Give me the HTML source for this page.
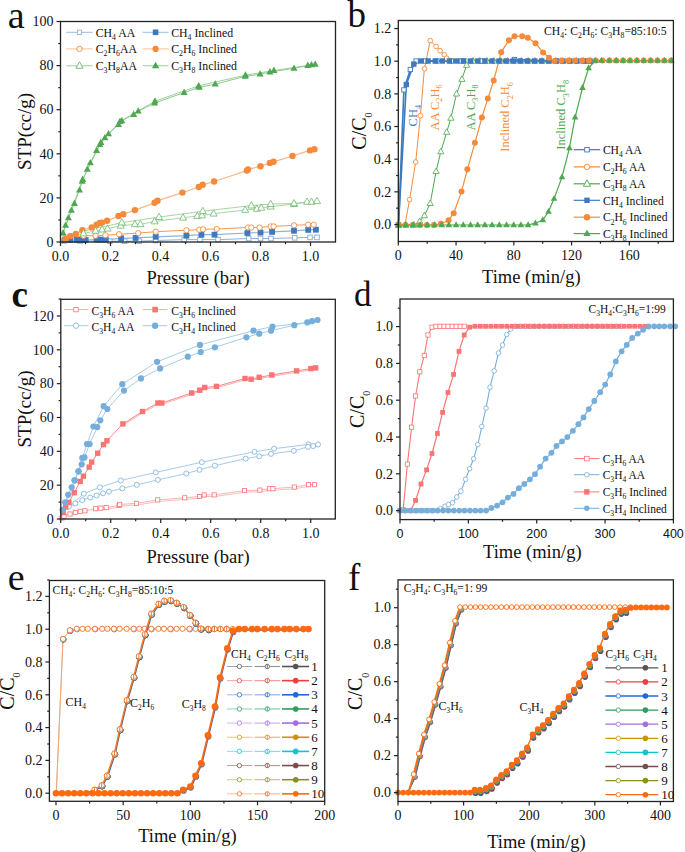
<!DOCTYPE html>
<html><head><meta charset="utf-8"><style>
html,body{margin:0;padding:0;background:#fff;}
svg{display:block;}
text{font-family:"Liberation Serif", serif;}
</style></head><body>
<svg width="685" height="852" viewBox="0 0 685 852">
<rect width="685" height="852" fill="#fff"/>
<polyline points="64,241 80,241 109.7,241.2 124.6,241.2 139.3,241.2 155.7,240.5 184.2,239.6 199.9,239.6 218,239.6 248.7,238.5 260.5,238.5 271,238.5 294.7,237.8 310,237.4 317,237.4" fill="none" stroke="#8fb2dc" stroke-width="1.0" stroke-linejoin="round" opacity="1.0"/>
<polyline points="64.9,240 70.3,240 76.9,240 81.3,240 85.7,240 96.6,239.6 101,239.6 105.8,239.6 121.1,238.3 135.6,237.9 155.7,236.8 186.4,235.7 201.4,234.7 214.5,234.7 247.4,233 260.5,232.5 272.1,231.9 294,230.8 308.2,229.9 315.9,229.7" fill="none" stroke="#8fb2dc" stroke-width="1.2" stroke-linejoin="round" opacity="1.0"/>
<polyline points="65.5,239.6 83.5,235.7 95.5,235.7 105.4,235.3 119,234.2 138.2,233.1 155.7,231.7 186.4,230.2 199.2,229.7 203.1,229.3 216.7,229 248,227.5 251.3,227.5 259.6,227.5 270.6,226.4 273.6,226.4 294,225.3 308.2,224.7 313.7,224.7" fill="none" stroke="#f58b3a" stroke-width="0.9" stroke-linejoin="round" opacity="1.0"/>
<polyline points="65.5,239 70.3,236.1 75.8,233.9 82.4,230.2 91.8,227.4 96.6,224.7 99.9,223 102.1,222.6 107.1,220.8 118.5,216 123.3,214.2 134.9,210.1 154.6,202.8 157.5,200.7 182.4,192.6 198.8,187 202.7,184.8 214.1,181.5 246.9,170.6 248,169.5 260.5,166.2 269.9,162.9 273.6,161.8 292.5,155.9 310,150.4 314.4,149.3" fill="none" stroke="#f9b989" stroke-width="1.3" stroke-linejoin="round" opacity="1.0"/>
<polyline points="62,239 83.5,233.5 95.5,230.9 102.1,229.6 107.6,228.7 120.7,225.8 134.9,224.3 140.4,224.3 154.6,221.5 183.1,217.7 197.3,216 202,215.5 213.6,213.7 245.2,210 256.8,208.9 261.2,207.8 270.6,206.7 294,204.1 307.1,201.9 311.5,201.9 317,201.2" fill="none" stroke="#8fcb8f" stroke-width="0.8" stroke-linejoin="round" opacity="1.0"/>
<polyline points="317,201.2 294,203.4 270.6,204.1 251.3,205.6 202.8,211.2 159,217.1 121.8,222.6 62,236" fill="none" stroke="#8fcb8f" stroke-width="0.8" stroke-linejoin="round" opacity="1.0"/>
<polyline points="63.1,233 65.6,225.4 68.4,217.8 71.4,210.3 74.4,203.5 79.5,190.1 82.2,181.3 87.3,169.4 90.3,162.9 96.6,150.5 99.9,144.7 104.9,137.9 108.5,133.9 118.5,124.6 121.8,120.8 133.7,114.5 138.2,111.2 154.6,103.1 184.1,92.5 199.2,87.4 215.2,84.1 245.2,76.4 260.1,74.2 269.9,72 294,68.3 307.8,65.5 311.5,64.8 315.2,64.4" fill="none" stroke="#8fcb8f" stroke-width="1.0" stroke-linejoin="round" opacity="1.0"/>
<polyline points="315.2,64.4 273.9,70.5 245.5,75.2 198.7,85.8 155,101.2 120,121.5 100.9,142.5 82.7,179.5 63.1,233" fill="none" stroke="#8fcb8f" stroke-width="0.9" stroke-linejoin="round" opacity="1.0"/>
<rect x="61.7" y="238.7" width="4.6" height="4.6" fill="#fff" stroke="#8fb2dc" stroke-width="1.0"/>
<rect x="77.7" y="238.7" width="4.6" height="4.6" fill="#fff" stroke="#8fb2dc" stroke-width="1.0"/>
<rect x="107.4" y="238.9" width="4.6" height="4.6" fill="#fff" stroke="#8fb2dc" stroke-width="1.0"/>
<rect x="122.3" y="238.9" width="4.6" height="4.6" fill="#fff" stroke="#8fb2dc" stroke-width="1.0"/>
<rect x="137" y="238.9" width="4.6" height="4.6" fill="#fff" stroke="#8fb2dc" stroke-width="1.0"/>
<rect x="153.4" y="238.2" width="4.6" height="4.6" fill="#fff" stroke="#8fb2dc" stroke-width="1.0"/>
<rect x="181.9" y="237.3" width="4.6" height="4.6" fill="#fff" stroke="#8fb2dc" stroke-width="1.0"/>
<rect x="197.6" y="237.3" width="4.6" height="4.6" fill="#fff" stroke="#8fb2dc" stroke-width="1.0"/>
<rect x="215.7" y="237.3" width="4.6" height="4.6" fill="#fff" stroke="#8fb2dc" stroke-width="1.0"/>
<rect x="246.4" y="236.2" width="4.6" height="4.6" fill="#fff" stroke="#8fb2dc" stroke-width="1.0"/>
<rect x="258.2" y="236.2" width="4.6" height="4.6" fill="#fff" stroke="#8fb2dc" stroke-width="1.0"/>
<rect x="268.7" y="236.2" width="4.6" height="4.6" fill="#fff" stroke="#8fb2dc" stroke-width="1.0"/>
<rect x="292.4" y="235.5" width="4.6" height="4.6" fill="#fff" stroke="#8fb2dc" stroke-width="1.0"/>
<rect x="307.7" y="235.1" width="4.6" height="4.6" fill="#fff" stroke="#8fb2dc" stroke-width="1.0"/>
<rect x="314.7" y="235.1" width="4.6" height="4.6" fill="#fff" stroke="#8fb2dc" stroke-width="1.0"/>
<rect x="62" y="237.1" width="5.8" height="5.8" fill="#3d79c0"/>
<rect x="67.4" y="237.1" width="5.8" height="5.8" fill="#3d79c0"/>
<rect x="74" y="237.1" width="5.8" height="5.8" fill="#3d79c0"/>
<rect x="78.4" y="237.1" width="5.8" height="5.8" fill="#3d79c0"/>
<rect x="82.8" y="237.1" width="5.8" height="5.8" fill="#3d79c0"/>
<rect x="93.7" y="236.7" width="5.8" height="5.8" fill="#3d79c0"/>
<rect x="98.1" y="236.7" width="5.8" height="5.8" fill="#3d79c0"/>
<rect x="102.9" y="236.7" width="5.8" height="5.8" fill="#3d79c0"/>
<rect x="118.2" y="235.4" width="5.8" height="5.8" fill="#3d79c0"/>
<rect x="132.7" y="235" width="5.8" height="5.8" fill="#3d79c0"/>
<rect x="152.8" y="233.9" width="5.8" height="5.8" fill="#3d79c0"/>
<rect x="183.5" y="232.8" width="5.8" height="5.8" fill="#3d79c0"/>
<rect x="198.5" y="231.8" width="5.8" height="5.8" fill="#3d79c0"/>
<rect x="211.6" y="231.8" width="5.8" height="5.8" fill="#3d79c0"/>
<rect x="244.5" y="230.1" width="5.8" height="5.8" fill="#3d79c0"/>
<rect x="257.6" y="229.6" width="5.8" height="5.8" fill="#3d79c0"/>
<rect x="269.2" y="229" width="5.8" height="5.8" fill="#3d79c0"/>
<rect x="291.1" y="227.9" width="5.8" height="5.8" fill="#3d79c0"/>
<rect x="305.3" y="227" width="5.8" height="5.8" fill="#3d79c0"/>
<rect x="313" y="226.8" width="5.8" height="5.8" fill="#3d79c0"/>
<circle cx="65.5" cy="239.6" r="2.65" fill="#fff" stroke="#f58b3a" stroke-width="0.9"/>
<circle cx="83.5" cy="235.7" r="2.65" fill="#fff" stroke="#f58b3a" stroke-width="0.9"/>
<circle cx="95.5" cy="235.7" r="2.65" fill="#fff" stroke="#f58b3a" stroke-width="0.9"/>
<circle cx="105.4" cy="235.3" r="2.65" fill="#fff" stroke="#f58b3a" stroke-width="0.9"/>
<circle cx="119" cy="234.2" r="2.65" fill="#fff" stroke="#f58b3a" stroke-width="0.9"/>
<circle cx="138.2" cy="233.1" r="2.65" fill="#fff" stroke="#f58b3a" stroke-width="0.9"/>
<circle cx="155.7" cy="231.7" r="2.65" fill="#fff" stroke="#f58b3a" stroke-width="0.9"/>
<circle cx="186.4" cy="230.2" r="2.65" fill="#fff" stroke="#f58b3a" stroke-width="0.9"/>
<circle cx="199.2" cy="229.7" r="2.65" fill="#fff" stroke="#f58b3a" stroke-width="0.9"/>
<circle cx="203.1" cy="229.3" r="2.65" fill="#fff" stroke="#f58b3a" stroke-width="0.9"/>
<circle cx="216.7" cy="229" r="2.65" fill="#fff" stroke="#f58b3a" stroke-width="0.9"/>
<circle cx="248" cy="227.5" r="2.65" fill="#fff" stroke="#f58b3a" stroke-width="0.9"/>
<circle cx="251.3" cy="227.5" r="2.65" fill="#fff" stroke="#f58b3a" stroke-width="0.9"/>
<circle cx="259.6" cy="227.5" r="2.65" fill="#fff" stroke="#f58b3a" stroke-width="0.9"/>
<circle cx="270.6" cy="226.4" r="2.65" fill="#fff" stroke="#f58b3a" stroke-width="0.9"/>
<circle cx="273.6" cy="226.4" r="2.65" fill="#fff" stroke="#f58b3a" stroke-width="0.9"/>
<circle cx="294" cy="225.3" r="2.65" fill="#fff" stroke="#f58b3a" stroke-width="0.9"/>
<circle cx="308.2" cy="224.7" r="2.65" fill="#fff" stroke="#f58b3a" stroke-width="0.9"/>
<circle cx="313.7" cy="224.7" r="2.65" fill="#fff" stroke="#f58b3a" stroke-width="0.9"/>
<circle cx="65.5" cy="239" r="3.2" fill="#f58b3a"/>
<circle cx="70.3" cy="236.1" r="3.2" fill="#f58b3a"/>
<circle cx="75.8" cy="233.9" r="3.2" fill="#f58b3a"/>
<circle cx="82.4" cy="230.2" r="3.2" fill="#f58b3a"/>
<circle cx="91.8" cy="227.4" r="3.2" fill="#f58b3a"/>
<circle cx="96.6" cy="224.7" r="3.2" fill="#f58b3a"/>
<circle cx="99.9" cy="223" r="3.2" fill="#f58b3a"/>
<circle cx="102.1" cy="222.6" r="3.2" fill="#f58b3a"/>
<circle cx="107.1" cy="220.8" r="3.2" fill="#f58b3a"/>
<circle cx="118.5" cy="216" r="3.2" fill="#f58b3a"/>
<circle cx="123.3" cy="214.2" r="3.2" fill="#f58b3a"/>
<circle cx="134.9" cy="210.1" r="3.2" fill="#f58b3a"/>
<circle cx="154.6" cy="202.8" r="3.2" fill="#f58b3a"/>
<circle cx="157.5" cy="200.7" r="3.2" fill="#f58b3a"/>
<circle cx="182.4" cy="192.6" r="3.2" fill="#f58b3a"/>
<circle cx="198.8" cy="187" r="3.2" fill="#f58b3a"/>
<circle cx="202.7" cy="184.8" r="3.2" fill="#f58b3a"/>
<circle cx="214.1" cy="181.5" r="3.2" fill="#f58b3a"/>
<circle cx="246.9" cy="170.6" r="3.2" fill="#f58b3a"/>
<circle cx="248" cy="169.5" r="3.2" fill="#f58b3a"/>
<circle cx="260.5" cy="166.2" r="3.2" fill="#f58b3a"/>
<circle cx="269.9" cy="162.9" r="3.2" fill="#f58b3a"/>
<circle cx="273.6" cy="161.8" r="3.2" fill="#f58b3a"/>
<circle cx="292.5" cy="155.9" r="3.2" fill="#f58b3a"/>
<circle cx="310" cy="150.4" r="3.2" fill="#f58b3a"/>
<circle cx="314.4" cy="149.3" r="3.2" fill="#f58b3a"/>
<polygon points="83.5,229.59 80,235.89 87,235.89" fill="#fff" stroke="#6cb86c" stroke-width="0.8" stroke-linejoin="miter"/>
<polygon points="95.5,226.99 92,233.29 99,233.29" fill="#fff" stroke="#6cb86c" stroke-width="0.8" stroke-linejoin="miter"/>
<polygon points="102.1,225.69 98.6,231.99 105.6,231.99" fill="#fff" stroke="#6cb86c" stroke-width="0.8" stroke-linejoin="miter"/>
<polygon points="107.6,224.79 104.1,231.09 111.1,231.09" fill="#fff" stroke="#6cb86c" stroke-width="0.8" stroke-linejoin="miter"/>
<polygon points="120.7,221.89 117.2,228.19 124.2,228.19" fill="#fff" stroke="#6cb86c" stroke-width="0.8" stroke-linejoin="miter"/>
<polygon points="134.9,220.39 131.4,226.69 138.4,226.69" fill="#fff" stroke="#6cb86c" stroke-width="0.8" stroke-linejoin="miter"/>
<polygon points="140.4,220.39 136.9,226.69 143.9,226.69" fill="#fff" stroke="#6cb86c" stroke-width="0.8" stroke-linejoin="miter"/>
<polygon points="154.6,217.59 151.1,223.89 158.1,223.89" fill="#fff" stroke="#6cb86c" stroke-width="0.8" stroke-linejoin="miter"/>
<polygon points="183.1,213.79 179.6,220.09 186.6,220.09" fill="#fff" stroke="#6cb86c" stroke-width="0.8" stroke-linejoin="miter"/>
<polygon points="197.3,212.09 193.8,218.39 200.8,218.39" fill="#fff" stroke="#6cb86c" stroke-width="0.8" stroke-linejoin="miter"/>
<polygon points="202,211.59 198.5,217.89 205.5,217.89" fill="#fff" stroke="#6cb86c" stroke-width="0.8" stroke-linejoin="miter"/>
<polygon points="213.6,209.79 210.1,216.09 217.1,216.09" fill="#fff" stroke="#6cb86c" stroke-width="0.8" stroke-linejoin="miter"/>
<polygon points="245.2,206.09 241.7,212.39 248.7,212.39" fill="#fff" stroke="#6cb86c" stroke-width="0.8" stroke-linejoin="miter"/>
<polygon points="256.8,204.99 253.3,211.29 260.3,211.29" fill="#fff" stroke="#6cb86c" stroke-width="0.8" stroke-linejoin="miter"/>
<polygon points="261.2,203.89 257.7,210.19 264.7,210.19" fill="#fff" stroke="#6cb86c" stroke-width="0.8" stroke-linejoin="miter"/>
<polygon points="270.6,202.79 267.1,209.09 274.1,209.09" fill="#fff" stroke="#6cb86c" stroke-width="0.8" stroke-linejoin="miter"/>
<polygon points="294,200.19 290.5,206.49 297.5,206.49" fill="#fff" stroke="#6cb86c" stroke-width="0.8" stroke-linejoin="miter"/>
<polygon points="307.1,197.99 303.6,204.29 310.6,204.29" fill="#fff" stroke="#6cb86c" stroke-width="0.8" stroke-linejoin="miter"/>
<polygon points="311.5,197.99 308,204.29 315,204.29" fill="#fff" stroke="#6cb86c" stroke-width="0.8" stroke-linejoin="miter"/>
<polygon points="317,197.29 313.5,203.59 320.5,203.59" fill="#fff" stroke="#6cb86c" stroke-width="0.8" stroke-linejoin="miter"/>
<polygon points="294,199.49 290.5,205.79 297.5,205.79" fill="#fff" stroke="#6cb86c" stroke-width="0.8" stroke-linejoin="miter"/>
<polygon points="270.6,200.19 267.1,206.49 274.1,206.49" fill="#fff" stroke="#6cb86c" stroke-width="0.8" stroke-linejoin="miter"/>
<polygon points="251.3,201.69 247.8,207.99 254.8,207.99" fill="#fff" stroke="#6cb86c" stroke-width="0.8" stroke-linejoin="miter"/>
<polygon points="202.8,207.29 199.3,213.59 206.3,213.59" fill="#fff" stroke="#6cb86c" stroke-width="0.8" stroke-linejoin="miter"/>
<polygon points="159,213.19 155.5,219.49 162.5,219.49" fill="#fff" stroke="#6cb86c" stroke-width="0.8" stroke-linejoin="miter"/>
<polygon points="121.8,218.69 118.3,224.99 125.3,224.99" fill="#fff" stroke="#6cb86c" stroke-width="0.8" stroke-linejoin="miter"/>
<polygon points="63.1,229.09 59.6,235.39 66.6,235.39" fill="#4ea84f"/>
<polygon points="65.6,221.49 62.1,227.79 69.1,227.79" fill="#4ea84f"/>
<polygon points="68.4,213.89 64.9,220.19 71.9,220.19" fill="#4ea84f"/>
<polygon points="71.4,206.39 67.9,212.69 74.9,212.69" fill="#4ea84f"/>
<polygon points="74.4,199.59 70.9,205.89 77.9,205.89" fill="#4ea84f"/>
<polygon points="79.5,186.19 76,192.49 83,192.49" fill="#4ea84f"/>
<polygon points="82.2,177.39 78.7,183.69 85.7,183.69" fill="#4ea84f"/>
<polygon points="87.3,165.49 83.8,171.79 90.8,171.79" fill="#4ea84f"/>
<polygon points="90.3,158.99 86.8,165.29 93.8,165.29" fill="#4ea84f"/>
<polygon points="96.6,146.59 93.1,152.89 100.1,152.89" fill="#4ea84f"/>
<polygon points="99.9,140.79 96.4,147.09 103.4,147.09" fill="#4ea84f"/>
<polygon points="104.9,133.99 101.4,140.29 108.4,140.29" fill="#4ea84f"/>
<polygon points="108.5,129.99 105,136.29 112,136.29" fill="#4ea84f"/>
<polygon points="118.5,120.69 115,126.99 122,126.99" fill="#4ea84f"/>
<polygon points="121.8,116.89 118.3,123.19 125.3,123.19" fill="#4ea84f"/>
<polygon points="133.7,110.59 130.2,116.89 137.2,116.89" fill="#4ea84f"/>
<polygon points="138.2,107.29 134.7,113.59 141.7,113.59" fill="#4ea84f"/>
<polygon points="154.6,99.19 151.1,105.49 158.1,105.49" fill="#4ea84f"/>
<polygon points="184.1,88.59 180.6,94.89 187.6,94.89" fill="#4ea84f"/>
<polygon points="199.2,83.49 195.7,89.79 202.7,89.79" fill="#4ea84f"/>
<polygon points="215.2,80.19 211.7,86.49 218.7,86.49" fill="#4ea84f"/>
<polygon points="245.2,72.49 241.7,78.79 248.7,78.79" fill="#4ea84f"/>
<polygon points="260.1,70.29 256.6,76.59 263.6,76.59" fill="#4ea84f"/>
<polygon points="269.9,68.09 266.4,74.39 273.4,74.39" fill="#4ea84f"/>
<polygon points="294,64.39 290.5,70.69 297.5,70.69" fill="#4ea84f"/>
<polygon points="307.8,61.59 304.3,67.89 311.3,67.89" fill="#4ea84f"/>
<polygon points="311.5,60.89 308,67.19 315,67.19" fill="#4ea84f"/>
<polygon points="315.2,60.49 311.7,66.79 318.7,66.79" fill="#4ea84f"/>
<polygon points="273.9,66.59 270.4,72.89 277.4,72.89" fill="#4ea84f"/>
<polygon points="245.5,71.29 242,77.59 249,77.59" fill="#4ea84f"/>
<polygon points="198.7,81.89 195.2,88.19 202.2,88.19" fill="#4ea84f"/>
<polygon points="155,97.29 151.5,103.59 158.5,103.59" fill="#4ea84f"/>
<polygon points="120,117.59 116.5,123.89 123.5,123.89" fill="#4ea84f"/>
<polygon points="100.9,138.59 97.4,144.89 104.4,144.89" fill="#4ea84f"/>
<polygon points="82.7,175.59 79.2,181.89 86.2,181.89" fill="#4ea84f"/>
<rect x="60.5" y="21.5" width="275" height="220.5" fill="none" stroke="#222" stroke-width="1.3"/>
<line x1="56.5" y1="242" x2="60.5" y2="242" stroke="#222" stroke-width="1.2"/>
<text x="53.5" y="246.76" font-size="14" text-anchor="end" fill="#111">0</text>
<line x1="56.5" y1="197.9" x2="60.5" y2="197.9" stroke="#222" stroke-width="1.2"/>
<text x="53.5" y="202.66" font-size="14" text-anchor="end" fill="#111">20</text>
<line x1="56.5" y1="153.8" x2="60.5" y2="153.8" stroke="#222" stroke-width="1.2"/>
<text x="53.5" y="158.56" font-size="14" text-anchor="end" fill="#111">40</text>
<line x1="56.5" y1="109.7" x2="60.5" y2="109.7" stroke="#222" stroke-width="1.2"/>
<text x="53.5" y="114.46" font-size="14" text-anchor="end" fill="#111">60</text>
<line x1="56.5" y1="65.6" x2="60.5" y2="65.6" stroke="#222" stroke-width="1.2"/>
<text x="53.5" y="70.36" font-size="14" text-anchor="end" fill="#111">80</text>
<line x1="56.5" y1="21.5" x2="60.5" y2="21.5" stroke="#222" stroke-width="1.2"/>
<text x="53.5" y="26.26" font-size="14" text-anchor="end" fill="#111">100</text>
<line x1="58.3" y1="219.95" x2="60.5" y2="219.95" stroke="#222" stroke-width="1.2"/>
<line x1="58.3" y1="175.85" x2="60.5" y2="175.85" stroke="#222" stroke-width="1.2"/>
<line x1="58.3" y1="131.75" x2="60.5" y2="131.75" stroke="#222" stroke-width="1.2"/>
<line x1="58.3" y1="87.65" x2="60.5" y2="87.65" stroke="#222" stroke-width="1.2"/>
<line x1="58.3" y1="43.55" x2="60.5" y2="43.55" stroke="#222" stroke-width="1.2"/>
<line x1="60.5" y1="242" x2="60.5" y2="246" stroke="#222" stroke-width="1.2"/>
<text x="60.5" y="260.5" font-size="14" text-anchor="middle" fill="#111">0.0</text>
<line x1="110.5" y1="242" x2="110.5" y2="246" stroke="#222" stroke-width="1.2"/>
<text x="110.5" y="260.5" font-size="14" text-anchor="middle" fill="#111">0.2</text>
<line x1="160.5" y1="242" x2="160.5" y2="246" stroke="#222" stroke-width="1.2"/>
<text x="160.5" y="260.5" font-size="14" text-anchor="middle" fill="#111">0.4</text>
<line x1="210.5" y1="242" x2="210.5" y2="246" stroke="#222" stroke-width="1.2"/>
<text x="210.5" y="260.5" font-size="14" text-anchor="middle" fill="#111">0.6</text>
<line x1="260.5" y1="242" x2="260.5" y2="246" stroke="#222" stroke-width="1.2"/>
<text x="260.5" y="260.5" font-size="14" text-anchor="middle" fill="#111">0.8</text>
<line x1="310.5" y1="242" x2="310.5" y2="246" stroke="#222" stroke-width="1.2"/>
<text x="310.5" y="260.5" font-size="14" text-anchor="middle" fill="#111">1.0</text>
<line x1="85.5" y1="242" x2="85.5" y2="244.2" stroke="#222" stroke-width="1.2"/>
<line x1="135.5" y1="242" x2="135.5" y2="244.2" stroke="#222" stroke-width="1.2"/>
<line x1="185.5" y1="242" x2="185.5" y2="244.2" stroke="#222" stroke-width="1.2"/>
<line x1="235.5" y1="242" x2="235.5" y2="244.2" stroke="#222" stroke-width="1.2"/>
<line x1="285.5" y1="242" x2="285.5" y2="244.2" stroke="#222" stroke-width="1.2"/>
<line x1="66.2" y1="32.3" x2="92.6" y2="32.3" stroke="#8fb2dc" stroke-width="0.9"/>
<rect x="77.35" y="30.15" width="4.3" height="4.3" fill="#fff" stroke="#8fb2dc" stroke-width="0.9"/>
<text x="95.7" y="36.5" font-size="11.8" text-anchor="start" fill="#111">CH<tspan font-size="7.79" dy="3.19">4</tspan><tspan dy="-3.19"> AA</tspan></text>
<line x1="142.6" y1="32.3" x2="168.6" y2="32.3" stroke="#8fb2dc" stroke-width="0.9"/>
<rect x="152.8" y="29.5" width="5.6" height="5.6" fill="#3d79c0"/>
<text x="171.2" y="36.5" font-size="11.8" text-anchor="start" fill="#111">CH<tspan font-size="7.79" dy="3.19">4</tspan><tspan dy="-3.19"> Inclined</tspan></text>
<line x1="66.2" y1="48.9" x2="92.6" y2="48.9" stroke="#f9b989" stroke-width="0.9"/>
<circle cx="79.5" cy="48.9" r="2.65" fill="#fff" stroke="#f58b3a" stroke-width="0.9"/>
<text x="95.7" y="53.1" font-size="11.8" text-anchor="start" fill="#111">C<tspan font-size="7.79" dy="3.19">2</tspan><tspan dy="-3.19">H</tspan><tspan font-size="7.79" dy="3.19">6</tspan><tspan dy="-3.19">AA</tspan></text>
<line x1="142.6" y1="48.9" x2="168.6" y2="48.9" stroke="#f9b989" stroke-width="0.9"/>
<circle cx="155.6" cy="48.9" r="3.1" fill="#f58b3a"/>
<text x="171.2" y="53.1" font-size="11.8" text-anchor="start" fill="#111">C<tspan font-size="7.79" dy="3.19">2</tspan><tspan dy="-3.19">H</tspan><tspan font-size="7.79" dy="3.19">6</tspan><tspan dy="-3.19"> Inclined</tspan></text>
<line x1="66.2" y1="65.8" x2="92.6" y2="65.8" stroke="#8fcb8f" stroke-width="0.9"/>
<polygon points="79.5,61.78 75.9,68.26 83.1,68.26" fill="#fff" stroke="#6cb86c" stroke-width="0.9" stroke-linejoin="miter"/>
<text x="95.7" y="70" font-size="11.8" text-anchor="start" fill="#111">C<tspan font-size="7.79" dy="3.19">3</tspan><tspan dy="-3.19">H</tspan><tspan font-size="7.79" dy="3.19">8</tspan><tspan dy="-3.19">AA</tspan></text>
<line x1="142.6" y1="65.8" x2="168.6" y2="65.8" stroke="#8fcb8f" stroke-width="0.9"/>
<polygon points="155.6,61.67 151.9,68.33 159.3,68.33" fill="#4ea84f"/>
<text x="171.2" y="70" font-size="11.8" text-anchor="start" fill="#111">C<tspan font-size="7.79" dy="3.19">3</tspan><tspan dy="-3.19">H</tspan><tspan font-size="7.79" dy="3.19">8</tspan><tspan dy="-3.19"> Inclined</tspan></text>
<text x="198" y="283.5" font-size="18.5" text-anchor="middle" fill="#111">Pressure (bar)</text>
<text x="31.2" y="131.5" font-size="19" text-anchor="middle" fill="#111" transform="rotate(-90 31.2 131.5)">STP(cc/g)</text>
<text x="7.8" y="28" font-size="38" text-anchor="start" fill="#111">a</text>
<polyline points="398.5,225 404.9,225 409.6,199.6 415.7,162 420.4,115.7 424.4,68.8 430.2,40.6 436.1,46.4 440.1,50.7 444.3,54.7 446.7,58.2 452,61 458.9,61 465.8,61 472.7,61 479.6,61 486.5,61 493.4,61 500.3,61 507.2,61 514.1,61 521,61 527.9,61 534.8,61 541.7,61 548.6,61 555.5,61 562.4,61 569.3,61 576.2,61 583.1,61 590,61" fill="none" stroke="#f58b3a" stroke-width="1.0" stroke-linejoin="round" opacity="1.0"/>
<polyline points="398.5,225 406,225 413.8,225 419.7,221.4 424.4,215.6 430.2,203.4 436.1,171.4 440.8,151.7 446.7,132.2 450.9,118.1 456.5,93.9 461.9,79.3 466.6,65.2 473,61 479.9,61 486.8,61 493.7,61 500.6,61 507.5,61 514.4,61 521.3,61 528.2,61 535.1,61 542,61 548.9,61 555.8,61 562.7,61 569.6,61 576.5,61 583.4,61 590.3,61" fill="none" stroke="#4ea84f" stroke-width="1.0" stroke-linejoin="round" opacity="1.0"/>
<polyline points="398.5,225 403.9,89.9 410.3,69.5 416.1,61 425.5,61 436.8,61 451.4,61 461.9,61 481.9,61 514.5,59.5 556,61 588,61" fill="none" stroke="#3d79c0" stroke-width="1.6" stroke-linejoin="round" opacity="1.0"/>
<polyline points="398.5,225 406.3,84.5 413.8,64.1 421,61 428.1,61 435.2,61 442.3,61 449.4,61 456.5,61 463.6,61 470.7,61 477.8,61 484.9,61 492,61 499.1,61 506.2,61 513.3,61 520.4,61 527.5,61 534.6,61 541.7,61 548.8,61 556,61 563,61 570,61 577,61 584,61 590,61" fill="none" stroke="#3d79c0" stroke-width="1.6" stroke-linejoin="round" opacity="1.0"/>
<circle cx="398.5" cy="225" r="2.35" fill="#fff" stroke="#f58b3a" stroke-width="0.9"/>
<circle cx="404.9" cy="225" r="2.35" fill="#fff" stroke="#f58b3a" stroke-width="0.9"/>
<circle cx="409.6" cy="199.6" r="2.35" fill="#fff" stroke="#f58b3a" stroke-width="0.9"/>
<circle cx="415.7" cy="162" r="2.35" fill="#fff" stroke="#f58b3a" stroke-width="0.9"/>
<circle cx="420.4" cy="115.7" r="2.35" fill="#fff" stroke="#f58b3a" stroke-width="0.9"/>
<circle cx="424.4" cy="68.8" r="2.35" fill="#fff" stroke="#f58b3a" stroke-width="0.9"/>
<circle cx="430.2" cy="40.6" r="2.35" fill="#fff" stroke="#f58b3a" stroke-width="0.9"/>
<circle cx="436.1" cy="46.4" r="2.35" fill="#fff" stroke="#f58b3a" stroke-width="0.9"/>
<circle cx="440.1" cy="50.7" r="2.35" fill="#fff" stroke="#f58b3a" stroke-width="0.9"/>
<circle cx="444.3" cy="54.7" r="2.35" fill="#fff" stroke="#f58b3a" stroke-width="0.9"/>
<circle cx="446.7" cy="58.2" r="2.35" fill="#fff" stroke="#f58b3a" stroke-width="0.9"/>
<circle cx="452" cy="61" r="2.35" fill="#fff" stroke="#f58b3a" stroke-width="0.9"/>
<circle cx="458.9" cy="61" r="2.35" fill="#fff" stroke="#f58b3a" stroke-width="0.9"/>
<circle cx="465.8" cy="61" r="2.35" fill="#fff" stroke="#f58b3a" stroke-width="0.9"/>
<circle cx="472.7" cy="61" r="2.35" fill="#fff" stroke="#f58b3a" stroke-width="0.9"/>
<circle cx="479.6" cy="61" r="2.35" fill="#fff" stroke="#f58b3a" stroke-width="0.9"/>
<circle cx="486.5" cy="61" r="2.35" fill="#fff" stroke="#f58b3a" stroke-width="0.9"/>
<circle cx="493.4" cy="61" r="2.35" fill="#fff" stroke="#f58b3a" stroke-width="0.9"/>
<circle cx="500.3" cy="61" r="2.35" fill="#fff" stroke="#f58b3a" stroke-width="0.9"/>
<circle cx="507.2" cy="61" r="2.35" fill="#fff" stroke="#f58b3a" stroke-width="0.9"/>
<circle cx="514.1" cy="61" r="2.35" fill="#fff" stroke="#f58b3a" stroke-width="0.9"/>
<circle cx="521" cy="61" r="2.35" fill="#fff" stroke="#f58b3a" stroke-width="0.9"/>
<circle cx="527.9" cy="61" r="2.35" fill="#fff" stroke="#f58b3a" stroke-width="0.9"/>
<circle cx="534.8" cy="61" r="2.35" fill="#fff" stroke="#f58b3a" stroke-width="0.9"/>
<circle cx="541.7" cy="61" r="2.35" fill="#fff" stroke="#f58b3a" stroke-width="0.9"/>
<circle cx="548.6" cy="61" r="2.35" fill="#fff" stroke="#f58b3a" stroke-width="0.9"/>
<circle cx="555.5" cy="61" r="2.35" fill="#fff" stroke="#f58b3a" stroke-width="0.9"/>
<circle cx="562.4" cy="61" r="2.35" fill="#fff" stroke="#f58b3a" stroke-width="0.9"/>
<circle cx="569.3" cy="61" r="2.35" fill="#fff" stroke="#f58b3a" stroke-width="0.9"/>
<circle cx="576.2" cy="61" r="2.35" fill="#fff" stroke="#f58b3a" stroke-width="0.9"/>
<circle cx="583.1" cy="61" r="2.35" fill="#fff" stroke="#f58b3a" stroke-width="0.9"/>
<circle cx="590" cy="61" r="2.35" fill="#fff" stroke="#f58b3a" stroke-width="0.9"/>
<polygon points="398.5,221.54 395.4,227.12 401.6,227.12" fill="#fff" stroke="#4ea84f" stroke-width="0.8" stroke-linejoin="miter"/>
<polygon points="406,221.54 402.9,227.12 409.1,227.12" fill="#fff" stroke="#4ea84f" stroke-width="0.8" stroke-linejoin="miter"/>
<polygon points="413.8,221.54 410.7,227.12 416.9,227.12" fill="#fff" stroke="#4ea84f" stroke-width="0.8" stroke-linejoin="miter"/>
<polygon points="419.7,217.94 416.6,223.52 422.8,223.52" fill="#fff" stroke="#4ea84f" stroke-width="0.8" stroke-linejoin="miter"/>
<polygon points="424.4,212.14 421.3,217.72 427.5,217.72" fill="#fff" stroke="#4ea84f" stroke-width="0.8" stroke-linejoin="miter"/>
<polygon points="430.2,199.94 427.1,205.52 433.3,205.52" fill="#fff" stroke="#4ea84f" stroke-width="0.8" stroke-linejoin="miter"/>
<polygon points="436.1,167.94 433,173.52 439.2,173.52" fill="#fff" stroke="#4ea84f" stroke-width="0.8" stroke-linejoin="miter"/>
<polygon points="440.8,148.24 437.7,153.82 443.9,153.82" fill="#fff" stroke="#4ea84f" stroke-width="0.8" stroke-linejoin="miter"/>
<polygon points="446.7,128.74 443.6,134.32 449.8,134.32" fill="#fff" stroke="#4ea84f" stroke-width="0.8" stroke-linejoin="miter"/>
<polygon points="450.9,114.64 447.8,120.22 454,120.22" fill="#fff" stroke="#4ea84f" stroke-width="0.8" stroke-linejoin="miter"/>
<polygon points="456.5,90.44 453.4,96.02 459.6,96.02" fill="#fff" stroke="#4ea84f" stroke-width="0.8" stroke-linejoin="miter"/>
<polygon points="461.9,75.84 458.8,81.42 465,81.42" fill="#fff" stroke="#4ea84f" stroke-width="0.8" stroke-linejoin="miter"/>
<polygon points="466.6,61.74 463.5,67.32 469.7,67.32" fill="#fff" stroke="#4ea84f" stroke-width="0.8" stroke-linejoin="miter"/>
<polygon points="473,57.54 469.9,63.12 476.1,63.12" fill="#fff" stroke="#4ea84f" stroke-width="0.8" stroke-linejoin="miter"/>
<polygon points="479.9,57.54 476.8,63.12 483,63.12" fill="#fff" stroke="#4ea84f" stroke-width="0.8" stroke-linejoin="miter"/>
<polygon points="486.8,57.54 483.7,63.12 489.9,63.12" fill="#fff" stroke="#4ea84f" stroke-width="0.8" stroke-linejoin="miter"/>
<polygon points="493.7,57.54 490.6,63.12 496.8,63.12" fill="#fff" stroke="#4ea84f" stroke-width="0.8" stroke-linejoin="miter"/>
<polygon points="500.6,57.54 497.5,63.12 503.7,63.12" fill="#fff" stroke="#4ea84f" stroke-width="0.8" stroke-linejoin="miter"/>
<polygon points="507.5,57.54 504.4,63.12 510.6,63.12" fill="#fff" stroke="#4ea84f" stroke-width="0.8" stroke-linejoin="miter"/>
<polygon points="514.4,57.54 511.3,63.12 517.5,63.12" fill="#fff" stroke="#4ea84f" stroke-width="0.8" stroke-linejoin="miter"/>
<polygon points="521.3,57.54 518.2,63.12 524.4,63.12" fill="#fff" stroke="#4ea84f" stroke-width="0.8" stroke-linejoin="miter"/>
<polygon points="528.2,57.54 525.1,63.12 531.3,63.12" fill="#fff" stroke="#4ea84f" stroke-width="0.8" stroke-linejoin="miter"/>
<polygon points="535.1,57.54 532,63.12 538.2,63.12" fill="#fff" stroke="#4ea84f" stroke-width="0.8" stroke-linejoin="miter"/>
<polygon points="542,57.54 538.9,63.12 545.1,63.12" fill="#fff" stroke="#4ea84f" stroke-width="0.8" stroke-linejoin="miter"/>
<polygon points="548.9,57.54 545.8,63.12 552,63.12" fill="#fff" stroke="#4ea84f" stroke-width="0.8" stroke-linejoin="miter"/>
<polygon points="555.8,57.54 552.7,63.12 558.9,63.12" fill="#fff" stroke="#4ea84f" stroke-width="0.8" stroke-linejoin="miter"/>
<polygon points="562.7,57.54 559.6,63.12 565.8,63.12" fill="#fff" stroke="#4ea84f" stroke-width="0.8" stroke-linejoin="miter"/>
<polygon points="569.6,57.54 566.5,63.12 572.7,63.12" fill="#fff" stroke="#4ea84f" stroke-width="0.8" stroke-linejoin="miter"/>
<polygon points="576.5,57.54 573.4,63.12 579.6,63.12" fill="#fff" stroke="#4ea84f" stroke-width="0.8" stroke-linejoin="miter"/>
<polygon points="583.4,57.54 580.3,63.12 586.5,63.12" fill="#fff" stroke="#4ea84f" stroke-width="0.8" stroke-linejoin="miter"/>
<polygon points="590.3,57.54 587.2,63.12 593.4,63.12" fill="#fff" stroke="#4ea84f" stroke-width="0.8" stroke-linejoin="miter"/>
<rect x="396.35" y="222.85" width="4.3" height="4.3" fill="#fff" stroke="#3d79c0" stroke-width="0.9"/>
<rect x="401.75" y="87.75" width="4.3" height="4.3" fill="#fff" stroke="#3d79c0" stroke-width="0.9"/>
<rect x="408.15" y="67.35" width="4.3" height="4.3" fill="#fff" stroke="#3d79c0" stroke-width="0.9"/>
<rect x="413.95" y="58.85" width="4.3" height="4.3" fill="#fff" stroke="#3d79c0" stroke-width="0.9"/>
<rect x="423.35" y="58.85" width="4.3" height="4.3" fill="#fff" stroke="#3d79c0" stroke-width="0.9"/>
<rect x="434.65" y="58.85" width="4.3" height="4.3" fill="#fff" stroke="#3d79c0" stroke-width="0.9"/>
<rect x="449.25" y="58.85" width="4.3" height="4.3" fill="#fff" stroke="#3d79c0" stroke-width="0.9"/>
<rect x="459.75" y="58.85" width="4.3" height="4.3" fill="#fff" stroke="#3d79c0" stroke-width="0.9"/>
<rect x="479.75" y="58.85" width="4.3" height="4.3" fill="#fff" stroke="#3d79c0" stroke-width="0.9"/>
<rect x="512.35" y="57.35" width="4.3" height="4.3" fill="#fff" stroke="#3d79c0" stroke-width="0.9"/>
<rect x="553.85" y="58.85" width="4.3" height="4.3" fill="#fff" stroke="#3d79c0" stroke-width="0.9"/>
<rect x="585.85" y="58.85" width="4.3" height="4.3" fill="#fff" stroke="#3d79c0" stroke-width="0.9"/>
<polyline points="398.5,225 405.6,225 412.7,225 419.8,225 426.9,225 434,225 440.8,223.8 448.6,220.3 453.7,213.2 461.5,191.6 467.4,169.3 474.9,142.8 481.9,117.4 487.8,98.6 493.7,80.5 501.2,52.2 508.9,40.3 514.5,36.2 522.2,36.2 527.8,37.8 535.5,43.2 543.1,52.4 549.1,57.7 554.6,61 561.5,60.6 568.35,60.6 575.2,60.6 582.05,60.6 588.9,60.6 595.75,60.6 602.6,60.6 609.45,60.6 616.3,60.6 623.15,60.6 630,60.6 636.85,60.6 643.7,60.6 650.55,60.6 657.4,60.6 664.25,60.6 671.1,60.6" fill="none" stroke="#f58b3a" stroke-width="1.2" stroke-linejoin="round" opacity="1.0"/>
<polyline points="398.5,225 405.7,225 412.9,225 420.1,225 427.3,225 434.5,225 441.7,225 448.9,225 456.1,225 463.3,225 470.5,225 477.7,225 484.9,225 492.1,225 499.3,225 506.5,225 513.7,225 520.9,225 528.1,225 535.4,223.2 542.8,220 548.5,211.6 554.1,198.6 562,177.1 569.4,148.1 575.1,117.3 582.5,87.7 588.6,68 595.3,60.6 601.4,60.6 609.3,60.6 616.2,60.6 623.1,60.6 630,60.6 636.9,60.6 643.8,60.6 650.7,60.6 657.6,60.6 664.5,60.6 671.4,60.6" fill="none" stroke="#4ea84f" stroke-width="1.2" stroke-linejoin="round" opacity="1.0"/>
<rect x="395.8" y="222.3" width="5.4" height="5.4" fill="#3d79c0"/>
<rect x="403.6" y="81.8" width="5.4" height="5.4" fill="#3d79c0"/>
<rect x="411.1" y="61.4" width="5.4" height="5.4" fill="#3d79c0"/>
<rect x="418.3" y="58.3" width="5.4" height="5.4" fill="#3d79c0"/>
<rect x="425.4" y="58.3" width="5.4" height="5.4" fill="#3d79c0"/>
<rect x="432.5" y="58.3" width="5.4" height="5.4" fill="#3d79c0"/>
<rect x="439.6" y="58.3" width="5.4" height="5.4" fill="#3d79c0"/>
<rect x="446.7" y="58.3" width="5.4" height="5.4" fill="#3d79c0"/>
<rect x="453.8" y="58.3" width="5.4" height="5.4" fill="#3d79c0"/>
<rect x="460.9" y="58.3" width="5.4" height="5.4" fill="#3d79c0"/>
<rect x="468" y="58.3" width="5.4" height="5.4" fill="#3d79c0"/>
<rect x="475.1" y="58.3" width="5.4" height="5.4" fill="#3d79c0"/>
<rect x="482.2" y="58.3" width="5.4" height="5.4" fill="#3d79c0"/>
<rect x="489.3" y="58.3" width="5.4" height="5.4" fill="#3d79c0"/>
<rect x="496.4" y="58.3" width="5.4" height="5.4" fill="#3d79c0"/>
<rect x="503.5" y="58.3" width="5.4" height="5.4" fill="#3d79c0"/>
<rect x="510.6" y="58.3" width="5.4" height="5.4" fill="#3d79c0"/>
<rect x="517.7" y="58.3" width="5.4" height="5.4" fill="#3d79c0"/>
<rect x="524.8" y="58.3" width="5.4" height="5.4" fill="#3d79c0"/>
<rect x="531.9" y="58.3" width="5.4" height="5.4" fill="#3d79c0"/>
<rect x="539" y="58.3" width="5.4" height="5.4" fill="#3d79c0"/>
<rect x="546.1" y="58.3" width="5.4" height="5.4" fill="#3d79c0"/>
<rect x="553.3" y="58.3" width="5.4" height="5.4" fill="#3d79c0"/>
<rect x="560.3" y="58.3" width="5.4" height="5.4" fill="#3d79c0"/>
<rect x="567.3" y="58.3" width="5.4" height="5.4" fill="#3d79c0"/>
<rect x="574.3" y="58.3" width="5.4" height="5.4" fill="#3d79c0"/>
<rect x="581.3" y="58.3" width="5.4" height="5.4" fill="#3d79c0"/>
<rect x="587.3" y="58.3" width="5.4" height="5.4" fill="#3d79c0"/>
<circle cx="398.5" cy="225" r="3" fill="#f58b3a"/>
<circle cx="405.6" cy="225" r="3" fill="#f58b3a"/>
<circle cx="412.7" cy="225" r="3" fill="#f58b3a"/>
<circle cx="419.8" cy="225" r="3" fill="#f58b3a"/>
<circle cx="426.9" cy="225" r="3" fill="#f58b3a"/>
<circle cx="434" cy="225" r="3" fill="#f58b3a"/>
<circle cx="440.8" cy="223.8" r="3" fill="#f58b3a"/>
<circle cx="448.6" cy="220.3" r="3" fill="#f58b3a"/>
<circle cx="453.7" cy="213.2" r="3" fill="#f58b3a"/>
<circle cx="461.5" cy="191.6" r="3" fill="#f58b3a"/>
<circle cx="467.4" cy="169.3" r="3" fill="#f58b3a"/>
<circle cx="474.9" cy="142.8" r="3" fill="#f58b3a"/>
<circle cx="481.9" cy="117.4" r="3" fill="#f58b3a"/>
<circle cx="487.8" cy="98.6" r="3" fill="#f58b3a"/>
<circle cx="493.7" cy="80.5" r="3" fill="#f58b3a"/>
<circle cx="501.2" cy="52.2" r="3" fill="#f58b3a"/>
<circle cx="508.9" cy="40.3" r="3" fill="#f58b3a"/>
<circle cx="514.5" cy="36.2" r="3" fill="#f58b3a"/>
<circle cx="522.2" cy="36.2" r="3" fill="#f58b3a"/>
<circle cx="527.8" cy="37.8" r="3" fill="#f58b3a"/>
<circle cx="535.5" cy="43.2" r="3" fill="#f58b3a"/>
<circle cx="543.1" cy="52.4" r="3" fill="#f58b3a"/>
<circle cx="549.1" cy="57.7" r="3" fill="#f58b3a"/>
<circle cx="554.6" cy="61" r="3" fill="#f58b3a"/>
<circle cx="561.5" cy="60.6" r="3" fill="#f58b3a"/>
<circle cx="568.35" cy="60.6" r="3" fill="#f58b3a"/>
<circle cx="575.2" cy="60.6" r="3" fill="#f58b3a"/>
<circle cx="582.05" cy="60.6" r="3" fill="#f58b3a"/>
<circle cx="588.9" cy="60.6" r="3" fill="#f58b3a"/>
<circle cx="595.75" cy="60.6" r="3" fill="#f58b3a"/>
<circle cx="602.6" cy="60.6" r="3" fill="#f58b3a"/>
<circle cx="609.45" cy="60.6" r="3" fill="#f58b3a"/>
<circle cx="616.3" cy="60.6" r="3" fill="#f58b3a"/>
<circle cx="623.15" cy="60.6" r="3" fill="#f58b3a"/>
<circle cx="630" cy="60.6" r="3" fill="#f58b3a"/>
<circle cx="636.85" cy="60.6" r="3" fill="#f58b3a"/>
<circle cx="643.7" cy="60.6" r="3" fill="#f58b3a"/>
<circle cx="650.55" cy="60.6" r="3" fill="#f58b3a"/>
<circle cx="657.4" cy="60.6" r="3" fill="#f58b3a"/>
<circle cx="664.25" cy="60.6" r="3" fill="#f58b3a"/>
<circle cx="671.1" cy="60.6" r="3" fill="#f58b3a"/>
<polygon points="398.5,221.32 395.2,227.26 401.8,227.26" fill="#4ea84f"/>
<polygon points="405.7,221.32 402.4,227.26 409,227.26" fill="#4ea84f"/>
<polygon points="412.9,221.32 409.6,227.26 416.2,227.26" fill="#4ea84f"/>
<polygon points="420.1,221.32 416.8,227.26 423.4,227.26" fill="#4ea84f"/>
<polygon points="427.3,221.32 424,227.26 430.6,227.26" fill="#4ea84f"/>
<polygon points="434.5,221.32 431.2,227.26 437.8,227.26" fill="#4ea84f"/>
<polygon points="441.7,221.32 438.4,227.26 445,227.26" fill="#4ea84f"/>
<polygon points="448.9,221.32 445.6,227.26 452.2,227.26" fill="#4ea84f"/>
<polygon points="456.1,221.32 452.8,227.26 459.4,227.26" fill="#4ea84f"/>
<polygon points="463.3,221.32 460,227.26 466.6,227.26" fill="#4ea84f"/>
<polygon points="470.5,221.32 467.2,227.26 473.8,227.26" fill="#4ea84f"/>
<polygon points="477.7,221.32 474.4,227.26 481,227.26" fill="#4ea84f"/>
<polygon points="484.9,221.32 481.6,227.26 488.2,227.26" fill="#4ea84f"/>
<polygon points="492.1,221.32 488.8,227.26 495.4,227.26" fill="#4ea84f"/>
<polygon points="499.3,221.32 496,227.26 502.6,227.26" fill="#4ea84f"/>
<polygon points="506.5,221.32 503.2,227.26 509.8,227.26" fill="#4ea84f"/>
<polygon points="513.7,221.32 510.4,227.26 517,227.26" fill="#4ea84f"/>
<polygon points="520.9,221.32 517.6,227.26 524.2,227.26" fill="#4ea84f"/>
<polygon points="528.1,221.32 524.8,227.26 531.4,227.26" fill="#4ea84f"/>
<polygon points="535.4,219.52 532.1,225.46 538.7,225.46" fill="#4ea84f"/>
<polygon points="542.8,216.32 539.5,222.26 546.1,222.26" fill="#4ea84f"/>
<polygon points="548.5,207.92 545.2,213.86 551.8,213.86" fill="#4ea84f"/>
<polygon points="554.1,194.92 550.8,200.86 557.4,200.86" fill="#4ea84f"/>
<polygon points="562,173.42 558.7,179.36 565.3,179.36" fill="#4ea84f"/>
<polygon points="569.4,144.42 566.1,150.36 572.7,150.36" fill="#4ea84f"/>
<polygon points="575.1,113.62 571.8,119.56 578.4,119.56" fill="#4ea84f"/>
<polygon points="582.5,84.02 579.2,89.96 585.8,89.96" fill="#4ea84f"/>
<polygon points="588.6,64.32 585.3,70.26 591.9,70.26" fill="#4ea84f"/>
<polygon points="595.3,56.92 592,62.86 598.6,62.86" fill="#4ea84f"/>
<polygon points="601.4,56.92 598.1,62.86 604.7,62.86" fill="#4ea84f"/>
<polygon points="609.3,56.92 606,62.86 612.6,62.86" fill="#4ea84f"/>
<polygon points="616.2,56.92 612.9,62.86 619.5,62.86" fill="#4ea84f"/>
<polygon points="623.1,56.92 619.8,62.86 626.4,62.86" fill="#4ea84f"/>
<polygon points="630,56.92 626.7,62.86 633.3,62.86" fill="#4ea84f"/>
<polygon points="636.9,56.92 633.6,62.86 640.2,62.86" fill="#4ea84f"/>
<polygon points="643.8,56.92 640.5,62.86 647.1,62.86" fill="#4ea84f"/>
<polygon points="650.7,56.92 647.4,62.86 654,62.86" fill="#4ea84f"/>
<polygon points="657.6,56.92 654.3,62.86 660.9,62.86" fill="#4ea84f"/>
<polygon points="664.5,56.92 661.2,62.86 667.8,62.86" fill="#4ea84f"/>
<polygon points="671.4,56.92 668.1,62.86 674.7,62.86" fill="#4ea84f"/>
<rect x="398.3" y="20.5" width="275.1" height="221" fill="none" stroke="#222" stroke-width="1.3"/>
<line x1="394.3" y1="224.5" x2="398.3" y2="224.5" stroke="#222" stroke-width="1.2"/>
<text x="391.3" y="229.26" font-size="14" text-anchor="end" fill="#111">0.0</text>
<line x1="394.3" y1="191.84" x2="398.3" y2="191.84" stroke="#222" stroke-width="1.2"/>
<text x="391.3" y="196.6" font-size="14" text-anchor="end" fill="#111">0.2</text>
<line x1="394.3" y1="159.18" x2="398.3" y2="159.18" stroke="#222" stroke-width="1.2"/>
<text x="391.3" y="163.94" font-size="14" text-anchor="end" fill="#111">0.4</text>
<line x1="394.3" y1="126.52" x2="398.3" y2="126.52" stroke="#222" stroke-width="1.2"/>
<text x="391.3" y="131.28" font-size="14" text-anchor="end" fill="#111">0.6</text>
<line x1="394.3" y1="93.86" x2="398.3" y2="93.86" stroke="#222" stroke-width="1.2"/>
<text x="391.3" y="98.62" font-size="14" text-anchor="end" fill="#111">0.8</text>
<line x1="394.3" y1="61.2" x2="398.3" y2="61.2" stroke="#222" stroke-width="1.2"/>
<text x="391.3" y="65.96" font-size="14" text-anchor="end" fill="#111">1.0</text>
<line x1="394.3" y1="28.54" x2="398.3" y2="28.54" stroke="#222" stroke-width="1.2"/>
<text x="391.3" y="33.3" font-size="14" text-anchor="end" fill="#111">1.2</text>
<line x1="396.1" y1="208.17" x2="398.3" y2="208.17" stroke="#222" stroke-width="1.2"/>
<line x1="396.1" y1="175.51" x2="398.3" y2="175.51" stroke="#222" stroke-width="1.2"/>
<line x1="396.1" y1="142.85" x2="398.3" y2="142.85" stroke="#222" stroke-width="1.2"/>
<line x1="396.1" y1="110.19" x2="398.3" y2="110.19" stroke="#222" stroke-width="1.2"/>
<line x1="396.1" y1="77.53" x2="398.3" y2="77.53" stroke="#222" stroke-width="1.2"/>
<line x1="396.1" y1="44.87" x2="398.3" y2="44.87" stroke="#222" stroke-width="1.2"/>
<line x1="398.3" y1="241.5" x2="398.3" y2="245.5" stroke="#222" stroke-width="1.2"/>
<text x="398.3" y="260" font-size="14" text-anchor="middle" fill="#111">0</text>
<line x1="456.06" y1="241.5" x2="456.06" y2="245.5" stroke="#222" stroke-width="1.2"/>
<text x="456.06" y="260" font-size="14" text-anchor="middle" fill="#111">40</text>
<line x1="513.82" y1="241.5" x2="513.82" y2="245.5" stroke="#222" stroke-width="1.2"/>
<text x="513.82" y="260" font-size="14" text-anchor="middle" fill="#111">80</text>
<line x1="571.58" y1="241.5" x2="571.58" y2="245.5" stroke="#222" stroke-width="1.2"/>
<text x="571.58" y="260" font-size="14" text-anchor="middle" fill="#111">120</text>
<line x1="629.34" y1="241.5" x2="629.34" y2="245.5" stroke="#222" stroke-width="1.2"/>
<text x="629.34" y="260" font-size="14" text-anchor="middle" fill="#111">160</text>
<line x1="427.18" y1="241.5" x2="427.18" y2="243.7" stroke="#222" stroke-width="1.2"/>
<line x1="484.94" y1="241.5" x2="484.94" y2="243.7" stroke="#222" stroke-width="1.2"/>
<line x1="542.7" y1="241.5" x2="542.7" y2="243.7" stroke="#222" stroke-width="1.2"/>
<line x1="600.46" y1="241.5" x2="600.46" y2="243.7" stroke="#222" stroke-width="1.2"/>
<line x1="658.22" y1="241.5" x2="658.22" y2="243.7" stroke="#222" stroke-width="1.2"/>
<line x1="573.7" y1="149.7" x2="600.1" y2="149.7" stroke="#3d79c0" stroke-width="1.2"/>
<rect x="584.75" y="147.45" width="4.5" height="4.5" fill="#fff" stroke="#3d79c0" stroke-width="0.9"/>
<text x="602.9" y="153.9" font-size="11.6" text-anchor="start" fill="#111">CH<tspan font-size="7.66" dy="3.13">4</tspan><tspan dy="-3.13"> AA</tspan></text>
<line x1="573.7" y1="166.9" x2="600.1" y2="166.9" stroke="#f58b3a" stroke-width="1.2"/>
<circle cx="587" cy="166.9" r="2.75" fill="#fff" stroke="#f58b3a" stroke-width="0.9"/>
<text x="602.9" y="171.1" font-size="11.6" text-anchor="start" fill="#111">C<tspan font-size="7.66" dy="3.13">2</tspan><tspan dy="-3.13">H</tspan><tspan font-size="7.66" dy="3.13">6</tspan><tspan dy="-3.13"> AA</tspan></text>
<line x1="573.7" y1="183.8" x2="600.1" y2="183.8" stroke="#4ea84f" stroke-width="1.2"/>
<polygon points="587,179.78 583.4,186.26 590.6,186.26" fill="#fff" stroke="#4ea84f" stroke-width="0.9" stroke-linejoin="miter"/>
<text x="602.9" y="188" font-size="11.6" text-anchor="start" fill="#111">C<tspan font-size="7.66" dy="3.13">3</tspan><tspan dy="-3.13">H</tspan><tspan font-size="7.66" dy="3.13">8</tspan><tspan dy="-3.13"> AA</tspan></text>
<line x1="573.7" y1="200.3" x2="600.1" y2="200.3" stroke="#3d79c0" stroke-width="1.2"/>
<rect x="584.3" y="197.6" width="5.4" height="5.4" fill="#3d79c0"/>
<text x="602.9" y="204.5" font-size="11.6" text-anchor="start" fill="#111">CH<tspan font-size="7.66" dy="3.13">4</tspan><tspan dy="-3.13"> Inclined</tspan></text>
<line x1="573.7" y1="217.2" x2="600.1" y2="217.2" stroke="#f58b3a" stroke-width="1.2"/>
<circle cx="587" cy="217.2" r="3.2" fill="#f58b3a"/>
<text x="602.9" y="221.4" font-size="11.6" text-anchor="start" fill="#111">C<tspan font-size="7.66" dy="3.13">2</tspan><tspan dy="-3.13">H</tspan><tspan font-size="7.66" dy="3.13">6</tspan><tspan dy="-3.13"> Inclined</tspan></text>
<line x1="573.7" y1="233.6" x2="600.1" y2="233.6" stroke="#4ea84f" stroke-width="1.2"/>
<polygon points="587,229.58 583.4,236.06 590.6,236.06" fill="#4ea84f"/>
<text x="602.9" y="237.8" font-size="11.6" text-anchor="start" fill="#111">C<tspan font-size="7.66" dy="3.13">3</tspan><tspan dy="-3.13">H</tspan><tspan font-size="7.66" dy="3.13">8</tspan><tspan dy="-3.13"> Inclined</tspan></text>
<text x="666.7" y="35.2" font-size="11.7" text-anchor="end" fill="#111">CH<tspan font-size="7.72" dy="3.16">4</tspan><tspan dy="-3.16">: C</tspan><tspan font-size="7.72" dy="3.16">2</tspan><tspan dy="-3.16">H</tspan><tspan font-size="7.72" dy="3.16">6</tspan><tspan dy="-3.16">: C</tspan><tspan font-size="7.72" dy="3.16">3</tspan><tspan dy="-3.16">H</tspan><tspan font-size="7.72" dy="3.16">8</tspan><tspan dy="-3.16">=85:10:5</tspan></text>
<text x="417.5" y="115.7" font-size="12.5" text-anchor="middle" fill="#3d79c0" transform="rotate(-90 417.5 115.7)">CH<tspan font-size="8.25" dy="3.38">4</tspan></text>
<text x="438.5" y="107.5" font-size="12.5" text-anchor="middle" fill="#f58b3a" transform="rotate(-90 438.5 107.5)">AA C<tspan font-size="8.25" dy="3.38">2</tspan><tspan dy="-3.38">H</tspan><tspan font-size="8.25" dy="3.38">6</tspan></text>
<text x="474.5" y="107.5" font-size="12.5" text-anchor="middle" fill="#4ea84f" transform="rotate(-90 474.5 107.5)">AA C<tspan font-size="8.25" dy="3.38">3</tspan><tspan dy="-3.38">H</tspan><tspan font-size="8.25" dy="3.38">8</tspan></text>
<text x="509.4" y="116.9" font-size="12.5" text-anchor="middle" fill="#f58b3a" transform="rotate(-90 509.4 116.9)">Inclined C<tspan font-size="8.25" dy="3.38">2</tspan><tspan dy="-3.38">H</tspan><tspan font-size="8.25" dy="3.38">6</tspan></text>
<text x="565.5" y="114.8" font-size="12.5" text-anchor="middle" fill="#4ea84f" transform="rotate(-90 565.5 114.8)">Inclined C<tspan font-size="8.25" dy="3.38">3</tspan><tspan dy="-3.38">H</tspan><tspan font-size="8.25" dy="3.38">8</tspan></text>
<text x="531.3" y="283.2" font-size="18.5" text-anchor="middle" fill="#111">Time (min/g)</text>
<text x="365.5" y="131" font-size="20" text-anchor="middle" fill="#111" transform="rotate(-90 365.5 131)">C/C<tspan font-size="10" dy="6.2">0</tspan></text>
<text x="347.5" y="26.5" font-size="37" text-anchor="start" fill="#111">b</text>
<polyline points="62,518 64,516.2 70,514 75.3,512.5 80.2,511.3 84.9,510.8 95.6,508.7 100.9,508.1 106.2,507.6 119.1,505.5 119.7,504.4 136.5,503.4 157.7,499.9 184.7,497.8 199.5,496.5 204.2,494.9 214.2,494.9 244.5,490.6 259.9,490.1 269.4,488.7 272.9,488.7 294.3,487.1 308.5,484.7 314.4,484.7" fill="none" stroke="#f9a0a0" stroke-width="0.8" stroke-linejoin="round" opacity="1.0"/>
<polyline points="96.1,510.3 101.4,509.7 106.7,509.2 119.6,507.1 120.2,506 137,505 158.2,501.5 185.2,499.4 200,498.1 204.7,496.5 214.7,496.5 245,492.2 260.4,491.7 269.9,490.3 273.4,490.3 294.8,488.7 309,486.3" fill="none" stroke="#f9a0a0" stroke-width="0.7" stroke-linejoin="round" opacity="1.0"/>
<polyline points="62.5,511 68.9,506.6 83.8,493.7 99.8,487.3 120.8,480.5 155.8,472.4 201.8,462.2 254.5,451.8 274.1,448.7 308.5,444.4 318,444.4" fill="none" stroke="#9cc5e6" stroke-width="0.9" stroke-linejoin="round" opacity="1.0"/>
<polyline points="318,444.4 313.2,446.1 308,446.8 293.8,450.8 271,453.9 259.2,456.3 245.7,458.6 214.9,465.7 199.5,469.8 186.3,473.5 157.9,479.9 136.8,484.8 122.3,488.4 109,491.6 103,493.3 96.6,495.5 90.2,497.6 82.3,500.2 75.3,503.4 62.5,511" fill="none" stroke="#9cc5e6" stroke-width="0.9" stroke-linejoin="round" opacity="1.0"/>
<polyline points="63.1,512.5 65.7,507 68.9,502.3 74.2,492.7 80.2,481.4 83.4,476.2 89.2,467.1 91.7,462.1 97.7,453.2 103.5,444.6 106.9,440.8 122.9,423.9 142.5,411.5 157.9,403 161.8,403 191.7,393 199.8,390.2 204.7,387.5 216.5,386.4 245,378.5 251.1,379.2 259.2,377.3 271.8,375 296.6,370.9 310.9,368.6 315.6,367.9" fill="none" stroke="#fb7474" stroke-width="0.9" stroke-linejoin="round" opacity="1.0"/>
<polyline points="123.2,425.2 142.8,412.8 158.2,404.3 162.1,404.3 192,394.3 200.1,391.5 205,388.8 216.8,387.7 245.3,379.8 251.4,380.5 259.5,378.6 272.1,376.3 296.9,372.2 311.2,369.9 315.9,369.2" fill="none" stroke="#f9a0a0" stroke-width="0.8" stroke-linejoin="round" opacity="1.0"/>
<polyline points="62.5,509.8 65.2,502.3 68.2,494.8 71.7,487.3 74.6,480.3 78.5,471.3 82.3,457.9 87,444 93.4,426.5 103.7,406.2 122.3,384.2 157.1,361.8 200,344.9 253.5,330.7 272.5,326.6 307.3,322.4 312,321.2 317.5,320" fill="none" stroke="#9cc5e6" stroke-width="0.9" stroke-linejoin="round" opacity="1.0"/>
<polyline points="317.5,320 294.3,325.2 271,330.7 259.2,333.7 246.4,337.3 214.9,347.3 200.7,352 187.8,356.7 160.1,368.4 141,378.4 124,390.6 107.3,409 100.3,420.3 97.3,427.1 89.6,444 84.5,457.4 81.7,464.3 78.5,471.3 74.6,480.3 62.5,509.8" fill="none" stroke="#9cc5e6" stroke-width="0.9" stroke-linejoin="round" opacity="1.0"/>
<rect x="59.9" y="515.9" width="4.2" height="4.2" fill="#fff" stroke="#fb7474" stroke-width="0.8"/>
<rect x="61.9" y="514.1" width="4.2" height="4.2" fill="#fff" stroke="#fb7474" stroke-width="0.8"/>
<rect x="67.9" y="511.9" width="4.2" height="4.2" fill="#fff" stroke="#fb7474" stroke-width="0.8"/>
<rect x="73.2" y="510.4" width="4.2" height="4.2" fill="#fff" stroke="#fb7474" stroke-width="0.8"/>
<rect x="78.1" y="509.2" width="4.2" height="4.2" fill="#fff" stroke="#fb7474" stroke-width="0.8"/>
<rect x="82.8" y="508.7" width="4.2" height="4.2" fill="#fff" stroke="#fb7474" stroke-width="0.8"/>
<rect x="93.5" y="506.6" width="4.2" height="4.2" fill="#fff" stroke="#fb7474" stroke-width="0.8"/>
<rect x="98.8" y="506" width="4.2" height="4.2" fill="#fff" stroke="#fb7474" stroke-width="0.8"/>
<rect x="104.1" y="505.5" width="4.2" height="4.2" fill="#fff" stroke="#fb7474" stroke-width="0.8"/>
<rect x="117" y="503.4" width="4.2" height="4.2" fill="#fff" stroke="#fb7474" stroke-width="0.8"/>
<rect x="117.6" y="502.3" width="4.2" height="4.2" fill="#fff" stroke="#fb7474" stroke-width="0.8"/>
<rect x="134.4" y="501.3" width="4.2" height="4.2" fill="#fff" stroke="#fb7474" stroke-width="0.8"/>
<rect x="155.6" y="497.8" width="4.2" height="4.2" fill="#fff" stroke="#fb7474" stroke-width="0.8"/>
<rect x="182.6" y="495.7" width="4.2" height="4.2" fill="#fff" stroke="#fb7474" stroke-width="0.8"/>
<rect x="197.4" y="494.4" width="4.2" height="4.2" fill="#fff" stroke="#fb7474" stroke-width="0.8"/>
<rect x="202.1" y="492.8" width="4.2" height="4.2" fill="#fff" stroke="#fb7474" stroke-width="0.8"/>
<rect x="212.1" y="492.8" width="4.2" height="4.2" fill="#fff" stroke="#fb7474" stroke-width="0.8"/>
<rect x="242.4" y="488.5" width="4.2" height="4.2" fill="#fff" stroke="#fb7474" stroke-width="0.8"/>
<rect x="257.8" y="488" width="4.2" height="4.2" fill="#fff" stroke="#fb7474" stroke-width="0.8"/>
<rect x="267.3" y="486.6" width="4.2" height="4.2" fill="#fff" stroke="#fb7474" stroke-width="0.8"/>
<rect x="270.8" y="486.6" width="4.2" height="4.2" fill="#fff" stroke="#fb7474" stroke-width="0.8"/>
<rect x="292.2" y="485" width="4.2" height="4.2" fill="#fff" stroke="#fb7474" stroke-width="0.8"/>
<rect x="306.4" y="482.6" width="4.2" height="4.2" fill="#fff" stroke="#fb7474" stroke-width="0.8"/>
<rect x="312.3" y="482.6" width="4.2" height="4.2" fill="#fff" stroke="#fb7474" stroke-width="0.8"/>
<circle cx="68.9" cy="506.6" r="2.5" fill="#fff" stroke="#76aedb" stroke-width="0.8"/>
<circle cx="83.8" cy="493.7" r="2.5" fill="#fff" stroke="#76aedb" stroke-width="0.8"/>
<circle cx="99.8" cy="487.3" r="2.5" fill="#fff" stroke="#76aedb" stroke-width="0.8"/>
<circle cx="120.8" cy="480.5" r="2.5" fill="#fff" stroke="#76aedb" stroke-width="0.8"/>
<circle cx="155.8" cy="472.4" r="2.5" fill="#fff" stroke="#76aedb" stroke-width="0.8"/>
<circle cx="201.8" cy="462.2" r="2.5" fill="#fff" stroke="#76aedb" stroke-width="0.8"/>
<circle cx="254.5" cy="451.8" r="2.5" fill="#fff" stroke="#76aedb" stroke-width="0.8"/>
<circle cx="274.1" cy="448.7" r="2.5" fill="#fff" stroke="#76aedb" stroke-width="0.8"/>
<circle cx="308.5" cy="444.4" r="2.5" fill="#fff" stroke="#76aedb" stroke-width="0.8"/>
<circle cx="318" cy="444.4" r="2.5" fill="#fff" stroke="#76aedb" stroke-width="0.8"/>
<circle cx="313.2" cy="446.1" r="2.5" fill="#fff" stroke="#76aedb" stroke-width="0.8"/>
<circle cx="308" cy="446.8" r="2.5" fill="#fff" stroke="#76aedb" stroke-width="0.8"/>
<circle cx="293.8" cy="450.8" r="2.5" fill="#fff" stroke="#76aedb" stroke-width="0.8"/>
<circle cx="271" cy="453.9" r="2.5" fill="#fff" stroke="#76aedb" stroke-width="0.8"/>
<circle cx="259.2" cy="456.3" r="2.5" fill="#fff" stroke="#76aedb" stroke-width="0.8"/>
<circle cx="245.7" cy="458.6" r="2.5" fill="#fff" stroke="#76aedb" stroke-width="0.8"/>
<circle cx="214.9" cy="465.7" r="2.5" fill="#fff" stroke="#76aedb" stroke-width="0.8"/>
<circle cx="199.5" cy="469.8" r="2.5" fill="#fff" stroke="#76aedb" stroke-width="0.8"/>
<circle cx="186.3" cy="473.5" r="2.5" fill="#fff" stroke="#76aedb" stroke-width="0.8"/>
<circle cx="157.9" cy="479.9" r="2.5" fill="#fff" stroke="#76aedb" stroke-width="0.8"/>
<circle cx="136.8" cy="484.8" r="2.5" fill="#fff" stroke="#76aedb" stroke-width="0.8"/>
<circle cx="122.3" cy="488.4" r="2.5" fill="#fff" stroke="#76aedb" stroke-width="0.8"/>
<circle cx="109" cy="491.6" r="2.5" fill="#fff" stroke="#76aedb" stroke-width="0.8"/>
<circle cx="103" cy="493.3" r="2.5" fill="#fff" stroke="#76aedb" stroke-width="0.8"/>
<circle cx="96.6" cy="495.5" r="2.5" fill="#fff" stroke="#76aedb" stroke-width="0.8"/>
<circle cx="90.2" cy="497.6" r="2.5" fill="#fff" stroke="#76aedb" stroke-width="0.8"/>
<circle cx="82.3" cy="500.2" r="2.5" fill="#fff" stroke="#76aedb" stroke-width="0.8"/>
<circle cx="75.3" cy="503.4" r="2.5" fill="#fff" stroke="#76aedb" stroke-width="0.8"/>
<rect x="60.4" y="509.8" width="5.4" height="5.4" fill="#fb7474"/>
<rect x="63" y="504.3" width="5.4" height="5.4" fill="#fb7474"/>
<rect x="66.2" y="499.6" width="5.4" height="5.4" fill="#fb7474"/>
<rect x="71.5" y="490" width="5.4" height="5.4" fill="#fb7474"/>
<rect x="77.5" y="478.7" width="5.4" height="5.4" fill="#fb7474"/>
<rect x="80.7" y="473.5" width="5.4" height="5.4" fill="#fb7474"/>
<rect x="86.5" y="464.4" width="5.4" height="5.4" fill="#fb7474"/>
<rect x="89" y="459.4" width="5.4" height="5.4" fill="#fb7474"/>
<rect x="95" y="450.5" width="5.4" height="5.4" fill="#fb7474"/>
<rect x="100.8" y="441.9" width="5.4" height="5.4" fill="#fb7474"/>
<rect x="104.2" y="438.1" width="5.4" height="5.4" fill="#fb7474"/>
<rect x="120.2" y="421.2" width="5.4" height="5.4" fill="#fb7474"/>
<rect x="139.8" y="408.8" width="5.4" height="5.4" fill="#fb7474"/>
<rect x="155.2" y="400.3" width="5.4" height="5.4" fill="#fb7474"/>
<rect x="159.1" y="400.3" width="5.4" height="5.4" fill="#fb7474"/>
<rect x="189" y="390.3" width="5.4" height="5.4" fill="#fb7474"/>
<rect x="197.1" y="387.5" width="5.4" height="5.4" fill="#fb7474"/>
<rect x="202" y="384.8" width="5.4" height="5.4" fill="#fb7474"/>
<rect x="213.8" y="383.7" width="5.4" height="5.4" fill="#fb7474"/>
<rect x="242.3" y="375.8" width="5.4" height="5.4" fill="#fb7474"/>
<rect x="248.4" y="376.5" width="5.4" height="5.4" fill="#fb7474"/>
<rect x="256.5" y="374.6" width="5.4" height="5.4" fill="#fb7474"/>
<rect x="269.1" y="372.3" width="5.4" height="5.4" fill="#fb7474"/>
<rect x="293.9" y="368.2" width="5.4" height="5.4" fill="#fb7474"/>
<rect x="308.2" y="365.9" width="5.4" height="5.4" fill="#fb7474"/>
<rect x="312.9" y="365.2" width="5.4" height="5.4" fill="#fb7474"/>
<circle cx="62.5" cy="509.8" r="3.1" fill="#76aedb"/>
<circle cx="65.2" cy="502.3" r="3.1" fill="#76aedb"/>
<circle cx="68.2" cy="494.8" r="3.1" fill="#76aedb"/>
<circle cx="71.7" cy="487.3" r="3.1" fill="#76aedb"/>
<circle cx="74.6" cy="480.3" r="3.1" fill="#76aedb"/>
<circle cx="78.5" cy="471.3" r="3.1" fill="#76aedb"/>
<circle cx="82.3" cy="457.9" r="3.1" fill="#76aedb"/>
<circle cx="87" cy="444" r="3.1" fill="#76aedb"/>
<circle cx="93.4" cy="426.5" r="3.1" fill="#76aedb"/>
<circle cx="103.7" cy="406.2" r="3.1" fill="#76aedb"/>
<circle cx="122.3" cy="384.2" r="3.1" fill="#76aedb"/>
<circle cx="157.1" cy="361.8" r="3.1" fill="#76aedb"/>
<circle cx="200" cy="344.9" r="3.1" fill="#76aedb"/>
<circle cx="253.5" cy="330.7" r="3.1" fill="#76aedb"/>
<circle cx="272.5" cy="326.6" r="3.1" fill="#76aedb"/>
<circle cx="307.3" cy="322.4" r="3.1" fill="#76aedb"/>
<circle cx="312" cy="321.2" r="3.1" fill="#76aedb"/>
<circle cx="317.5" cy="320" r="3.1" fill="#76aedb"/>
<circle cx="294.3" cy="325.2" r="3.1" fill="#76aedb"/>
<circle cx="271" cy="330.7" r="3.1" fill="#76aedb"/>
<circle cx="259.2" cy="333.7" r="3.1" fill="#76aedb"/>
<circle cx="246.4" cy="337.3" r="3.1" fill="#76aedb"/>
<circle cx="214.9" cy="347.3" r="3.1" fill="#76aedb"/>
<circle cx="200.7" cy="352" r="3.1" fill="#76aedb"/>
<circle cx="187.8" cy="356.7" r="3.1" fill="#76aedb"/>
<circle cx="160.1" cy="368.4" r="3.1" fill="#76aedb"/>
<circle cx="141" cy="378.4" r="3.1" fill="#76aedb"/>
<circle cx="124" cy="390.6" r="3.1" fill="#76aedb"/>
<circle cx="107.3" cy="409" r="3.1" fill="#76aedb"/>
<circle cx="100.3" cy="420.3" r="3.1" fill="#76aedb"/>
<circle cx="97.3" cy="427.1" r="3.1" fill="#76aedb"/>
<circle cx="89.6" cy="444" r="3.1" fill="#76aedb"/>
<circle cx="84.5" cy="457.4" r="3.1" fill="#76aedb"/>
<circle cx="81.7" cy="464.3" r="3.1" fill="#76aedb"/>
<circle cx="78.5" cy="471.3" r="3.1" fill="#76aedb"/>
<circle cx="74.6" cy="480.3" r="3.1" fill="#76aedb"/>
<rect x="60.8" y="299.3" width="274.5" height="219.7" fill="none" stroke="#222" stroke-width="1.3"/>
<line x1="56.8" y1="519" x2="60.8" y2="519" stroke="#222" stroke-width="1.2"/>
<text x="53.8" y="523.76" font-size="14" text-anchor="end" fill="#111">0</text>
<line x1="56.8" y1="485.16" x2="60.8" y2="485.16" stroke="#222" stroke-width="1.2"/>
<text x="53.8" y="489.92" font-size="14" text-anchor="end" fill="#111">20</text>
<line x1="56.8" y1="451.32" x2="60.8" y2="451.32" stroke="#222" stroke-width="1.2"/>
<text x="53.8" y="456.08" font-size="14" text-anchor="end" fill="#111">40</text>
<line x1="56.8" y1="417.48" x2="60.8" y2="417.48" stroke="#222" stroke-width="1.2"/>
<text x="53.8" y="422.24" font-size="14" text-anchor="end" fill="#111">60</text>
<line x1="56.8" y1="383.64" x2="60.8" y2="383.64" stroke="#222" stroke-width="1.2"/>
<text x="53.8" y="388.4" font-size="14" text-anchor="end" fill="#111">80</text>
<line x1="56.8" y1="349.8" x2="60.8" y2="349.8" stroke="#222" stroke-width="1.2"/>
<text x="53.8" y="354.56" font-size="14" text-anchor="end" fill="#111">100</text>
<line x1="56.8" y1="315.96" x2="60.8" y2="315.96" stroke="#222" stroke-width="1.2"/>
<text x="53.8" y="320.72" font-size="14" text-anchor="end" fill="#111">120</text>
<line x1="58.6" y1="502.08" x2="60.8" y2="502.08" stroke="#222" stroke-width="1.2"/>
<line x1="58.6" y1="468.24" x2="60.8" y2="468.24" stroke="#222" stroke-width="1.2"/>
<line x1="58.6" y1="434.4" x2="60.8" y2="434.4" stroke="#222" stroke-width="1.2"/>
<line x1="58.6" y1="400.56" x2="60.8" y2="400.56" stroke="#222" stroke-width="1.2"/>
<line x1="58.6" y1="366.72" x2="60.8" y2="366.72" stroke="#222" stroke-width="1.2"/>
<line x1="58.6" y1="332.88" x2="60.8" y2="332.88" stroke="#222" stroke-width="1.2"/>
<line x1="58.6" y1="299.04" x2="60.8" y2="299.04" stroke="#222" stroke-width="1.2"/>
<line x1="60.7" y1="519" x2="60.7" y2="523" stroke="#222" stroke-width="1.2"/>
<text x="60.7" y="537.5" font-size="14" text-anchor="middle" fill="#111">0.0</text>
<line x1="110.7" y1="519" x2="110.7" y2="523" stroke="#222" stroke-width="1.2"/>
<text x="110.7" y="537.5" font-size="14" text-anchor="middle" fill="#111">0.2</text>
<line x1="160.7" y1="519" x2="160.7" y2="523" stroke="#222" stroke-width="1.2"/>
<text x="160.7" y="537.5" font-size="14" text-anchor="middle" fill="#111">0.4</text>
<line x1="210.7" y1="519" x2="210.7" y2="523" stroke="#222" stroke-width="1.2"/>
<text x="210.7" y="537.5" font-size="14" text-anchor="middle" fill="#111">0.6</text>
<line x1="260.7" y1="519" x2="260.7" y2="523" stroke="#222" stroke-width="1.2"/>
<text x="260.7" y="537.5" font-size="14" text-anchor="middle" fill="#111">0.8</text>
<line x1="310.7" y1="519" x2="310.7" y2="523" stroke="#222" stroke-width="1.2"/>
<text x="310.7" y="537.5" font-size="14" text-anchor="middle" fill="#111">1.0</text>
<line x1="85.7" y1="519" x2="85.7" y2="521.2" stroke="#222" stroke-width="1.2"/>
<line x1="135.7" y1="519" x2="135.7" y2="521.2" stroke="#222" stroke-width="1.2"/>
<line x1="185.7" y1="519" x2="185.7" y2="521.2" stroke="#222" stroke-width="1.2"/>
<line x1="235.7" y1="519" x2="235.7" y2="521.2" stroke="#222" stroke-width="1.2"/>
<line x1="285.7" y1="519" x2="285.7" y2="521.2" stroke="#222" stroke-width="1.2"/>
<line x1="63.8" y1="309.6" x2="88.6" y2="309.6" stroke="#f9a0a0" stroke-width="0.9"/>
<rect x="73.8" y="307.4" width="4.4" height="4.4" fill="#fff" stroke="#fb7474" stroke-width="0.8"/>
<text x="91.5" y="314.6" font-size="11.6" text-anchor="start" fill="#111">C<tspan font-size="7.66" dy="3.13">3</tspan><tspan dy="-3.13">H</tspan><tspan font-size="7.66" dy="3.13">6</tspan><tspan dy="-3.13"> AA</tspan></text>
<line x1="142.6" y1="309.6" x2="167.4" y2="309.6" stroke="#f9a0a0" stroke-width="0.9"/>
<rect x="152.3" y="306.8" width="5.6" height="5.6" fill="#fb7474"/>
<text x="171.2" y="314.6" font-size="11.6" text-anchor="start" fill="#111">C<tspan font-size="7.66" dy="3.13">3</tspan><tspan dy="-3.13">H</tspan><tspan font-size="7.66" dy="3.13">6</tspan><tspan dy="-3.13"> Inclined</tspan></text>
<line x1="63.8" y1="325.7" x2="88.6" y2="325.7" stroke="#9cc5e6" stroke-width="0.9"/>
<circle cx="76" cy="325.7" r="2.7" fill="#fff" stroke="#76aedb" stroke-width="0.8"/>
<text x="91.5" y="330.7" font-size="11.6" text-anchor="start" fill="#111">C<tspan font-size="7.66" dy="3.13">3</tspan><tspan dy="-3.13">H</tspan><tspan font-size="7.66" dy="3.13">4</tspan><tspan dy="-3.13"> AA</tspan></text>
<line x1="142.6" y1="325.7" x2="167.4" y2="325.7" stroke="#9cc5e6" stroke-width="0.9"/>
<circle cx="155.1" cy="325.7" r="3.2" fill="#76aedb"/>
<text x="171.2" y="330.7" font-size="11.6" text-anchor="start" fill="#111">C<tspan font-size="7.66" dy="3.13">3</tspan><tspan dy="-3.13">H</tspan><tspan font-size="7.66" dy="3.13">4</tspan><tspan dy="-3.13"> Inclined</tspan></text>
<text x="198" y="562.8" font-size="18.5" text-anchor="middle" fill="#111">Pressure (bar)</text>
<text x="31.2" y="409" font-size="19" text-anchor="middle" fill="#111" transform="rotate(-90 31.2 409)">STP(cc/g)</text>
<text x="11.5" y="306.5" font-size="37" text-anchor="start" fill="#111" font-weight="bold">c</text>
<polyline points="400,510.6 403.2,509.8 407.4,464.1 411.6,427.2 415.6,396 419.8,371.8 424.3,355.4 428,335 432,327.2 436,326.3 440.03,326.3 444.06,326.3 448.09,326.3 452.12,326.3 456.15,326.3 460.18,326.3 464.21,326.3" fill="none" stroke="#fb7474" stroke-width="1.1" stroke-linejoin="round" opacity="1.0"/>
<polyline points="400,510.6 404.8,510.6 409.6,510.6 414.4,510.6 419.2,510.6 424,510.6 428.8,510.6 433.6,510.6 440.3,508.7 445,506.3 448.5,504.5 452.5,502.8 456.7,497 460.9,491.1 465.6,479.3 469.6,468.8 473.6,458.7 477.8,444.6 481.8,426.5 486,408.2 490,387.3 494.2,370.9 498.5,353 502.5,345 506.7,334.5 510.7,329.1 515.5,326.3 520.3,326.3 525.1,326.3 529.9,326.3 534.7,326.3 539.5,326.3 544.3,326.3 549.1,326.3 553.9,326.3 558.7,326.3 563.5,326.3 568.3,326.3 573.1,326.3 577.9,326.3 582.7,326.3 587.5,326.3 592.3,326.3 597.1,326.3 601.9,326.3 606.7,326.3 611.5,326.3 616.3,326.3 621.1,326.3" fill="none" stroke="#76aedb" stroke-width="1.1" stroke-linejoin="round" opacity="1.0"/>
<rect x="397.9" y="508.5" width="4.2" height="4.2" fill="#fff" stroke="#fb7474" stroke-width="0.8"/>
<rect x="401.1" y="507.7" width="4.2" height="4.2" fill="#fff" stroke="#fb7474" stroke-width="0.8"/>
<rect x="405.3" y="462" width="4.2" height="4.2" fill="#fff" stroke="#fb7474" stroke-width="0.8"/>
<rect x="409.5" y="425.1" width="4.2" height="4.2" fill="#fff" stroke="#fb7474" stroke-width="0.8"/>
<rect x="413.5" y="393.9" width="4.2" height="4.2" fill="#fff" stroke="#fb7474" stroke-width="0.8"/>
<rect x="417.7" y="369.7" width="4.2" height="4.2" fill="#fff" stroke="#fb7474" stroke-width="0.8"/>
<rect x="422.2" y="353.3" width="4.2" height="4.2" fill="#fff" stroke="#fb7474" stroke-width="0.8"/>
<rect x="425.9" y="332.9" width="4.2" height="4.2" fill="#fff" stroke="#fb7474" stroke-width="0.8"/>
<rect x="429.9" y="325.1" width="4.2" height="4.2" fill="#fff" stroke="#fb7474" stroke-width="0.8"/>
<rect x="433.9" y="324.2" width="4.2" height="4.2" fill="#fff" stroke="#fb7474" stroke-width="0.8"/>
<rect x="437.93" y="324.2" width="4.2" height="4.2" fill="#fff" stroke="#fb7474" stroke-width="0.8"/>
<rect x="441.96" y="324.2" width="4.2" height="4.2" fill="#fff" stroke="#fb7474" stroke-width="0.8"/>
<rect x="445.99" y="324.2" width="4.2" height="4.2" fill="#fff" stroke="#fb7474" stroke-width="0.8"/>
<rect x="450.02" y="324.2" width="4.2" height="4.2" fill="#fff" stroke="#fb7474" stroke-width="0.8"/>
<rect x="454.05" y="324.2" width="4.2" height="4.2" fill="#fff" stroke="#fb7474" stroke-width="0.8"/>
<rect x="458.08" y="324.2" width="4.2" height="4.2" fill="#fff" stroke="#fb7474" stroke-width="0.8"/>
<rect x="462.11" y="324.2" width="4.2" height="4.2" fill="#fff" stroke="#fb7474" stroke-width="0.8"/>
<circle cx="400" cy="510.6" r="2.3" fill="#fff" stroke="#76aedb" stroke-width="0.8"/>
<circle cx="404.8" cy="510.6" r="2.3" fill="#fff" stroke="#76aedb" stroke-width="0.8"/>
<circle cx="409.6" cy="510.6" r="2.3" fill="#fff" stroke="#76aedb" stroke-width="0.8"/>
<circle cx="414.4" cy="510.6" r="2.3" fill="#fff" stroke="#76aedb" stroke-width="0.8"/>
<circle cx="419.2" cy="510.6" r="2.3" fill="#fff" stroke="#76aedb" stroke-width="0.8"/>
<circle cx="424" cy="510.6" r="2.3" fill="#fff" stroke="#76aedb" stroke-width="0.8"/>
<circle cx="428.8" cy="510.6" r="2.3" fill="#fff" stroke="#76aedb" stroke-width="0.8"/>
<circle cx="433.6" cy="510.6" r="2.3" fill="#fff" stroke="#76aedb" stroke-width="0.8"/>
<circle cx="440.3" cy="508.7" r="2.3" fill="#fff" stroke="#76aedb" stroke-width="0.8"/>
<circle cx="445" cy="506.3" r="2.3" fill="#fff" stroke="#76aedb" stroke-width="0.8"/>
<circle cx="448.5" cy="504.5" r="2.3" fill="#fff" stroke="#76aedb" stroke-width="0.8"/>
<circle cx="452.5" cy="502.8" r="2.3" fill="#fff" stroke="#76aedb" stroke-width="0.8"/>
<circle cx="456.7" cy="497" r="2.3" fill="#fff" stroke="#76aedb" stroke-width="0.8"/>
<circle cx="460.9" cy="491.1" r="2.3" fill="#fff" stroke="#76aedb" stroke-width="0.8"/>
<circle cx="465.6" cy="479.3" r="2.3" fill="#fff" stroke="#76aedb" stroke-width="0.8"/>
<circle cx="469.6" cy="468.8" r="2.3" fill="#fff" stroke="#76aedb" stroke-width="0.8"/>
<circle cx="473.6" cy="458.7" r="2.3" fill="#fff" stroke="#76aedb" stroke-width="0.8"/>
<circle cx="477.8" cy="444.6" r="2.3" fill="#fff" stroke="#76aedb" stroke-width="0.8"/>
<circle cx="481.8" cy="426.5" r="2.3" fill="#fff" stroke="#76aedb" stroke-width="0.8"/>
<circle cx="486" cy="408.2" r="2.3" fill="#fff" stroke="#76aedb" stroke-width="0.8"/>
<circle cx="490" cy="387.3" r="2.3" fill="#fff" stroke="#76aedb" stroke-width="0.8"/>
<circle cx="494.2" cy="370.9" r="2.3" fill="#fff" stroke="#76aedb" stroke-width="0.8"/>
<circle cx="498.5" cy="353" r="2.3" fill="#fff" stroke="#76aedb" stroke-width="0.8"/>
<circle cx="502.5" cy="345" r="2.3" fill="#fff" stroke="#76aedb" stroke-width="0.8"/>
<circle cx="506.7" cy="334.5" r="2.3" fill="#fff" stroke="#76aedb" stroke-width="0.8"/>
<circle cx="510.7" cy="329.1" r="2.3" fill="#fff" stroke="#76aedb" stroke-width="0.8"/>
<circle cx="515.5" cy="326.3" r="2.3" fill="#fff" stroke="#76aedb" stroke-width="0.8"/>
<circle cx="520.3" cy="326.3" r="2.3" fill="#fff" stroke="#76aedb" stroke-width="0.8"/>
<circle cx="525.1" cy="326.3" r="2.3" fill="#fff" stroke="#76aedb" stroke-width="0.8"/>
<circle cx="529.9" cy="326.3" r="2.3" fill="#fff" stroke="#76aedb" stroke-width="0.8"/>
<circle cx="534.7" cy="326.3" r="2.3" fill="#fff" stroke="#76aedb" stroke-width="0.8"/>
<circle cx="539.5" cy="326.3" r="2.3" fill="#fff" stroke="#76aedb" stroke-width="0.8"/>
<circle cx="544.3" cy="326.3" r="2.3" fill="#fff" stroke="#76aedb" stroke-width="0.8"/>
<circle cx="549.1" cy="326.3" r="2.3" fill="#fff" stroke="#76aedb" stroke-width="0.8"/>
<circle cx="553.9" cy="326.3" r="2.3" fill="#fff" stroke="#76aedb" stroke-width="0.8"/>
<circle cx="558.7" cy="326.3" r="2.3" fill="#fff" stroke="#76aedb" stroke-width="0.8"/>
<circle cx="563.5" cy="326.3" r="2.3" fill="#fff" stroke="#76aedb" stroke-width="0.8"/>
<circle cx="568.3" cy="326.3" r="2.3" fill="#fff" stroke="#76aedb" stroke-width="0.8"/>
<circle cx="573.1" cy="326.3" r="2.3" fill="#fff" stroke="#76aedb" stroke-width="0.8"/>
<circle cx="577.9" cy="326.3" r="2.3" fill="#fff" stroke="#76aedb" stroke-width="0.8"/>
<circle cx="582.7" cy="326.3" r="2.3" fill="#fff" stroke="#76aedb" stroke-width="0.8"/>
<circle cx="587.5" cy="326.3" r="2.3" fill="#fff" stroke="#76aedb" stroke-width="0.8"/>
<circle cx="592.3" cy="326.3" r="2.3" fill="#fff" stroke="#76aedb" stroke-width="0.8"/>
<circle cx="597.1" cy="326.3" r="2.3" fill="#fff" stroke="#76aedb" stroke-width="0.8"/>
<circle cx="601.9" cy="326.3" r="2.3" fill="#fff" stroke="#76aedb" stroke-width="0.8"/>
<circle cx="606.7" cy="326.3" r="2.3" fill="#fff" stroke="#76aedb" stroke-width="0.8"/>
<circle cx="611.5" cy="326.3" r="2.3" fill="#fff" stroke="#76aedb" stroke-width="0.8"/>
<circle cx="616.3" cy="326.3" r="2.3" fill="#fff" stroke="#76aedb" stroke-width="0.8"/>
<circle cx="621.1" cy="326.3" r="2.3" fill="#fff" stroke="#76aedb" stroke-width="0.8"/>
<polyline points="400,510.6 405.3,510.6 410.6,510.6 415.6,500.4 421,484 426.6,469.9 432,453.5 437.4,433.5 442.6,412.4 448,392.5 453.6,374.4 459,351.4 464.2,335 469.6,327.2 474.9,326.3 480.23,326.3 485.56,326.3 490.89,326.3 496.22,326.3 501.55,326.3 506.88,326.3 512.21,326.3 517.54,326.3 522.87,326.3 528.2,326.3 533.53,326.3 538.86,326.3 544.19,326.3 549.52,326.3 554.85,326.3 560.18,326.3 565.51,326.3 570.84,326.3 576.17,326.3 581.5,326.3 586.83,326.3 592.16,326.3 597.49,326.3 602.82,326.3 608.15,326.3 613.48,326.3 618.81,326.3 624.14,326.3 629.47,326.3 634.8,326.3 640.13,326.3 645.46,326.3" fill="none" stroke="#fb7474" stroke-width="1.2" stroke-linejoin="round" opacity="1.0"/>
<polyline points="400,510.6 405.38,510.6 410.76,510.6 416.14,510.6 421.52,510.6 426.9,510.6 432.28,510.6 437.66,510.6 443.04,510.6 448.42,510.6 453.8,510.6 459.18,510.6 464.56,510.6 469.94,510.6 475.32,510.6 480.7,510.6 486.08,510.6 491.4,508 497.1,505.6 502.5,502.3 507.9,497.6 513.5,493.9 518.9,488.2 524.3,484 529.9,479.3 535,474.2 540.1,466.7 545.6,458.6 551.4,452.8 556.5,446 562,441.4 567.3,437.1 572.9,430.8 578.4,424.2 583.5,417.4 588.8,409.1 594.3,401 600.2,392.2 605.2,384.6 610.3,374.5 615.8,361.4 621.6,351.3 626.7,344.9 632.2,337.9 637.8,333.6 643.1,329.8 648.6,326.5 654.2,326.3 659.2,326.3 664.3,326.3 670.1,326.3 675.2,326.3" fill="none" stroke="#76aedb" stroke-width="1.2" stroke-linejoin="round" opacity="1.0"/>
<rect x="397.6" y="508.2" width="4.8" height="4.8" fill="#fb7474"/>
<rect x="402.9" y="508.2" width="4.8" height="4.8" fill="#fb7474"/>
<rect x="408.2" y="508.2" width="4.8" height="4.8" fill="#fb7474"/>
<rect x="413.2" y="498" width="4.8" height="4.8" fill="#fb7474"/>
<rect x="418.6" y="481.6" width="4.8" height="4.8" fill="#fb7474"/>
<rect x="424.2" y="467.5" width="4.8" height="4.8" fill="#fb7474"/>
<rect x="429.6" y="451.1" width="4.8" height="4.8" fill="#fb7474"/>
<rect x="435" y="431.1" width="4.8" height="4.8" fill="#fb7474"/>
<rect x="440.2" y="410" width="4.8" height="4.8" fill="#fb7474"/>
<rect x="445.6" y="390.1" width="4.8" height="4.8" fill="#fb7474"/>
<rect x="451.2" y="372" width="4.8" height="4.8" fill="#fb7474"/>
<rect x="456.6" y="349" width="4.8" height="4.8" fill="#fb7474"/>
<rect x="461.8" y="332.6" width="4.8" height="4.8" fill="#fb7474"/>
<rect x="467.2" y="324.8" width="4.8" height="4.8" fill="#fb7474"/>
<rect x="472.5" y="323.9" width="4.8" height="4.8" fill="#fb7474"/>
<rect x="477.83" y="323.9" width="4.8" height="4.8" fill="#fb7474"/>
<rect x="483.16" y="323.9" width="4.8" height="4.8" fill="#fb7474"/>
<rect x="488.49" y="323.9" width="4.8" height="4.8" fill="#fb7474"/>
<rect x="493.82" y="323.9" width="4.8" height="4.8" fill="#fb7474"/>
<rect x="499.15" y="323.9" width="4.8" height="4.8" fill="#fb7474"/>
<rect x="504.48" y="323.9" width="4.8" height="4.8" fill="#fb7474"/>
<rect x="509.81" y="323.9" width="4.8" height="4.8" fill="#fb7474"/>
<rect x="515.14" y="323.9" width="4.8" height="4.8" fill="#fb7474"/>
<rect x="520.47" y="323.9" width="4.8" height="4.8" fill="#fb7474"/>
<rect x="525.8" y="323.9" width="4.8" height="4.8" fill="#fb7474"/>
<rect x="531.13" y="323.9" width="4.8" height="4.8" fill="#fb7474"/>
<rect x="536.46" y="323.9" width="4.8" height="4.8" fill="#fb7474"/>
<rect x="541.79" y="323.9" width="4.8" height="4.8" fill="#fb7474"/>
<rect x="547.12" y="323.9" width="4.8" height="4.8" fill="#fb7474"/>
<rect x="552.45" y="323.9" width="4.8" height="4.8" fill="#fb7474"/>
<rect x="557.78" y="323.9" width="4.8" height="4.8" fill="#fb7474"/>
<rect x="563.11" y="323.9" width="4.8" height="4.8" fill="#fb7474"/>
<rect x="568.44" y="323.9" width="4.8" height="4.8" fill="#fb7474"/>
<rect x="573.77" y="323.9" width="4.8" height="4.8" fill="#fb7474"/>
<rect x="579.1" y="323.9" width="4.8" height="4.8" fill="#fb7474"/>
<rect x="584.43" y="323.9" width="4.8" height="4.8" fill="#fb7474"/>
<rect x="589.76" y="323.9" width="4.8" height="4.8" fill="#fb7474"/>
<rect x="595.09" y="323.9" width="4.8" height="4.8" fill="#fb7474"/>
<rect x="600.42" y="323.9" width="4.8" height="4.8" fill="#fb7474"/>
<rect x="605.75" y="323.9" width="4.8" height="4.8" fill="#fb7474"/>
<rect x="611.08" y="323.9" width="4.8" height="4.8" fill="#fb7474"/>
<rect x="616.41" y="323.9" width="4.8" height="4.8" fill="#fb7474"/>
<rect x="621.74" y="323.9" width="4.8" height="4.8" fill="#fb7474"/>
<rect x="627.07" y="323.9" width="4.8" height="4.8" fill="#fb7474"/>
<rect x="632.4" y="323.9" width="4.8" height="4.8" fill="#fb7474"/>
<rect x="637.73" y="323.9" width="4.8" height="4.8" fill="#fb7474"/>
<rect x="643.06" y="323.9" width="4.8" height="4.8" fill="#fb7474"/>
<circle cx="400" cy="510.6" r="2.9" fill="#76aedb"/>
<circle cx="405.38" cy="510.6" r="2.9" fill="#76aedb"/>
<circle cx="410.76" cy="510.6" r="2.9" fill="#76aedb"/>
<circle cx="416.14" cy="510.6" r="2.9" fill="#76aedb"/>
<circle cx="421.52" cy="510.6" r="2.9" fill="#76aedb"/>
<circle cx="426.9" cy="510.6" r="2.9" fill="#76aedb"/>
<circle cx="432.28" cy="510.6" r="2.9" fill="#76aedb"/>
<circle cx="437.66" cy="510.6" r="2.9" fill="#76aedb"/>
<circle cx="443.04" cy="510.6" r="2.9" fill="#76aedb"/>
<circle cx="448.42" cy="510.6" r="2.9" fill="#76aedb"/>
<circle cx="453.8" cy="510.6" r="2.9" fill="#76aedb"/>
<circle cx="459.18" cy="510.6" r="2.9" fill="#76aedb"/>
<circle cx="464.56" cy="510.6" r="2.9" fill="#76aedb"/>
<circle cx="469.94" cy="510.6" r="2.9" fill="#76aedb"/>
<circle cx="475.32" cy="510.6" r="2.9" fill="#76aedb"/>
<circle cx="480.7" cy="510.6" r="2.9" fill="#76aedb"/>
<circle cx="486.08" cy="510.6" r="2.9" fill="#76aedb"/>
<circle cx="491.4" cy="508" r="2.9" fill="#76aedb"/>
<circle cx="497.1" cy="505.6" r="2.9" fill="#76aedb"/>
<circle cx="502.5" cy="502.3" r="2.9" fill="#76aedb"/>
<circle cx="507.9" cy="497.6" r="2.9" fill="#76aedb"/>
<circle cx="513.5" cy="493.9" r="2.9" fill="#76aedb"/>
<circle cx="518.9" cy="488.2" r="2.9" fill="#76aedb"/>
<circle cx="524.3" cy="484" r="2.9" fill="#76aedb"/>
<circle cx="529.9" cy="479.3" r="2.9" fill="#76aedb"/>
<circle cx="535" cy="474.2" r="2.9" fill="#76aedb"/>
<circle cx="540.1" cy="466.7" r="2.9" fill="#76aedb"/>
<circle cx="545.6" cy="458.6" r="2.9" fill="#76aedb"/>
<circle cx="551.4" cy="452.8" r="2.9" fill="#76aedb"/>
<circle cx="556.5" cy="446" r="2.9" fill="#76aedb"/>
<circle cx="562" cy="441.4" r="2.9" fill="#76aedb"/>
<circle cx="567.3" cy="437.1" r="2.9" fill="#76aedb"/>
<circle cx="572.9" cy="430.8" r="2.9" fill="#76aedb"/>
<circle cx="578.4" cy="424.2" r="2.9" fill="#76aedb"/>
<circle cx="583.5" cy="417.4" r="2.9" fill="#76aedb"/>
<circle cx="588.8" cy="409.1" r="2.9" fill="#76aedb"/>
<circle cx="594.3" cy="401" r="2.9" fill="#76aedb"/>
<circle cx="600.2" cy="392.2" r="2.9" fill="#76aedb"/>
<circle cx="605.2" cy="384.6" r="2.9" fill="#76aedb"/>
<circle cx="610.3" cy="374.5" r="2.9" fill="#76aedb"/>
<circle cx="615.8" cy="361.4" r="2.9" fill="#76aedb"/>
<circle cx="621.6" cy="351.3" r="2.9" fill="#76aedb"/>
<circle cx="626.7" cy="344.9" r="2.9" fill="#76aedb"/>
<circle cx="632.2" cy="337.9" r="2.9" fill="#76aedb"/>
<circle cx="637.8" cy="333.6" r="2.9" fill="#76aedb"/>
<circle cx="643.1" cy="329.8" r="2.9" fill="#76aedb"/>
<circle cx="648.6" cy="326.5" r="2.9" fill="#76aedb"/>
<circle cx="654.2" cy="326.3" r="2.9" fill="#76aedb"/>
<circle cx="659.2" cy="326.3" r="2.9" fill="#76aedb"/>
<circle cx="664.3" cy="326.3" r="2.9" fill="#76aedb"/>
<circle cx="670.1" cy="326.3" r="2.9" fill="#76aedb"/>
<circle cx="675.2" cy="326.3" r="2.9" fill="#76aedb"/>
<rect x="400" y="299" width="273.4" height="220.6" fill="none" stroke="#222" stroke-width="1.3"/>
<line x1="396" y1="510.6" x2="400" y2="510.6" stroke="#222" stroke-width="1.2"/>
<text x="393" y="515.36" font-size="14" text-anchor="end" fill="#111">0.0</text>
<line x1="396" y1="473.8" x2="400" y2="473.8" stroke="#222" stroke-width="1.2"/>
<text x="393" y="478.56" font-size="14" text-anchor="end" fill="#111">0.2</text>
<line x1="396" y1="437" x2="400" y2="437" stroke="#222" stroke-width="1.2"/>
<text x="393" y="441.76" font-size="14" text-anchor="end" fill="#111">0.4</text>
<line x1="396" y1="400.2" x2="400" y2="400.2" stroke="#222" stroke-width="1.2"/>
<text x="393" y="404.96" font-size="14" text-anchor="end" fill="#111">0.6</text>
<line x1="396" y1="363.4" x2="400" y2="363.4" stroke="#222" stroke-width="1.2"/>
<text x="393" y="368.16" font-size="14" text-anchor="end" fill="#111">0.8</text>
<line x1="396" y1="326.6" x2="400" y2="326.6" stroke="#222" stroke-width="1.2"/>
<text x="393" y="331.36" font-size="14" text-anchor="end" fill="#111">1.0</text>
<line x1="397.8" y1="492.2" x2="400" y2="492.2" stroke="#222" stroke-width="1.2"/>
<line x1="397.8" y1="455.4" x2="400" y2="455.4" stroke="#222" stroke-width="1.2"/>
<line x1="397.8" y1="418.6" x2="400" y2="418.6" stroke="#222" stroke-width="1.2"/>
<line x1="397.8" y1="381.8" x2="400" y2="381.8" stroke="#222" stroke-width="1.2"/>
<line x1="397.8" y1="345" x2="400" y2="345" stroke="#222" stroke-width="1.2"/>
<line x1="397.8" y1="308.2" x2="400" y2="308.2" stroke="#222" stroke-width="1.2"/>
<line x1="400" y1="519.6" x2="400" y2="523.6" stroke="#222" stroke-width="1.2"/>
<text x="400" y="537.9" font-size="12.5" text-anchor="middle" fill="#111" style="font-family:Liberation Sans, sans-serif">0</text>
<line x1="468.35" y1="519.6" x2="468.35" y2="523.6" stroke="#222" stroke-width="1.2"/>
<text x="468.35" y="537.9" font-size="12.5" text-anchor="middle" fill="#111" style="font-family:Liberation Sans, sans-serif">100</text>
<line x1="536.7" y1="519.6" x2="536.7" y2="523.6" stroke="#222" stroke-width="1.2"/>
<text x="536.7" y="537.9" font-size="12.5" text-anchor="middle" fill="#111" style="font-family:Liberation Sans, sans-serif">200</text>
<line x1="605.05" y1="519.6" x2="605.05" y2="523.6" stroke="#222" stroke-width="1.2"/>
<text x="605.05" y="537.9" font-size="12.5" text-anchor="middle" fill="#111" style="font-family:Liberation Sans, sans-serif">300</text>
<line x1="673.4" y1="519.6" x2="673.4" y2="523.6" stroke="#222" stroke-width="1.2"/>
<text x="673.4" y="537.9" font-size="12.5" text-anchor="middle" fill="#111" style="font-family:Liberation Sans, sans-serif">400</text>
<line x1="434.18" y1="519.6" x2="434.18" y2="521.8" stroke="#222" stroke-width="1.2"/>
<line x1="502.52" y1="519.6" x2="502.52" y2="521.8" stroke="#222" stroke-width="1.2"/>
<line x1="570.88" y1="519.6" x2="570.88" y2="521.8" stroke="#222" stroke-width="1.2"/>
<line x1="639.23" y1="519.6" x2="639.23" y2="521.8" stroke="#222" stroke-width="1.2"/>
<line x1="574.1" y1="458.6" x2="599.4" y2="458.6" stroke="#fb7474" stroke-width="1.0"/>
<rect x="584.5" y="456.3" width="4.6" height="4.6" fill="#fff" stroke="#fb7474" stroke-width="0.8"/>
<text x="602.7" y="462.8" font-size="11.5" text-anchor="start" fill="#111">C<tspan font-size="7.59" dy="3.11">3</tspan><tspan dy="-3.11">H</tspan><tspan font-size="7.59" dy="3.11">6</tspan><tspan dy="-3.11"> AA</tspan></text>
<line x1="574.1" y1="474.7" x2="599.4" y2="474.7" stroke="#76aedb" stroke-width="1.0"/>
<circle cx="586.8" cy="474.7" r="2.3" fill="#fff" stroke="#76aedb" stroke-width="0.8"/>
<text x="602.7" y="478.9" font-size="11.5" text-anchor="start" fill="#111">C<tspan font-size="7.59" dy="3.11">3</tspan><tspan dy="-3.11">H</tspan><tspan font-size="7.59" dy="3.11">4</tspan><tspan dy="-3.11"> AA</tspan></text>
<line x1="574.1" y1="491.9" x2="599.4" y2="491.9" stroke="#fb7474" stroke-width="1.0"/>
<rect x="584.1" y="489.2" width="5.4" height="5.4" fill="#fb7474"/>
<text x="602.7" y="496.1" font-size="11.5" text-anchor="start" fill="#111">C<tspan font-size="7.59" dy="3.11">3</tspan><tspan dy="-3.11">H</tspan><tspan font-size="7.59" dy="3.11">6</tspan><tspan dy="-3.11"> Inclined</tspan></text>
<line x1="574.1" y1="508.3" x2="599.4" y2="508.3" stroke="#76aedb" stroke-width="1.0"/>
<circle cx="586.8" cy="508.3" r="2.7" fill="#76aedb"/>
<text x="602.7" y="512.5" font-size="11.5" text-anchor="start" fill="#111">C<tspan font-size="7.59" dy="3.11">3</tspan><tspan dy="-3.11">H</tspan><tspan font-size="7.59" dy="3.11">4</tspan><tspan dy="-3.11"> Inclined</tspan></text>
<text x="665.8" y="313.3" font-size="11.5" text-anchor="end" fill="#111">C<tspan font-size="7.59" dy="3.11">3</tspan><tspan dy="-3.11">H</tspan><tspan font-size="7.59" dy="3.11">4</tspan><tspan dy="-3.11">:C</tspan><tspan font-size="7.59" dy="3.11">3</tspan><tspan dy="-3.11">H</tspan><tspan font-size="7.59" dy="3.11">6</tspan><tspan dy="-3.11">=1:99</tspan></text>
<text x="532.3" y="557.8" font-size="18.5" text-anchor="middle" fill="#111">Time (min/g)</text>
<text x="364.2" y="409.3" font-size="20" text-anchor="middle" fill="#111" transform="rotate(-90 364.2 409.3)">C/C<tspan font-size="10" dy="6.2">0</tspan></text>
<text x="354" y="305.5" font-size="35" text-anchor="start" fill="#111">d</text>
<polyline points="56.3,793 63,638.9 69.9,630.3 76.7,628.8 82.4,628.8 87.7,628.8 94.9,628.8 102.1,628.8 107.4,628.8 113.9,628.8 119.6,628.8 126.6,628.8 133.6,628.8 139.3,628.8 144.6,628.8 151.2,628.8 158.4,628.8 163.9,628.8 170.4,628.8 176.6,628.8 182.5,628.8 189.5,628.8 195.6,628.8 202,628.8 207.9,628.8 214.1,628.8 220,628.8 226.5,628.8" fill="none" stroke="#c9a080" stroke-width="0.8" stroke-linejoin="round" opacity="1.0"/>
<polyline points="56.3,793 63,638.9 69.9,630.3 76.7,628.8 82.4,628.8 87.7,628.8 94.9,628.8 102.1,628.8 107.4,628.8 113.9,628.8 119.6,628.8 126.6,628.8 133.6,628.8 139.3,628.8 144.6,628.8 151.2,628.8 158.4,628.8 163.9,628.8 170.4,628.8 176.6,628.8 182.5,628.8 189.5,628.8 195.6,628.8 202,628.8 207.9,628.8 214.1,628.8 220,628.8 226.5,628.8" fill="none" stroke="#f5a36a" stroke-width="0.8" stroke-linejoin="round" opacity="1.0"/>
<circle cx="63.3" cy="639.4" r="2.7" fill="#fff" stroke="#2468d8" stroke-width="0.8"/>
<circle cx="70.2" cy="630.8" r="2.7" fill="#fff" stroke="#2468d8" stroke-width="0.8"/>
<circle cx="63.3" cy="639.4" r="2.7" fill="#fff" stroke="#2e9e5e" stroke-width="0.8"/>
<circle cx="70.2" cy="630.8" r="2.7" fill="#fff" stroke="#2e9e5e" stroke-width="0.8"/>
<circle cx="63.3" cy="639.4" r="2.7" fill="#fff" stroke="#12c4cc" stroke-width="0.8"/>
<circle cx="70.2" cy="630.8" r="2.7" fill="#fff" stroke="#12c4cc" stroke-width="0.8"/>
<circle cx="63.3" cy="639.4" r="2.7" fill="#fff" stroke="#555555" stroke-width="0.8"/>
<circle cx="70.2" cy="630.8" r="2.7" fill="#fff" stroke="#555555" stroke-width="0.8"/>
<circle cx="77" cy="629.2" r="2.7" fill="#fff" stroke="#2468d8" stroke-width="0.8"/>
<circle cx="95.2" cy="629.2" r="2.7" fill="#fff" stroke="#ee4040" stroke-width="0.8"/>
<circle cx="114.2" cy="629.2" r="2.7" fill="#fff" stroke="#2468d8" stroke-width="0.8"/>
<circle cx="133.9" cy="629.2" r="2.7" fill="#fff" stroke="#ee4040" stroke-width="0.8"/>
<circle cx="151.5" cy="629.2" r="2.7" fill="#fff" stroke="#2468d8" stroke-width="0.8"/>
<circle cx="170.7" cy="629.2" r="2.7" fill="#fff" stroke="#ee4040" stroke-width="0.8"/>
<circle cx="189.8" cy="629.2" r="2.7" fill="#fff" stroke="#2468d8" stroke-width="0.8"/>
<circle cx="208.2" cy="629.2" r="2.7" fill="#fff" stroke="#ee4040" stroke-width="0.8"/>
<circle cx="226.8" cy="629.2" r="2.7" fill="#fff" stroke="#2468d8" stroke-width="0.8"/>
<circle cx="63" cy="638.9" r="2.62" fill="#fff" stroke="#f07a30" stroke-width="0.95"/>
<circle cx="69.9" cy="630.3" r="2.62" fill="#fff" stroke="#f07a30" stroke-width="0.95"/>
<circle cx="76.7" cy="628.8" r="2.62" fill="#fff" stroke="#f07a30" stroke-width="0.95"/>
<circle cx="82.4" cy="628.8" r="2.62" fill="#fff" stroke="#f07a30" stroke-width="0.95"/>
<circle cx="87.7" cy="628.8" r="2.62" fill="#fff" stroke="#f07a30" stroke-width="0.95"/>
<circle cx="94.9" cy="628.8" r="2.62" fill="#fff" stroke="#f07a30" stroke-width="0.95"/>
<circle cx="102.1" cy="628.8" r="2.62" fill="#fff" stroke="#f07a30" stroke-width="0.95"/>
<circle cx="107.4" cy="628.8" r="2.62" fill="#fff" stroke="#f07a30" stroke-width="0.95"/>
<circle cx="113.9" cy="628.8" r="2.62" fill="#fff" stroke="#f07a30" stroke-width="0.95"/>
<circle cx="119.6" cy="628.8" r="2.62" fill="#fff" stroke="#f07a30" stroke-width="0.95"/>
<circle cx="126.6" cy="628.8" r="2.62" fill="#fff" stroke="#f07a30" stroke-width="0.95"/>
<circle cx="133.6" cy="628.8" r="2.62" fill="#fff" stroke="#f07a30" stroke-width="0.95"/>
<circle cx="139.3" cy="628.8" r="2.62" fill="#fff" stroke="#f07a30" stroke-width="0.95"/>
<circle cx="144.6" cy="628.8" r="2.62" fill="#fff" stroke="#f07a30" stroke-width="0.95"/>
<circle cx="151.2" cy="628.8" r="2.62" fill="#fff" stroke="#f07a30" stroke-width="0.95"/>
<circle cx="158.4" cy="628.8" r="2.62" fill="#fff" stroke="#f07a30" stroke-width="0.95"/>
<circle cx="163.9" cy="628.8" r="2.62" fill="#fff" stroke="#f07a30" stroke-width="0.95"/>
<circle cx="170.4" cy="628.8" r="2.62" fill="#fff" stroke="#f07a30" stroke-width="0.95"/>
<circle cx="176.6" cy="628.8" r="2.62" fill="#fff" stroke="#f07a30" stroke-width="0.95"/>
<circle cx="182.5" cy="628.8" r="2.62" fill="#fff" stroke="#f07a30" stroke-width="0.95"/>
<circle cx="189.5" cy="628.8" r="2.62" fill="#fff" stroke="#f07a30" stroke-width="0.95"/>
<circle cx="195.6" cy="628.8" r="2.62" fill="#fff" stroke="#f07a30" stroke-width="0.95"/>
<circle cx="202" cy="628.8" r="2.62" fill="#fff" stroke="#f07a30" stroke-width="0.95"/>
<circle cx="207.9" cy="628.8" r="2.62" fill="#fff" stroke="#f07a30" stroke-width="0.95"/>
<circle cx="214.1" cy="628.8" r="2.62" fill="#fff" stroke="#f07a30" stroke-width="0.95"/>
<circle cx="220" cy="628.8" r="2.62" fill="#fff" stroke="#f07a30" stroke-width="0.95"/>
<circle cx="226.5" cy="628.8" r="2.62" fill="#fff" stroke="#f07a30" stroke-width="0.95"/>
<polyline points="56.6,794.2 62.67,794.2 68.74,794.2 74.81,794.2 80.88,794.2 86.95,794.2 95.1,790.7 102.3,786.3 107.5,776.7 115,754.5 120.4,730.2 127.4,701.1 134.3,677.8 139.5,657.2 145.4,635.2 151.9,614.6 159.1,604.8 164.8,601.7 171.2,601.1 177.2,603.7 184.2,608.1 190.4,615.9 196.1,623.6 201.3,629.5 209,630.1 215.1,630.1 221.2,630.1 227.3,630.1 233.4,630.1" fill="none" stroke="#506070" stroke-width="1.3" stroke-linejoin="round" opacity="1.0"/>
<circle cx="95" cy="790.6" r="2.75" fill="#fff" stroke="#a46ee0" stroke-width="0.9"/>
<circle cx="102.2" cy="786.2" r="2.75" fill="#fff" stroke="#a46ee0" stroke-width="0.9"/>
<circle cx="107.4" cy="776.6" r="2.75" fill="#fff" stroke="#a46ee0" stroke-width="0.9"/>
<circle cx="114.9" cy="754.4" r="2.75" fill="#fff" stroke="#a46ee0" stroke-width="0.9"/>
<circle cx="120.3" cy="730.1" r="2.75" fill="#fff" stroke="#a46ee0" stroke-width="0.9"/>
<circle cx="127.3" cy="701" r="2.75" fill="#fff" stroke="#a46ee0" stroke-width="0.9"/>
<circle cx="134.2" cy="677.7" r="2.75" fill="#fff" stroke="#a46ee0" stroke-width="0.9"/>
<circle cx="139.4" cy="657.1" r="2.75" fill="#fff" stroke="#a46ee0" stroke-width="0.9"/>
<circle cx="145.3" cy="635.1" r="2.75" fill="#fff" stroke="#a46ee0" stroke-width="0.9"/>
<circle cx="151.8" cy="614.5" r="2.75" fill="#fff" stroke="#a46ee0" stroke-width="0.9"/>
<circle cx="159" cy="604.7" r="2.75" fill="#fff" stroke="#a46ee0" stroke-width="0.9"/>
<circle cx="164.7" cy="601.6" r="2.75" fill="#fff" stroke="#a46ee0" stroke-width="0.9"/>
<circle cx="171.1" cy="601" r="2.75" fill="#fff" stroke="#a46ee0" stroke-width="0.9"/>
<circle cx="177.1" cy="603.6" r="2.75" fill="#fff" stroke="#a46ee0" stroke-width="0.9"/>
<circle cx="184.1" cy="608" r="2.75" fill="#fff" stroke="#a46ee0" stroke-width="0.9"/>
<circle cx="190.3" cy="615.8" r="2.75" fill="#fff" stroke="#a46ee0" stroke-width="0.9"/>
<circle cx="196" cy="623.5" r="2.75" fill="#fff" stroke="#a46ee0" stroke-width="0.9"/>
<circle cx="201.2" cy="629.4" r="2.75" fill="#fff" stroke="#a46ee0" stroke-width="0.9"/>
<circle cx="208.9" cy="630" r="2.75" fill="#fff" stroke="#a46ee0" stroke-width="0.9"/>
<circle cx="95" cy="790.6" r="2.75" fill="#fff" stroke="#12c4cc" stroke-width="0.9"/>
<circle cx="102.2" cy="786.2" r="2.75" fill="#fff" stroke="#12c4cc" stroke-width="0.9"/>
<circle cx="107.4" cy="776.6" r="2.75" fill="#fff" stroke="#12c4cc" stroke-width="0.9"/>
<circle cx="114.9" cy="754.4" r="2.75" fill="#fff" stroke="#12c4cc" stroke-width="0.9"/>
<circle cx="120.3" cy="730.1" r="2.75" fill="#fff" stroke="#12c4cc" stroke-width="0.9"/>
<circle cx="127.3" cy="701" r="2.75" fill="#fff" stroke="#12c4cc" stroke-width="0.9"/>
<circle cx="134.2" cy="677.7" r="2.75" fill="#fff" stroke="#12c4cc" stroke-width="0.9"/>
<circle cx="139.4" cy="657.1" r="2.75" fill="#fff" stroke="#12c4cc" stroke-width="0.9"/>
<circle cx="145.3" cy="635.1" r="2.75" fill="#fff" stroke="#12c4cc" stroke-width="0.9"/>
<circle cx="151.8" cy="614.5" r="2.75" fill="#fff" stroke="#12c4cc" stroke-width="0.9"/>
<circle cx="159" cy="604.7" r="2.75" fill="#fff" stroke="#12c4cc" stroke-width="0.9"/>
<circle cx="164.7" cy="601.6" r="2.75" fill="#fff" stroke="#12c4cc" stroke-width="0.9"/>
<circle cx="171.1" cy="601" r="2.75" fill="#fff" stroke="#12c4cc" stroke-width="0.9"/>
<circle cx="177.1" cy="603.6" r="2.75" fill="#fff" stroke="#12c4cc" stroke-width="0.9"/>
<circle cx="184.1" cy="608" r="2.75" fill="#fff" stroke="#12c4cc" stroke-width="0.9"/>
<circle cx="190.3" cy="615.8" r="2.75" fill="#fff" stroke="#12c4cc" stroke-width="0.9"/>
<circle cx="196" cy="623.5" r="2.75" fill="#fff" stroke="#12c4cc" stroke-width="0.9"/>
<circle cx="201.2" cy="629.4" r="2.75" fill="#fff" stroke="#12c4cc" stroke-width="0.9"/>
<circle cx="208.9" cy="630" r="2.75" fill="#fff" stroke="#12c4cc" stroke-width="0.9"/>
<circle cx="95" cy="790.6" r="2.75" fill="#fff" stroke="#2e9e5e" stroke-width="0.9"/>
<circle cx="102.2" cy="786.2" r="2.75" fill="#fff" stroke="#2e9e5e" stroke-width="0.9"/>
<circle cx="107.4" cy="776.6" r="2.75" fill="#fff" stroke="#2e9e5e" stroke-width="0.9"/>
<circle cx="114.9" cy="754.4" r="2.75" fill="#fff" stroke="#2e9e5e" stroke-width="0.9"/>
<circle cx="120.3" cy="730.1" r="2.75" fill="#fff" stroke="#2e9e5e" stroke-width="0.9"/>
<circle cx="127.3" cy="701" r="2.75" fill="#fff" stroke="#2e9e5e" stroke-width="0.9"/>
<circle cx="134.2" cy="677.7" r="2.75" fill="#fff" stroke="#2e9e5e" stroke-width="0.9"/>
<circle cx="139.4" cy="657.1" r="2.75" fill="#fff" stroke="#2e9e5e" stroke-width="0.9"/>
<circle cx="145.3" cy="635.1" r="2.75" fill="#fff" stroke="#2e9e5e" stroke-width="0.9"/>
<circle cx="151.8" cy="614.5" r="2.75" fill="#fff" stroke="#2e9e5e" stroke-width="0.9"/>
<circle cx="159" cy="604.7" r="2.75" fill="#fff" stroke="#2e9e5e" stroke-width="0.9"/>
<circle cx="164.7" cy="601.6" r="2.75" fill="#fff" stroke="#2e9e5e" stroke-width="0.9"/>
<circle cx="171.1" cy="601" r="2.75" fill="#fff" stroke="#2e9e5e" stroke-width="0.9"/>
<circle cx="177.1" cy="603.6" r="2.75" fill="#fff" stroke="#2e9e5e" stroke-width="0.9"/>
<circle cx="184.1" cy="608" r="2.75" fill="#fff" stroke="#2e9e5e" stroke-width="0.9"/>
<circle cx="190.3" cy="615.8" r="2.75" fill="#fff" stroke="#2e9e5e" stroke-width="0.9"/>
<circle cx="196" cy="623.5" r="2.75" fill="#fff" stroke="#2e9e5e" stroke-width="0.9"/>
<circle cx="201.2" cy="629.4" r="2.75" fill="#fff" stroke="#2e9e5e" stroke-width="0.9"/>
<circle cx="208.9" cy="630" r="2.75" fill="#fff" stroke="#2e9e5e" stroke-width="0.9"/>
<circle cx="95" cy="790.6" r="2.75" fill="#fff" stroke="#2468d8" stroke-width="0.9"/>
<circle cx="102.2" cy="786.2" r="2.75" fill="#fff" stroke="#2468d8" stroke-width="0.9"/>
<circle cx="107.4" cy="776.6" r="2.75" fill="#fff" stroke="#2468d8" stroke-width="0.9"/>
<circle cx="114.9" cy="754.4" r="2.75" fill="#fff" stroke="#2468d8" stroke-width="0.9"/>
<circle cx="120.3" cy="730.1" r="2.75" fill="#fff" stroke="#2468d8" stroke-width="0.9"/>
<circle cx="127.3" cy="701" r="2.75" fill="#fff" stroke="#2468d8" stroke-width="0.9"/>
<circle cx="134.2" cy="677.7" r="2.75" fill="#fff" stroke="#2468d8" stroke-width="0.9"/>
<circle cx="139.4" cy="657.1" r="2.75" fill="#fff" stroke="#2468d8" stroke-width="0.9"/>
<circle cx="145.3" cy="635.1" r="2.75" fill="#fff" stroke="#2468d8" stroke-width="0.9"/>
<circle cx="151.8" cy="614.5" r="2.75" fill="#fff" stroke="#2468d8" stroke-width="0.9"/>
<circle cx="159" cy="604.7" r="2.75" fill="#fff" stroke="#2468d8" stroke-width="0.9"/>
<circle cx="164.7" cy="601.6" r="2.75" fill="#fff" stroke="#2468d8" stroke-width="0.9"/>
<circle cx="171.1" cy="601" r="2.75" fill="#fff" stroke="#2468d8" stroke-width="0.9"/>
<circle cx="177.1" cy="603.6" r="2.75" fill="#fff" stroke="#2468d8" stroke-width="0.9"/>
<circle cx="184.1" cy="608" r="2.75" fill="#fff" stroke="#2468d8" stroke-width="0.9"/>
<circle cx="190.3" cy="615.8" r="2.75" fill="#fff" stroke="#2468d8" stroke-width="0.9"/>
<circle cx="196" cy="623.5" r="2.75" fill="#fff" stroke="#2468d8" stroke-width="0.9"/>
<circle cx="201.2" cy="629.4" r="2.75" fill="#fff" stroke="#2468d8" stroke-width="0.9"/>
<circle cx="208.9" cy="630" r="2.75" fill="#fff" stroke="#2468d8" stroke-width="0.9"/>
<circle cx="95" cy="790.6" r="2.75" fill="#fff" stroke="#555555" stroke-width="0.9"/>
<circle cx="102.2" cy="786.2" r="2.75" fill="#fff" stroke="#555555" stroke-width="0.9"/>
<circle cx="107.4" cy="776.6" r="2.75" fill="#fff" stroke="#555555" stroke-width="0.9"/>
<circle cx="114.9" cy="754.4" r="2.75" fill="#fff" stroke="#555555" stroke-width="0.9"/>
<circle cx="120.3" cy="730.1" r="2.75" fill="#fff" stroke="#555555" stroke-width="0.9"/>
<circle cx="127.3" cy="701" r="2.75" fill="#fff" stroke="#555555" stroke-width="0.9"/>
<circle cx="134.2" cy="677.7" r="2.75" fill="#fff" stroke="#555555" stroke-width="0.9"/>
<circle cx="139.4" cy="657.1" r="2.75" fill="#fff" stroke="#555555" stroke-width="0.9"/>
<circle cx="145.3" cy="635.1" r="2.75" fill="#fff" stroke="#555555" stroke-width="0.9"/>
<circle cx="151.8" cy="614.5" r="2.75" fill="#fff" stroke="#555555" stroke-width="0.9"/>
<circle cx="159" cy="604.7" r="2.75" fill="#fff" stroke="#555555" stroke-width="0.9"/>
<circle cx="164.7" cy="601.6" r="2.75" fill="#fff" stroke="#555555" stroke-width="0.9"/>
<circle cx="171.1" cy="601" r="2.75" fill="#fff" stroke="#555555" stroke-width="0.9"/>
<circle cx="177.1" cy="603.6" r="2.75" fill="#fff" stroke="#555555" stroke-width="0.9"/>
<circle cx="184.1" cy="608" r="2.75" fill="#fff" stroke="#555555" stroke-width="0.9"/>
<circle cx="190.3" cy="615.8" r="2.75" fill="#fff" stroke="#555555" stroke-width="0.9"/>
<circle cx="196" cy="623.5" r="2.75" fill="#fff" stroke="#555555" stroke-width="0.9"/>
<circle cx="201.2" cy="629.4" r="2.75" fill="#fff" stroke="#555555" stroke-width="0.9"/>
<circle cx="208.9" cy="630" r="2.75" fill="#fff" stroke="#555555" stroke-width="0.9"/>
<polyline points="56,793.2 62.07,793.2 68.14,793.2 74.21,793.2 80.28,793.2 86.35,793.2 94.5,789.7 101.7,785.3 106.9,775.7 114.4,753.5 119.8,729.2 126.8,700.1 133.7,676.8 138.9,656.2 144.8,634.2 151.3,613.6 158.5,603.8 164.2,600.7 170.6,600.1 176.6,602.7 183.6,607.1 189.8,614.9 195.5,622.6 200.7,628.5 208.4,629.1 214.5,629.1 220.6,629.1 226.7,629.1 232.8,629.1" fill="none" stroke="#f07a30" stroke-width="1.5" stroke-linejoin="round" opacity="1.0"/>
<circle cx="94.5" cy="789.7" r="2.7" fill="#fff" stroke="#f07a30" stroke-width="1.0"/>
<line x1="94.5" y1="787" x2="94.5" y2="792.4" stroke="#f07a30" stroke-width="1.0"/>
<circle cx="101.7" cy="785.3" r="2.7" fill="#fff" stroke="#f07a30" stroke-width="1.0"/>
<line x1="101.7" y1="782.6" x2="101.7" y2="788" stroke="#f07a30" stroke-width="1.0"/>
<circle cx="106.9" cy="775.7" r="2.7" fill="#fff" stroke="#f07a30" stroke-width="1.0"/>
<line x1="106.9" y1="773" x2="106.9" y2="778.4" stroke="#f07a30" stroke-width="1.0"/>
<circle cx="114.4" cy="753.5" r="2.7" fill="#fff" stroke="#f07a30" stroke-width="1.0"/>
<line x1="114.4" y1="750.8" x2="114.4" y2="756.2" stroke="#f07a30" stroke-width="1.0"/>
<circle cx="119.8" cy="729.2" r="2.7" fill="#fff" stroke="#f07a30" stroke-width="1.0"/>
<line x1="119.8" y1="726.5" x2="119.8" y2="731.9" stroke="#f07a30" stroke-width="1.0"/>
<circle cx="126.8" cy="700.1" r="2.7" fill="#fff" stroke="#f07a30" stroke-width="1.0"/>
<line x1="126.8" y1="697.4" x2="126.8" y2="702.8" stroke="#f07a30" stroke-width="1.0"/>
<circle cx="133.7" cy="676.8" r="2.7" fill="#fff" stroke="#f07a30" stroke-width="1.0"/>
<line x1="133.7" y1="674.1" x2="133.7" y2="679.5" stroke="#f07a30" stroke-width="1.0"/>
<circle cx="138.9" cy="656.2" r="2.7" fill="#fff" stroke="#f07a30" stroke-width="1.0"/>
<line x1="138.9" y1="653.5" x2="138.9" y2="658.9" stroke="#f07a30" stroke-width="1.0"/>
<circle cx="144.8" cy="634.2" r="2.7" fill="#fff" stroke="#f07a30" stroke-width="1.0"/>
<line x1="144.8" y1="631.5" x2="144.8" y2="636.9" stroke="#f07a30" stroke-width="1.0"/>
<circle cx="151.3" cy="613.6" r="2.7" fill="#fff" stroke="#f07a30" stroke-width="1.0"/>
<line x1="151.3" y1="610.9" x2="151.3" y2="616.3" stroke="#f07a30" stroke-width="1.0"/>
<circle cx="158.5" cy="603.8" r="2.7" fill="#fff" stroke="#f07a30" stroke-width="1.0"/>
<line x1="158.5" y1="601.1" x2="158.5" y2="606.5" stroke="#f07a30" stroke-width="1.0"/>
<circle cx="164.2" cy="600.7" r="2.7" fill="#fff" stroke="#f07a30" stroke-width="1.0"/>
<line x1="164.2" y1="598" x2="164.2" y2="603.4" stroke="#f07a30" stroke-width="1.0"/>
<circle cx="170.6" cy="600.1" r="2.7" fill="#fff" stroke="#f07a30" stroke-width="1.0"/>
<line x1="170.6" y1="597.4" x2="170.6" y2="602.8" stroke="#f07a30" stroke-width="1.0"/>
<circle cx="176.6" cy="602.7" r="2.7" fill="#fff" stroke="#f07a30" stroke-width="1.0"/>
<line x1="176.6" y1="600" x2="176.6" y2="605.4" stroke="#f07a30" stroke-width="1.0"/>
<circle cx="183.6" cy="607.1" r="2.7" fill="#fff" stroke="#f07a30" stroke-width="1.0"/>
<line x1="183.6" y1="604.4" x2="183.6" y2="609.8" stroke="#f07a30" stroke-width="1.0"/>
<circle cx="189.8" cy="614.9" r="2.7" fill="#fff" stroke="#f07a30" stroke-width="1.0"/>
<line x1="189.8" y1="612.2" x2="189.8" y2="617.6" stroke="#f07a30" stroke-width="1.0"/>
<circle cx="195.5" cy="622.6" r="2.7" fill="#fff" stroke="#f07a30" stroke-width="1.0"/>
<line x1="195.5" y1="619.9" x2="195.5" y2="625.3" stroke="#f07a30" stroke-width="1.0"/>
<circle cx="200.7" cy="628.5" r="2.7" fill="#fff" stroke="#f07a30" stroke-width="1.0"/>
<line x1="200.7" y1="625.8" x2="200.7" y2="631.2" stroke="#f07a30" stroke-width="1.0"/>
<circle cx="208.4" cy="629.1" r="2.7" fill="#fff" stroke="#f07a30" stroke-width="1.0"/>
<line x1="208.4" y1="626.4" x2="208.4" y2="631.8" stroke="#f07a30" stroke-width="1.0"/>
<circle cx="214.5" cy="629.1" r="2.7" fill="#fff" stroke="#f07a30" stroke-width="1.0"/>
<line x1="214.5" y1="626.4" x2="214.5" y2="631.8" stroke="#f07a30" stroke-width="1.0"/>
<circle cx="220.6" cy="629.1" r="2.7" fill="#fff" stroke="#f07a30" stroke-width="1.0"/>
<line x1="220.6" y1="626.4" x2="220.6" y2="631.8" stroke="#f07a30" stroke-width="1.0"/>
<circle cx="226.7" cy="629.1" r="2.7" fill="#fff" stroke="#f07a30" stroke-width="1.0"/>
<line x1="226.7" y1="626.4" x2="226.7" y2="631.8" stroke="#f07a30" stroke-width="1.0"/>
<circle cx="232.8" cy="629.1" r="2.7" fill="#fff" stroke="#f07a30" stroke-width="1.0"/>
<line x1="232.8" y1="626.4" x2="232.8" y2="631.8" stroke="#f07a30" stroke-width="1.0"/>
<polyline points="56.6,794.2 62.67,794.2 68.74,794.2 74.81,794.2 80.88,794.2 86.95,794.2 93.02,794.2 99.09,794.2 105.16,794.2 111.23,794.2 117.3,794.2 123.37,794.2 129.44,794.2 135.51,794.2 141.58,794.2 147.65,794.2 153.72,794.2 159.79,794.2 165.86,794.2 171.93,794.2 178,794.2 183.7,790.7 190.9,787.6 196.1,776.7 201.8,764.3 208.5,736.4 215.5,707.5 220.6,678.6 227.9,649.4 233.5,632.1 239.6,630.1 245.4,630.1 252.5,630.1 258,630.1 265.2,630.1 272.3,630.1 278.1,630.1 285,630.1 290.3,630.1 296.9,630.1 304,630.1 309.1,630.1" fill="none" stroke="#606090" stroke-width="1.3" stroke-linejoin="round" opacity="1.0"/>
<polyline points="56,793.2 62.07,793.2 68.14,793.2 74.21,793.2 80.28,793.2 86.35,793.2 92.42,793.2 98.49,793.2 104.56,793.2 110.63,793.2 116.7,793.2 122.77,793.2 128.84,793.2 134.91,793.2 140.98,793.2 147.05,793.2 153.12,793.2 159.19,793.2 165.26,793.2 171.33,793.2 177.4,793.2 183.1,789.7 190.3,786.6 195.5,775.7 201.2,763.3 207.9,735.4 214.9,706.5 220,677.6 227.3,648.4 232.9,631.1 239,629.1 244.8,629.1 251.9,629.1 257.4,629.1 264.6,629.1 271.7,629.1 277.5,629.1 284.4,629.1 289.7,629.1 296.3,629.1 303.4,629.1 308.5,629.1" fill="none" stroke="#ff6a10" stroke-width="1.7" stroke-linejoin="round" opacity="1.0"/>
<circle cx="183.6" cy="790.7" r="3.1" fill="#6070a0"/>
<circle cx="190.8" cy="787.6" r="3.1" fill="#6070a0"/>
<circle cx="196" cy="776.7" r="3.1" fill="#6070a0"/>
<circle cx="201.7" cy="764.3" r="3.1" fill="#6070a0"/>
<circle cx="208.4" cy="736.4" r="3.1" fill="#6070a0"/>
<circle cx="215.4" cy="707.5" r="3.1" fill="#6070a0"/>
<circle cx="220.5" cy="678.6" r="3.1" fill="#6070a0"/>
<circle cx="227.8" cy="649.4" r="3.1" fill="#6070a0"/>
<circle cx="233.4" cy="632.1" r="3.1" fill="#6070a0"/>
<circle cx="56" cy="793.2" r="3.3" fill="#ff6a10"/>
<circle cx="62.07" cy="793.2" r="3.3" fill="#ff6a10"/>
<circle cx="68.14" cy="793.2" r="3.3" fill="#ff6a10"/>
<circle cx="74.21" cy="793.2" r="3.3" fill="#ff6a10"/>
<circle cx="80.28" cy="793.2" r="3.3" fill="#ff6a10"/>
<circle cx="86.35" cy="793.2" r="3.3" fill="#ff6a10"/>
<circle cx="92.42" cy="793.2" r="3.3" fill="#ff6a10"/>
<circle cx="98.49" cy="793.2" r="3.3" fill="#ff6a10"/>
<circle cx="104.56" cy="793.2" r="3.3" fill="#ff6a10"/>
<circle cx="110.63" cy="793.2" r="3.3" fill="#ff6a10"/>
<circle cx="116.7" cy="793.2" r="3.3" fill="#ff6a10"/>
<circle cx="122.77" cy="793.2" r="3.3" fill="#ff6a10"/>
<circle cx="128.84" cy="793.2" r="3.3" fill="#ff6a10"/>
<circle cx="134.91" cy="793.2" r="3.3" fill="#ff6a10"/>
<circle cx="140.98" cy="793.2" r="3.3" fill="#ff6a10"/>
<circle cx="147.05" cy="793.2" r="3.3" fill="#ff6a10"/>
<circle cx="153.12" cy="793.2" r="3.3" fill="#ff6a10"/>
<circle cx="159.19" cy="793.2" r="3.3" fill="#ff6a10"/>
<circle cx="165.26" cy="793.2" r="3.3" fill="#ff6a10"/>
<circle cx="171.33" cy="793.2" r="3.3" fill="#ff6a10"/>
<circle cx="177.4" cy="793.2" r="3.3" fill="#ff6a10"/>
<circle cx="183.1" cy="789.7" r="3.3" fill="#ff6a10"/>
<circle cx="190.3" cy="786.6" r="3.3" fill="#ff6a10"/>
<circle cx="195.5" cy="775.7" r="3.3" fill="#ff6a10"/>
<circle cx="201.2" cy="763.3" r="3.3" fill="#ff6a10"/>
<circle cx="207.9" cy="735.4" r="3.3" fill="#ff6a10"/>
<circle cx="214.9" cy="706.5" r="3.3" fill="#ff6a10"/>
<circle cx="220" cy="677.6" r="3.3" fill="#ff6a10"/>
<circle cx="227.3" cy="648.4" r="3.3" fill="#ff6a10"/>
<circle cx="232.9" cy="631.1" r="3.3" fill="#ff6a10"/>
<circle cx="239" cy="629.1" r="3.3" fill="#ff6a10"/>
<circle cx="244.8" cy="629.1" r="3.3" fill="#ff6a10"/>
<circle cx="251.9" cy="629.1" r="3.3" fill="#ff6a10"/>
<circle cx="257.4" cy="629.1" r="3.3" fill="#ff6a10"/>
<circle cx="264.6" cy="629.1" r="3.3" fill="#ff6a10"/>
<circle cx="271.7" cy="629.1" r="3.3" fill="#ff6a10"/>
<circle cx="277.5" cy="629.1" r="3.3" fill="#ff6a10"/>
<circle cx="284.4" cy="629.1" r="3.3" fill="#ff6a10"/>
<circle cx="289.7" cy="629.1" r="3.3" fill="#ff6a10"/>
<circle cx="296.3" cy="629.1" r="3.3" fill="#ff6a10"/>
<circle cx="303.4" cy="629.1" r="3.3" fill="#ff6a10"/>
<circle cx="308.5" cy="629.1" r="3.3" fill="#ff6a10"/>
<rect x="49.4" y="580.5" width="275.3" height="220.8" fill="none" stroke="#222" stroke-width="1.3"/>
<line x1="45.4" y1="793.2" x2="49.4" y2="793.2" stroke="#222" stroke-width="1.2"/>
<text x="42.4" y="797.96" font-size="14" text-anchor="end" fill="#111">0.0</text>
<line x1="45.4" y1="760.4" x2="49.4" y2="760.4" stroke="#222" stroke-width="1.2"/>
<text x="42.4" y="765.16" font-size="14" text-anchor="end" fill="#111">0.2</text>
<line x1="45.4" y1="727.6" x2="49.4" y2="727.6" stroke="#222" stroke-width="1.2"/>
<text x="42.4" y="732.36" font-size="14" text-anchor="end" fill="#111">0.4</text>
<line x1="45.4" y1="694.8" x2="49.4" y2="694.8" stroke="#222" stroke-width="1.2"/>
<text x="42.4" y="699.56" font-size="14" text-anchor="end" fill="#111">0.6</text>
<line x1="45.4" y1="662" x2="49.4" y2="662" stroke="#222" stroke-width="1.2"/>
<text x="42.4" y="666.76" font-size="14" text-anchor="end" fill="#111">0.8</text>
<line x1="45.4" y1="629.2" x2="49.4" y2="629.2" stroke="#222" stroke-width="1.2"/>
<text x="42.4" y="633.96" font-size="14" text-anchor="end" fill="#111">1.0</text>
<line x1="45.4" y1="596.4" x2="49.4" y2="596.4" stroke="#222" stroke-width="1.2"/>
<text x="42.4" y="601.16" font-size="14" text-anchor="end" fill="#111">1.2</text>
<line x1="47.2" y1="776.8" x2="49.4" y2="776.8" stroke="#222" stroke-width="1.2"/>
<line x1="47.2" y1="744" x2="49.4" y2="744" stroke="#222" stroke-width="1.2"/>
<line x1="47.2" y1="711.2" x2="49.4" y2="711.2" stroke="#222" stroke-width="1.2"/>
<line x1="47.2" y1="678.4" x2="49.4" y2="678.4" stroke="#222" stroke-width="1.2"/>
<line x1="47.2" y1="645.6" x2="49.4" y2="645.6" stroke="#222" stroke-width="1.2"/>
<line x1="47.2" y1="612.8" x2="49.4" y2="612.8" stroke="#222" stroke-width="1.2"/>
<line x1="47.2" y1="580" x2="49.4" y2="580" stroke="#222" stroke-width="1.2"/>
<line x1="56" y1="801.3" x2="56" y2="805.3" stroke="#222" stroke-width="1.2"/>
<text x="56" y="819.8" font-size="14" text-anchor="middle" fill="#111">0</text>
<line x1="123.17" y1="801.3" x2="123.17" y2="805.3" stroke="#222" stroke-width="1.2"/>
<text x="123.17" y="819.8" font-size="14" text-anchor="middle" fill="#111">50</text>
<line x1="190.35" y1="801.3" x2="190.35" y2="805.3" stroke="#222" stroke-width="1.2"/>
<text x="190.35" y="819.8" font-size="14" text-anchor="middle" fill="#111">100</text>
<line x1="257.52" y1="801.3" x2="257.52" y2="805.3" stroke="#222" stroke-width="1.2"/>
<text x="257.52" y="819.8" font-size="14" text-anchor="middle" fill="#111">150</text>
<line x1="324.7" y1="801.3" x2="324.7" y2="805.3" stroke="#222" stroke-width="1.2"/>
<text x="324.7" y="819.8" font-size="14" text-anchor="middle" fill="#111">200</text>
<line x1="89.59" y1="801.3" x2="89.59" y2="803.5" stroke="#222" stroke-width="1.2"/>
<line x1="156.76" y1="801.3" x2="156.76" y2="803.5" stroke="#222" stroke-width="1.2"/>
<line x1="223.94" y1="801.3" x2="223.94" y2="803.5" stroke="#222" stroke-width="1.2"/>
<line x1="291.11" y1="801.3" x2="291.11" y2="803.5" stroke="#222" stroke-width="1.2"/>
<text x="231.1" y="657.5" font-size="11.5" text-anchor="start" fill="#111">CH<tspan font-size="7.59" dy="3.11">4</tspan></text>
<text x="256.2" y="657.5" font-size="11.5" text-anchor="start" fill="#111">C<tspan font-size="7.59" dy="3.11">2</tspan><tspan dy="-3.11">H</tspan><tspan font-size="7.59" dy="3.11">6</tspan></text>
<text x="284.6" y="657.5" font-size="11.5" text-anchor="start" fill="#111">C<tspan font-size="7.59" dy="3.11">3</tspan><tspan dy="-3.11">H</tspan><tspan font-size="7.59" dy="3.11">8</tspan></text>
<line x1="227" y1="666.5" x2="252.3" y2="666.5" stroke="#999999" stroke-width="0.9"/>
<circle cx="239.4" cy="666.5" r="2.2" fill="#fff" stroke="#555555" stroke-width="0.8"/>
<line x1="254.4" y1="666.5" x2="280.2" y2="666.5" stroke="#999999" stroke-width="1.2"/>
<circle cx="267.3" cy="666.5" r="2.2" fill="#fff" stroke="#555555" stroke-width="0.8"/>
<line x1="267.3" y1="664.3" x2="267.3" y2="668.7" stroke="#555555" stroke-width="0.8"/>
<line x1="282" y1="666.5" x2="309.1" y2="666.5" stroke="#555555" stroke-width="1.6"/>
<circle cx="295.7" cy="666.5" r="2.8" fill="#555555"/>
<text x="311.2" y="671" font-size="13" text-anchor="start" fill="#111">1</text>
<line x1="227" y1="680.65" x2="252.3" y2="680.65" stroke="#f59a9a" stroke-width="0.9"/>
<circle cx="239.4" cy="680.65" r="2.2" fill="#fff" stroke="#ee4040" stroke-width="0.8"/>
<line x1="254.4" y1="680.65" x2="280.2" y2="680.65" stroke="#f59a9a" stroke-width="1.2"/>
<circle cx="267.3" cy="680.65" r="2.2" fill="#fff" stroke="#ee4040" stroke-width="0.8"/>
<line x1="267.3" y1="678.45" x2="267.3" y2="682.85" stroke="#ee4040" stroke-width="0.8"/>
<line x1="282" y1="680.65" x2="309.1" y2="680.65" stroke="#ee4040" stroke-width="1.6"/>
<circle cx="295.7" cy="680.65" r="2.8" fill="#ee4040"/>
<text x="311.2" y="685.15" font-size="13" text-anchor="start" fill="#111">2</text>
<line x1="227" y1="694.8" x2="252.3" y2="694.8" stroke="#8fb4ee" stroke-width="0.9"/>
<circle cx="239.4" cy="694.8" r="2.2" fill="#fff" stroke="#2468d8" stroke-width="0.8"/>
<line x1="254.4" y1="694.8" x2="280.2" y2="694.8" stroke="#8fb4ee" stroke-width="1.2"/>
<circle cx="267.3" cy="694.8" r="2.2" fill="#fff" stroke="#2468d8" stroke-width="0.8"/>
<line x1="267.3" y1="692.6" x2="267.3" y2="697" stroke="#2468d8" stroke-width="0.8"/>
<line x1="282" y1="694.8" x2="309.1" y2="694.8" stroke="#2468d8" stroke-width="1.6"/>
<circle cx="295.7" cy="694.8" r="2.8" fill="#2468d8"/>
<text x="311.2" y="699.3" font-size="13" text-anchor="start" fill="#111">3</text>
<line x1="227" y1="708.95" x2="252.3" y2="708.95" stroke="#88c8a2" stroke-width="0.9"/>
<circle cx="239.4" cy="708.95" r="2.2" fill="#fff" stroke="#2e9e5e" stroke-width="0.8"/>
<line x1="254.4" y1="708.95" x2="280.2" y2="708.95" stroke="#88c8a2" stroke-width="1.2"/>
<circle cx="267.3" cy="708.95" r="2.2" fill="#fff" stroke="#2e9e5e" stroke-width="0.8"/>
<line x1="267.3" y1="706.75" x2="267.3" y2="711.15" stroke="#2e9e5e" stroke-width="0.8"/>
<line x1="282" y1="708.95" x2="309.1" y2="708.95" stroke="#2e9e5e" stroke-width="1.6"/>
<circle cx="295.7" cy="708.95" r="2.8" fill="#2e9e5e"/>
<text x="311.2" y="713.45" font-size="13" text-anchor="start" fill="#111">4</text>
<line x1="227" y1="723.1" x2="252.3" y2="723.1" stroke="#cdb0ef" stroke-width="0.9"/>
<circle cx="239.4" cy="723.1" r="2.2" fill="#fff" stroke="#a46ee0" stroke-width="0.8"/>
<line x1="254.4" y1="723.1" x2="280.2" y2="723.1" stroke="#cdb0ef" stroke-width="1.2"/>
<circle cx="267.3" cy="723.1" r="2.2" fill="#fff" stroke="#a46ee0" stroke-width="0.8"/>
<line x1="267.3" y1="720.9" x2="267.3" y2="725.3" stroke="#a46ee0" stroke-width="0.8"/>
<line x1="282" y1="723.1" x2="309.1" y2="723.1" stroke="#a46ee0" stroke-width="1.6"/>
<circle cx="295.7" cy="723.1" r="2.8" fill="#a46ee0"/>
<text x="311.2" y="727.6" font-size="13" text-anchor="start" fill="#111">5</text>
<line x1="227" y1="737.25" x2="252.3" y2="737.25" stroke="#e0c070" stroke-width="0.9"/>
<circle cx="239.4" cy="737.25" r="2.2" fill="#fff" stroke="#c8960c" stroke-width="0.8"/>
<line x1="254.4" y1="737.25" x2="280.2" y2="737.25" stroke="#e0c070" stroke-width="1.2"/>
<circle cx="267.3" cy="737.25" r="2.2" fill="#fff" stroke="#c8960c" stroke-width="0.8"/>
<line x1="267.3" y1="735.05" x2="267.3" y2="739.45" stroke="#c8960c" stroke-width="0.8"/>
<line x1="282" y1="737.25" x2="309.1" y2="737.25" stroke="#c8960c" stroke-width="1.6"/>
<circle cx="295.7" cy="737.25" r="2.8" fill="#c8960c"/>
<text x="311.2" y="741.75" font-size="13" text-anchor="start" fill="#111">6</text>
<line x1="227" y1="751.4" x2="252.3" y2="751.4" stroke="#7ee0e4" stroke-width="0.9"/>
<circle cx="239.4" cy="751.4" r="2.2" fill="#fff" stroke="#12c4cc" stroke-width="0.8"/>
<line x1="254.4" y1="751.4" x2="280.2" y2="751.4" stroke="#7ee0e4" stroke-width="1.2"/>
<circle cx="267.3" cy="751.4" r="2.2" fill="#fff" stroke="#12c4cc" stroke-width="0.8"/>
<line x1="267.3" y1="749.2" x2="267.3" y2="753.6" stroke="#12c4cc" stroke-width="0.8"/>
<line x1="282" y1="751.4" x2="309.1" y2="751.4" stroke="#12c4cc" stroke-width="1.6"/>
<circle cx="295.7" cy="751.4" r="2.8" fill="#12c4cc"/>
<text x="311.2" y="755.9" font-size="13" text-anchor="start" fill="#111">7</text>
<line x1="227" y1="765.55" x2="252.3" y2="765.55" stroke="#b39a9a" stroke-width="0.9"/>
<circle cx="239.4" cy="765.55" r="2.2" fill="#fff" stroke="#7a4e4e" stroke-width="0.8"/>
<line x1="254.4" y1="765.55" x2="280.2" y2="765.55" stroke="#b39a9a" stroke-width="1.2"/>
<circle cx="267.3" cy="765.55" r="2.2" fill="#fff" stroke="#7a4e4e" stroke-width="0.8"/>
<line x1="267.3" y1="763.35" x2="267.3" y2="767.75" stroke="#7a4e4e" stroke-width="0.8"/>
<line x1="282" y1="765.55" x2="309.1" y2="765.55" stroke="#7a4e4e" stroke-width="1.6"/>
<circle cx="295.7" cy="765.55" r="2.8" fill="#7a4e4e"/>
<text x="311.2" y="770.05" font-size="13" text-anchor="start" fill="#111">8</text>
<line x1="227" y1="779.7" x2="252.3" y2="779.7" stroke="#c4c880" stroke-width="0.9"/>
<circle cx="239.4" cy="779.7" r="2.2" fill="#fff" stroke="#8a9012" stroke-width="0.8"/>
<line x1="254.4" y1="779.7" x2="280.2" y2="779.7" stroke="#c4c880" stroke-width="1.2"/>
<circle cx="267.3" cy="779.7" r="2.2" fill="#fff" stroke="#8a9012" stroke-width="0.8"/>
<line x1="267.3" y1="777.5" x2="267.3" y2="781.9" stroke="#8a9012" stroke-width="0.8"/>
<line x1="282" y1="779.7" x2="309.1" y2="779.7" stroke="#8a9012" stroke-width="1.6"/>
<circle cx="295.7" cy="779.7" r="2.8" fill="#8a9012"/>
<text x="311.2" y="784.2" font-size="13" text-anchor="start" fill="#111">9</text>
<line x1="227" y1="793.85" x2="252.3" y2="793.85" stroke="#ffb890" stroke-width="0.9"/>
<circle cx="239.4" cy="793.85" r="2.2" fill="#fff" stroke="#ff6a10" stroke-width="0.8"/>
<line x1="254.4" y1="793.85" x2="280.2" y2="793.85" stroke="#ffb890" stroke-width="1.2"/>
<circle cx="267.3" cy="793.85" r="2.2" fill="#fff" stroke="#ff6a10" stroke-width="0.8"/>
<line x1="267.3" y1="791.65" x2="267.3" y2="796.05" stroke="#ff6a10" stroke-width="0.8"/>
<line x1="282" y1="793.85" x2="309.1" y2="793.85" stroke="#ff6a10" stroke-width="1.6"/>
<circle cx="295.7" cy="793.85" r="2.8" fill="#ff6a10"/>
<text x="311.2" y="798.35" font-size="13" text-anchor="start" fill="#111">10</text>
<text x="52.6" y="594.2" font-size="11.5" text-anchor="start" fill="#111">CH<tspan font-size="7.59" dy="3.11">4</tspan><tspan dy="-3.11">: C</tspan><tspan font-size="7.59" dy="3.11">2</tspan><tspan dy="-3.11">H</tspan><tspan font-size="7.59" dy="3.11">6</tspan><tspan dy="-3.11">: C</tspan><tspan font-size="7.59" dy="3.11">3</tspan><tspan dy="-3.11">H</tspan><tspan font-size="7.59" dy="3.11">8</tspan><tspan dy="-3.11">=85:10:5</tspan></text>
<text x="65.6" y="706" font-size="12" text-anchor="start" fill="#111">CH<tspan font-size="7.44" dy="3.24">4</tspan></text>
<text x="130.1" y="706.5" font-size="12" text-anchor="start" fill="#111">C<tspan font-size="7.44" dy="3.24">2</tspan><tspan dy="-3.24">H</tspan><tspan font-size="7.44" dy="3.24">6</tspan></text>
<text x="181.7" y="708" font-size="12" text-anchor="start" fill="#111">C<tspan font-size="7.44" dy="3.24">3</tspan><tspan dy="-3.24">H</tspan><tspan font-size="7.44" dy="3.24">8</tspan></text>
<text x="187.4" y="841.8" font-size="18.5" text-anchor="middle" fill="#111">Time (min/g)</text>
<text x="14.3" y="691.1" font-size="20" text-anchor="middle" fill="#111" transform="rotate(-90 14.3 691.1)">C/C<tspan font-size="10" dy="6.2">0</tspan></text>
<text x="7.8" y="590.3" font-size="38" text-anchor="start" fill="#111">e</text>
<polyline points="398,792.6 403.2,792.6 408.4,792.2 415.2,777.4 420.3,756.7 425.5,737.6 430.6,722.6 435.8,705.1 441,687 446.1,668.4 451.3,645.7 456.5,624 461.6,610.3 465.2,607.1 470.36,607.1 475.52,607.1 480.68,607.1 485.84,607.1 491,607.1 496.16,607.1 501.32,607.1 506.48,607.1 511.64,607.1 516.8,607.1 521.96,607.1 527.12,607.1 532.28,607.1 537.44,607.1 542.6,607.1 547.76,607.1 552.92,607.1 558.08,607.1 563.24,607.1 568.4,607.1 573.56,607.1 578.72,607.1 583.88,607.1 589.04,607.1 594.2,607.1 599.36,607.1 604.52,607.1 609.68,607.1 614.84,607.1 620,607.1 625.16,607.1 630.32,607.1" fill="none" stroke="#555555" stroke-width="0.8" stroke-linejoin="round" opacity="1.0"/>
<circle cx="415.2" cy="777.4" r="2.15" fill="#fff" stroke="#555555" stroke-width="0.7"/>
<circle cx="420.3" cy="756.7" r="2.15" fill="#fff" stroke="#555555" stroke-width="0.7"/>
<circle cx="425.5" cy="737.6" r="2.15" fill="#fff" stroke="#555555" stroke-width="0.7"/>
<circle cx="430.6" cy="722.6" r="2.15" fill="#fff" stroke="#555555" stroke-width="0.7"/>
<circle cx="435.8" cy="705.1" r="2.15" fill="#fff" stroke="#555555" stroke-width="0.7"/>
<circle cx="441" cy="687" r="2.15" fill="#fff" stroke="#555555" stroke-width="0.7"/>
<circle cx="446.1" cy="668.4" r="2.15" fill="#fff" stroke="#555555" stroke-width="0.7"/>
<circle cx="451.3" cy="645.7" r="2.15" fill="#fff" stroke="#555555" stroke-width="0.7"/>
<circle cx="456.5" cy="624" r="2.15" fill="#fff" stroke="#555555" stroke-width="0.7"/>
<circle cx="461.6" cy="610.3" r="2.15" fill="#fff" stroke="#555555" stroke-width="0.7"/>
<polyline points="398,792.6 403.2,792.6 408.4,792.2 415,777 420.1,756.3 425.3,737.2 430.4,722.2 435.6,704.7 440.8,686.6 445.9,668 451.1,645.3 456.3,623.6 461.4,609.9 465.2,607.1 470.36,607.1 475.52,607.1 480.68,607.1 485.84,607.1 491,607.1 496.16,607.1 501.32,607.1 506.48,607.1 511.64,607.1 516.8,607.1 521.96,607.1 527.12,607.1 532.28,607.1 537.44,607.1 542.6,607.1 547.76,607.1 552.92,607.1 558.08,607.1 563.24,607.1 568.4,607.1 573.56,607.1 578.72,607.1 583.88,607.1 589.04,607.1 594.2,607.1 599.36,607.1 604.52,607.1 609.68,607.1 614.84,607.1 620,607.1 625.16,607.1 630.32,607.1" fill="none" stroke="#ee4040" stroke-width="0.8" stroke-linejoin="round" opacity="1.0"/>
<circle cx="415" cy="777" r="2.15" fill="#fff" stroke="#ee4040" stroke-width="0.7"/>
<circle cx="420.1" cy="756.3" r="2.15" fill="#fff" stroke="#ee4040" stroke-width="0.7"/>
<circle cx="425.3" cy="737.2" r="2.15" fill="#fff" stroke="#ee4040" stroke-width="0.7"/>
<circle cx="430.4" cy="722.2" r="2.15" fill="#fff" stroke="#ee4040" stroke-width="0.7"/>
<circle cx="435.6" cy="704.7" r="2.15" fill="#fff" stroke="#ee4040" stroke-width="0.7"/>
<circle cx="440.8" cy="686.6" r="2.15" fill="#fff" stroke="#ee4040" stroke-width="0.7"/>
<circle cx="445.9" cy="668" r="2.15" fill="#fff" stroke="#ee4040" stroke-width="0.7"/>
<circle cx="451.1" cy="645.3" r="2.15" fill="#fff" stroke="#ee4040" stroke-width="0.7"/>
<circle cx="456.3" cy="623.6" r="2.15" fill="#fff" stroke="#ee4040" stroke-width="0.7"/>
<circle cx="461.4" cy="609.9" r="2.15" fill="#fff" stroke="#ee4040" stroke-width="0.7"/>
<polyline points="398,792.6 403.2,792.6 408.4,792.2 414.9,776.8 420,756.1 425.2,737 430.3,722 435.5,704.5 440.7,686.4 445.8,667.8 451,645.1 456.2,623.4 461.3,609.7 465.2,607.1 470.36,607.1 475.52,607.1 480.68,607.1 485.84,607.1 491,607.1 496.16,607.1 501.32,607.1 506.48,607.1 511.64,607.1 516.8,607.1 521.96,607.1 527.12,607.1 532.28,607.1 537.44,607.1 542.6,607.1 547.76,607.1 552.92,607.1 558.08,607.1 563.24,607.1 568.4,607.1 573.56,607.1 578.72,607.1 583.88,607.1 589.04,607.1 594.2,607.1 599.36,607.1 604.52,607.1 609.68,607.1 614.84,607.1 620,607.1 625.16,607.1 630.32,607.1" fill="none" stroke="#7a4e4e" stroke-width="0.8" stroke-linejoin="round" opacity="1.0"/>
<circle cx="414.9" cy="776.8" r="2.15" fill="#fff" stroke="#7a4e4e" stroke-width="0.7"/>
<circle cx="420" cy="756.1" r="2.15" fill="#fff" stroke="#7a4e4e" stroke-width="0.7"/>
<circle cx="425.2" cy="737" r="2.15" fill="#fff" stroke="#7a4e4e" stroke-width="0.7"/>
<circle cx="430.3" cy="722" r="2.15" fill="#fff" stroke="#7a4e4e" stroke-width="0.7"/>
<circle cx="435.5" cy="704.5" r="2.15" fill="#fff" stroke="#7a4e4e" stroke-width="0.7"/>
<circle cx="440.7" cy="686.4" r="2.15" fill="#fff" stroke="#7a4e4e" stroke-width="0.7"/>
<circle cx="445.8" cy="667.8" r="2.15" fill="#fff" stroke="#7a4e4e" stroke-width="0.7"/>
<circle cx="451" cy="645.1" r="2.15" fill="#fff" stroke="#7a4e4e" stroke-width="0.7"/>
<circle cx="456.2" cy="623.4" r="2.15" fill="#fff" stroke="#7a4e4e" stroke-width="0.7"/>
<circle cx="461.3" cy="609.7" r="2.15" fill="#fff" stroke="#7a4e4e" stroke-width="0.7"/>
<polyline points="398,792.6 403.2,792.6 408.4,792.2 414.7,776.4 419.8,755.7 425,736.6 430.1,721.6 435.3,704.1 440.5,686 445.6,667.4 450.8,644.7 456,623 461.1,609.3 465.2,607.1 470.36,607.1 475.52,607.1 480.68,607.1 485.84,607.1 491,607.1 496.16,607.1 501.32,607.1 506.48,607.1 511.64,607.1 516.8,607.1 521.96,607.1 527.12,607.1 532.28,607.1 537.44,607.1 542.6,607.1 547.76,607.1 552.92,607.1 558.08,607.1 563.24,607.1 568.4,607.1 573.56,607.1 578.72,607.1 583.88,607.1 589.04,607.1 594.2,607.1 599.36,607.1 604.52,607.1 609.68,607.1 614.84,607.1 620,607.1 625.16,607.1 630.32,607.1" fill="none" stroke="#2468d8" stroke-width="0.8" stroke-linejoin="round" opacity="1.0"/>
<circle cx="414.7" cy="776.4" r="2.15" fill="#fff" stroke="#2468d8" stroke-width="0.7"/>
<circle cx="419.8" cy="755.7" r="2.15" fill="#fff" stroke="#2468d8" stroke-width="0.7"/>
<circle cx="425" cy="736.6" r="2.15" fill="#fff" stroke="#2468d8" stroke-width="0.7"/>
<circle cx="430.1" cy="721.6" r="2.15" fill="#fff" stroke="#2468d8" stroke-width="0.7"/>
<circle cx="435.3" cy="704.1" r="2.15" fill="#fff" stroke="#2468d8" stroke-width="0.7"/>
<circle cx="440.5" cy="686" r="2.15" fill="#fff" stroke="#2468d8" stroke-width="0.7"/>
<circle cx="445.6" cy="667.4" r="2.15" fill="#fff" stroke="#2468d8" stroke-width="0.7"/>
<circle cx="450.8" cy="644.7" r="2.15" fill="#fff" stroke="#2468d8" stroke-width="0.7"/>
<circle cx="456" cy="623" r="2.15" fill="#fff" stroke="#2468d8" stroke-width="0.7"/>
<circle cx="461.1" cy="609.3" r="2.15" fill="#fff" stroke="#2468d8" stroke-width="0.7"/>
<polyline points="398,792.6 403.2,792.6 408.4,792.2 414.5,776 419.6,755.3 424.8,736.2 429.9,721.2 435.1,703.7 440.3,685.6 445.4,667 450.6,644.3 455.8,622.6 460.9,608.9 465.2,607.1 470.36,607.1 475.52,607.1 480.68,607.1 485.84,607.1 491,607.1 496.16,607.1 501.32,607.1 506.48,607.1 511.64,607.1 516.8,607.1 521.96,607.1 527.12,607.1 532.28,607.1 537.44,607.1 542.6,607.1 547.76,607.1 552.92,607.1 558.08,607.1 563.24,607.1 568.4,607.1 573.56,607.1 578.72,607.1 583.88,607.1 589.04,607.1 594.2,607.1 599.36,607.1 604.52,607.1 609.68,607.1 614.84,607.1 620,607.1 625.16,607.1 630.32,607.1" fill="none" stroke="#2e9e5e" stroke-width="0.8" stroke-linejoin="round" opacity="1.0"/>
<circle cx="414.5" cy="776" r="2.15" fill="#fff" stroke="#2e9e5e" stroke-width="0.7"/>
<circle cx="419.6" cy="755.3" r="2.15" fill="#fff" stroke="#2e9e5e" stroke-width="0.7"/>
<circle cx="424.8" cy="736.2" r="2.15" fill="#fff" stroke="#2e9e5e" stroke-width="0.7"/>
<circle cx="429.9" cy="721.2" r="2.15" fill="#fff" stroke="#2e9e5e" stroke-width="0.7"/>
<circle cx="435.1" cy="703.7" r="2.15" fill="#fff" stroke="#2e9e5e" stroke-width="0.7"/>
<circle cx="440.3" cy="685.6" r="2.15" fill="#fff" stroke="#2e9e5e" stroke-width="0.7"/>
<circle cx="445.4" cy="667" r="2.15" fill="#fff" stroke="#2e9e5e" stroke-width="0.7"/>
<circle cx="450.6" cy="644.3" r="2.15" fill="#fff" stroke="#2e9e5e" stroke-width="0.7"/>
<circle cx="455.8" cy="622.6" r="2.15" fill="#fff" stroke="#2e9e5e" stroke-width="0.7"/>
<circle cx="460.9" cy="608.9" r="2.15" fill="#fff" stroke="#2e9e5e" stroke-width="0.7"/>
<polyline points="398,792.6 403.2,792.6 408.4,792.2 414.35,775.7 419.45,755 424.65,735.9 429.75,720.9 434.95,703.4 440.15,685.3 445.25,666.7 450.45,644 455.65,622.3 460.75,608.6 465.2,607.1 470.36,607.1 475.52,607.1 480.68,607.1 485.84,607.1 491,607.1 496.16,607.1 501.32,607.1 506.48,607.1 511.64,607.1 516.8,607.1 521.96,607.1 527.12,607.1 532.28,607.1 537.44,607.1 542.6,607.1 547.76,607.1 552.92,607.1 558.08,607.1 563.24,607.1 568.4,607.1 573.56,607.1 578.72,607.1 583.88,607.1 589.04,607.1 594.2,607.1 599.36,607.1 604.52,607.1 609.68,607.1 614.84,607.1 620,607.1 625.16,607.1 630.32,607.1" fill="none" stroke="#a46ee0" stroke-width="0.8" stroke-linejoin="round" opacity="1.0"/>
<circle cx="414.35" cy="775.7" r="2.15" fill="#fff" stroke="#a46ee0" stroke-width="0.7"/>
<circle cx="419.45" cy="755" r="2.15" fill="#fff" stroke="#a46ee0" stroke-width="0.7"/>
<circle cx="424.65" cy="735.9" r="2.15" fill="#fff" stroke="#a46ee0" stroke-width="0.7"/>
<circle cx="429.75" cy="720.9" r="2.15" fill="#fff" stroke="#a46ee0" stroke-width="0.7"/>
<circle cx="434.95" cy="703.4" r="2.15" fill="#fff" stroke="#a46ee0" stroke-width="0.7"/>
<circle cx="440.15" cy="685.3" r="2.15" fill="#fff" stroke="#a46ee0" stroke-width="0.7"/>
<circle cx="445.25" cy="666.7" r="2.15" fill="#fff" stroke="#a46ee0" stroke-width="0.7"/>
<circle cx="450.45" cy="644" r="2.15" fill="#fff" stroke="#a46ee0" stroke-width="0.7"/>
<circle cx="455.65" cy="622.3" r="2.15" fill="#fff" stroke="#a46ee0" stroke-width="0.7"/>
<circle cx="460.75" cy="608.6" r="2.15" fill="#fff" stroke="#a46ee0" stroke-width="0.7"/>
<polyline points="398,792.6 403.2,792.6 408.4,792.2 414.2,775.4 419.3,754.7 424.5,735.6 429.6,720.6 434.8,703.1 440,685 445.1,666.4 450.3,643.7 455.5,622 460.6,608.3 465.2,607.1 470.36,607.1 475.52,607.1 480.68,607.1 485.84,607.1 491,607.1 496.16,607.1 501.32,607.1 506.48,607.1 511.64,607.1 516.8,607.1 521.96,607.1 527.12,607.1 532.28,607.1 537.44,607.1 542.6,607.1 547.76,607.1 552.92,607.1 558.08,607.1 563.24,607.1 568.4,607.1 573.56,607.1 578.72,607.1 583.88,607.1 589.04,607.1 594.2,607.1 599.36,607.1 604.52,607.1 609.68,607.1 614.84,607.1 620,607.1 625.16,607.1 630.32,607.1" fill="none" stroke="#c8960c" stroke-width="0.8" stroke-linejoin="round" opacity="1.0"/>
<circle cx="414.2" cy="775.4" r="2.15" fill="#fff" stroke="#c8960c" stroke-width="0.7"/>
<circle cx="419.3" cy="754.7" r="2.15" fill="#fff" stroke="#c8960c" stroke-width="0.7"/>
<circle cx="424.5" cy="735.6" r="2.15" fill="#fff" stroke="#c8960c" stroke-width="0.7"/>
<circle cx="429.6" cy="720.6" r="2.15" fill="#fff" stroke="#c8960c" stroke-width="0.7"/>
<circle cx="434.8" cy="703.1" r="2.15" fill="#fff" stroke="#c8960c" stroke-width="0.7"/>
<circle cx="440" cy="685" r="2.15" fill="#fff" stroke="#c8960c" stroke-width="0.7"/>
<circle cx="445.1" cy="666.4" r="2.15" fill="#fff" stroke="#c8960c" stroke-width="0.7"/>
<circle cx="450.3" cy="643.7" r="2.15" fill="#fff" stroke="#c8960c" stroke-width="0.7"/>
<circle cx="455.5" cy="622" r="2.15" fill="#fff" stroke="#c8960c" stroke-width="0.7"/>
<circle cx="460.6" cy="608.3" r="2.15" fill="#fff" stroke="#c8960c" stroke-width="0.7"/>
<polyline points="398,792.6 403.2,792.6 408.4,792.2 414.05,775.1 419.15,754.4 424.35,735.3 429.45,720.3 434.65,702.8 439.85,684.7 444.95,666.1 450.15,643.4 455.35,621.7 460.45,608 465.2,607.1 470.36,607.1 475.52,607.1 480.68,607.1 485.84,607.1 491,607.1 496.16,607.1 501.32,607.1 506.48,607.1 511.64,607.1 516.8,607.1 521.96,607.1 527.12,607.1 532.28,607.1 537.44,607.1 542.6,607.1 547.76,607.1 552.92,607.1 558.08,607.1 563.24,607.1 568.4,607.1 573.56,607.1 578.72,607.1 583.88,607.1 589.04,607.1 594.2,607.1 599.36,607.1 604.52,607.1 609.68,607.1 614.84,607.1 620,607.1 625.16,607.1 630.32,607.1" fill="none" stroke="#12c4cc" stroke-width="0.8" stroke-linejoin="round" opacity="1.0"/>
<circle cx="414.05" cy="775.1" r="2.15" fill="#fff" stroke="#12c4cc" stroke-width="0.7"/>
<circle cx="419.15" cy="754.4" r="2.15" fill="#fff" stroke="#12c4cc" stroke-width="0.7"/>
<circle cx="424.35" cy="735.3" r="2.15" fill="#fff" stroke="#12c4cc" stroke-width="0.7"/>
<circle cx="429.45" cy="720.3" r="2.15" fill="#fff" stroke="#12c4cc" stroke-width="0.7"/>
<circle cx="434.65" cy="702.8" r="2.15" fill="#fff" stroke="#12c4cc" stroke-width="0.7"/>
<circle cx="439.85" cy="684.7" r="2.15" fill="#fff" stroke="#12c4cc" stroke-width="0.7"/>
<circle cx="444.95" cy="666.1" r="2.15" fill="#fff" stroke="#12c4cc" stroke-width="0.7"/>
<circle cx="450.15" cy="643.4" r="2.15" fill="#fff" stroke="#12c4cc" stroke-width="0.7"/>
<circle cx="455.35" cy="621.7" r="2.15" fill="#fff" stroke="#12c4cc" stroke-width="0.7"/>
<circle cx="460.45" cy="608" r="2.15" fill="#fff" stroke="#12c4cc" stroke-width="0.7"/>
<polyline points="398,792.6 403.2,792.6 408.4,792.2 413.9,774.8 419,754.1 424.2,735 429.3,720 434.5,702.5 439.7,684.4 444.8,665.8 450,643.1 455.2,621.4 460.3,607.7 465.2,607.1 470.36,607.1 475.52,607.1 480.68,607.1 485.84,607.1 491,607.1 496.16,607.1 501.32,607.1 506.48,607.1 511.64,607.1 516.8,607.1 521.96,607.1 527.12,607.1 532.28,607.1 537.44,607.1 542.6,607.1 547.76,607.1 552.92,607.1 558.08,607.1 563.24,607.1 568.4,607.1 573.56,607.1 578.72,607.1 583.88,607.1 589.04,607.1 594.2,607.1 599.36,607.1 604.52,607.1 609.68,607.1 614.84,607.1 620,607.1 625.16,607.1 630.32,607.1" fill="none" stroke="#8a9012" stroke-width="0.8" stroke-linejoin="round" opacity="1.0"/>
<circle cx="413.9" cy="774.8" r="2.15" fill="#fff" stroke="#8a9012" stroke-width="0.7"/>
<circle cx="419" cy="754.1" r="2.15" fill="#fff" stroke="#8a9012" stroke-width="0.7"/>
<circle cx="424.2" cy="735" r="2.15" fill="#fff" stroke="#8a9012" stroke-width="0.7"/>
<circle cx="429.3" cy="720" r="2.15" fill="#fff" stroke="#8a9012" stroke-width="0.7"/>
<circle cx="434.5" cy="702.5" r="2.15" fill="#fff" stroke="#8a9012" stroke-width="0.7"/>
<circle cx="439.7" cy="684.4" r="2.15" fill="#fff" stroke="#8a9012" stroke-width="0.7"/>
<circle cx="444.8" cy="665.8" r="2.15" fill="#fff" stroke="#8a9012" stroke-width="0.7"/>
<circle cx="450" cy="643.1" r="2.15" fill="#fff" stroke="#8a9012" stroke-width="0.7"/>
<circle cx="455.2" cy="621.4" r="2.15" fill="#fff" stroke="#8a9012" stroke-width="0.7"/>
<circle cx="460.3" cy="607.7" r="2.15" fill="#fff" stroke="#8a9012" stroke-width="0.7"/>
<polyline points="398,792.6 403.2,792.6 408.4,792.2 413.6,774.2 418.7,753.5 423.9,734.4 429,719.4 434.2,701.9 439.4,683.8 444.5,665.2 449.7,642.5 454.9,620.8 460,607.1 465.2,607.1 470.36,607.1 475.52,607.1 480.68,607.1 485.84,607.1 491,607.1 496.16,607.1 501.32,607.1 506.48,607.1 511.64,607.1 516.8,607.1 521.96,607.1 527.12,607.1 532.28,607.1 537.44,607.1 542.6,607.1 547.76,607.1 552.92,607.1 558.08,607.1 563.24,607.1 568.4,607.1 573.56,607.1 578.72,607.1 583.88,607.1 589.04,607.1 594.2,607.1 599.36,607.1 604.52,607.1 609.68,607.1 614.84,607.1 620,607.1 625.16,607.1 630.32,607.1" fill="none" stroke="#ff6a10" stroke-width="1.6" stroke-linejoin="round" opacity="1.0"/>
<circle cx="408.4" cy="792.2" r="2.35" fill="#fff" stroke="#ff6a10" stroke-width="0.9"/>
<circle cx="413.6" cy="774.2" r="2.35" fill="#fff" stroke="#ff6a10" stroke-width="0.9"/>
<circle cx="418.7" cy="753.5" r="2.35" fill="#fff" stroke="#ff6a10" stroke-width="0.9"/>
<circle cx="423.9" cy="734.4" r="2.35" fill="#fff" stroke="#ff6a10" stroke-width="0.9"/>
<circle cx="429" cy="719.4" r="2.35" fill="#fff" stroke="#ff6a10" stroke-width="0.9"/>
<circle cx="434.2" cy="701.9" r="2.35" fill="#fff" stroke="#ff6a10" stroke-width="0.9"/>
<circle cx="439.4" cy="683.8" r="2.35" fill="#fff" stroke="#ff6a10" stroke-width="0.9"/>
<circle cx="444.5" cy="665.2" r="2.35" fill="#fff" stroke="#ff6a10" stroke-width="0.9"/>
<circle cx="449.7" cy="642.5" r="2.35" fill="#fff" stroke="#ff6a10" stroke-width="0.9"/>
<circle cx="454.9" cy="620.8" r="2.35" fill="#fff" stroke="#ff6a10" stroke-width="0.9"/>
<circle cx="460" cy="607.1" r="2.35" fill="#fff" stroke="#ff6a10" stroke-width="0.9"/>
<circle cx="465.2" cy="607.1" r="2.35" fill="#fff" stroke="#ff6a10" stroke-width="0.9"/>
<circle cx="470.36" cy="607.1" r="2.35" fill="#fff" stroke="#ff6a10" stroke-width="0.9"/>
<circle cx="475.52" cy="607.1" r="2.35" fill="#fff" stroke="#ff6a10" stroke-width="0.9"/>
<circle cx="480.68" cy="607.1" r="2.35" fill="#fff" stroke="#ff6a10" stroke-width="0.9"/>
<circle cx="485.84" cy="607.1" r="2.35" fill="#fff" stroke="#ff6a10" stroke-width="0.9"/>
<circle cx="491" cy="607.1" r="2.35" fill="#fff" stroke="#ff6a10" stroke-width="0.9"/>
<circle cx="496.16" cy="607.1" r="2.35" fill="#fff" stroke="#ff6a10" stroke-width="0.9"/>
<circle cx="501.32" cy="607.1" r="2.35" fill="#fff" stroke="#ff6a10" stroke-width="0.9"/>
<circle cx="506.48" cy="607.1" r="2.35" fill="#fff" stroke="#ff6a10" stroke-width="0.9"/>
<circle cx="511.64" cy="607.1" r="2.35" fill="#fff" stroke="#ff6a10" stroke-width="0.9"/>
<circle cx="516.8" cy="607.1" r="2.35" fill="#fff" stroke="#ff6a10" stroke-width="0.9"/>
<circle cx="521.96" cy="607.1" r="2.35" fill="#fff" stroke="#ff6a10" stroke-width="0.9"/>
<circle cx="527.12" cy="607.1" r="2.35" fill="#fff" stroke="#ff6a10" stroke-width="0.9"/>
<circle cx="532.28" cy="607.1" r="2.35" fill="#fff" stroke="#ff6a10" stroke-width="0.9"/>
<circle cx="537.44" cy="607.1" r="2.35" fill="#fff" stroke="#ff6a10" stroke-width="0.9"/>
<circle cx="542.6" cy="607.1" r="2.35" fill="#fff" stroke="#ff6a10" stroke-width="0.9"/>
<circle cx="547.76" cy="607.1" r="2.35" fill="#fff" stroke="#ff6a10" stroke-width="0.9"/>
<circle cx="552.92" cy="607.1" r="2.35" fill="#fff" stroke="#ff6a10" stroke-width="0.9"/>
<circle cx="558.08" cy="607.1" r="2.35" fill="#fff" stroke="#ff6a10" stroke-width="0.9"/>
<circle cx="563.24" cy="607.1" r="2.35" fill="#fff" stroke="#ff6a10" stroke-width="0.9"/>
<circle cx="568.4" cy="607.1" r="2.35" fill="#fff" stroke="#ff6a10" stroke-width="0.9"/>
<circle cx="573.56" cy="607.1" r="2.35" fill="#fff" stroke="#ff6a10" stroke-width="0.9"/>
<circle cx="578.72" cy="607.1" r="2.35" fill="#fff" stroke="#ff6a10" stroke-width="0.9"/>
<circle cx="583.88" cy="607.1" r="2.35" fill="#fff" stroke="#ff6a10" stroke-width="0.9"/>
<circle cx="589.04" cy="607.1" r="2.35" fill="#fff" stroke="#ff6a10" stroke-width="0.9"/>
<circle cx="594.2" cy="607.1" r="2.35" fill="#fff" stroke="#ff6a10" stroke-width="0.9"/>
<circle cx="599.36" cy="607.1" r="2.35" fill="#fff" stroke="#ff6a10" stroke-width="0.9"/>
<circle cx="604.52" cy="607.1" r="2.35" fill="#fff" stroke="#ff6a10" stroke-width="0.9"/>
<circle cx="609.68" cy="607.1" r="2.35" fill="#fff" stroke="#ff6a10" stroke-width="0.9"/>
<circle cx="614.84" cy="607.1" r="2.35" fill="#fff" stroke="#ff6a10" stroke-width="0.9"/>
<circle cx="620" cy="607.1" r="2.35" fill="#fff" stroke="#ff6a10" stroke-width="0.9"/>
<circle cx="625.16" cy="607.1" r="2.35" fill="#fff" stroke="#ff6a10" stroke-width="0.9"/>
<circle cx="630.32" cy="607.1" r="2.35" fill="#fff" stroke="#ff6a10" stroke-width="0.9"/>
<circle cx="475.6" cy="793.3" r="2.8" fill="#555555"/>
<circle cx="480.8" cy="793.3" r="2.8" fill="#555555"/>
<circle cx="486.8" cy="791.5" r="2.8" fill="#555555"/>
<circle cx="491.9" cy="788.9" r="2.8" fill="#555555"/>
<circle cx="497.1" cy="782.9" r="2.8" fill="#555555"/>
<circle cx="502.2" cy="778.5" r="2.8" fill="#555555"/>
<circle cx="507.4" cy="774.7" r="2.8" fill="#555555"/>
<circle cx="512.6" cy="768.2" r="2.8" fill="#555555"/>
<circle cx="517.7" cy="763.8" r="2.8" fill="#555555"/>
<circle cx="522.9" cy="757.1" r="2.8" fill="#555555"/>
<circle cx="528.1" cy="750.9" r="2.8" fill="#555555"/>
<circle cx="533.5" cy="738" r="2.8" fill="#555555"/>
<circle cx="538.6" cy="732.8" r="2.8" fill="#555555"/>
<circle cx="543.8" cy="728.7" r="2.8" fill="#555555"/>
<circle cx="549" cy="723.5" r="2.8" fill="#555555"/>
<circle cx="554.1" cy="717.3" r="2.8" fill="#555555"/>
<circle cx="559.3" cy="711.4" r="2.8" fill="#555555"/>
<circle cx="564.5" cy="707" r="2.8" fill="#555555"/>
<circle cx="569.6" cy="699.8" r="2.8" fill="#555555"/>
<circle cx="574.8" cy="693.3" r="2.8" fill="#555555"/>
<circle cx="580" cy="686.4" r="2.8" fill="#555555"/>
<circle cx="585.1" cy="677.1" r="2.8" fill="#555555"/>
<circle cx="590.3" cy="667.5" r="2.8" fill="#555555"/>
<circle cx="595.5" cy="658.5" r="2.8" fill="#555555"/>
<circle cx="600.6" cy="651.2" r="2.8" fill="#555555"/>
<circle cx="605.8" cy="637.3" r="2.8" fill="#555555"/>
<circle cx="610.9" cy="627.5" r="2.8" fill="#555555"/>
<circle cx="616.1" cy="619.7" r="2.8" fill="#555555"/>
<circle cx="621.3" cy="614.1" r="2.8" fill="#555555"/>
<circle cx="626.4" cy="613.3" r="2.8" fill="#555555"/>
<circle cx="475.3" cy="792.7" r="2.8" fill="#ee4040"/>
<circle cx="480.5" cy="792.7" r="2.8" fill="#ee4040"/>
<circle cx="486.5" cy="790.9" r="2.8" fill="#ee4040"/>
<circle cx="491.6" cy="788.3" r="2.8" fill="#ee4040"/>
<circle cx="496.8" cy="782.3" r="2.8" fill="#ee4040"/>
<circle cx="501.9" cy="777.9" r="2.8" fill="#ee4040"/>
<circle cx="507.1" cy="774.1" r="2.8" fill="#ee4040"/>
<circle cx="512.3" cy="767.6" r="2.8" fill="#ee4040"/>
<circle cx="517.4" cy="763.2" r="2.8" fill="#ee4040"/>
<circle cx="522.6" cy="756.5" r="2.8" fill="#ee4040"/>
<circle cx="527.8" cy="750.3" r="2.8" fill="#ee4040"/>
<circle cx="533.2" cy="737.4" r="2.8" fill="#ee4040"/>
<circle cx="538.3" cy="732.2" r="2.8" fill="#ee4040"/>
<circle cx="543.5" cy="728.1" r="2.8" fill="#ee4040"/>
<circle cx="548.7" cy="722.9" r="2.8" fill="#ee4040"/>
<circle cx="553.8" cy="716.7" r="2.8" fill="#ee4040"/>
<circle cx="559" cy="710.8" r="2.8" fill="#ee4040"/>
<circle cx="564.2" cy="706.4" r="2.8" fill="#ee4040"/>
<circle cx="569.3" cy="699.2" r="2.8" fill="#ee4040"/>
<circle cx="574.5" cy="692.7" r="2.8" fill="#ee4040"/>
<circle cx="579.7" cy="685.8" r="2.8" fill="#ee4040"/>
<circle cx="584.8" cy="676.5" r="2.8" fill="#ee4040"/>
<circle cx="590" cy="666.9" r="2.8" fill="#ee4040"/>
<circle cx="595.2" cy="657.9" r="2.8" fill="#ee4040"/>
<circle cx="600.3" cy="650.6" r="2.8" fill="#ee4040"/>
<circle cx="605.5" cy="636.7" r="2.8" fill="#ee4040"/>
<circle cx="610.6" cy="626.9" r="2.8" fill="#ee4040"/>
<circle cx="615.8" cy="619.1" r="2.8" fill="#ee4040"/>
<circle cx="621" cy="613.5" r="2.8" fill="#ee4040"/>
<circle cx="626.1" cy="612.7" r="2.8" fill="#ee4040"/>
<circle cx="475.4" cy="792.5" r="2.8" fill="#7a4e4e"/>
<circle cx="480.6" cy="792.5" r="2.8" fill="#7a4e4e"/>
<circle cx="486.6" cy="790.7" r="2.8" fill="#7a4e4e"/>
<circle cx="491.7" cy="788.1" r="2.8" fill="#7a4e4e"/>
<circle cx="496.9" cy="782.1" r="2.8" fill="#7a4e4e"/>
<circle cx="502" cy="777.7" r="2.8" fill="#7a4e4e"/>
<circle cx="507.2" cy="773.9" r="2.8" fill="#7a4e4e"/>
<circle cx="512.4" cy="767.4" r="2.8" fill="#7a4e4e"/>
<circle cx="517.5" cy="763" r="2.8" fill="#7a4e4e"/>
<circle cx="522.7" cy="756.3" r="2.8" fill="#7a4e4e"/>
<circle cx="527.9" cy="750.1" r="2.8" fill="#7a4e4e"/>
<circle cx="533.3" cy="737.2" r="2.8" fill="#7a4e4e"/>
<circle cx="538.4" cy="732" r="2.8" fill="#7a4e4e"/>
<circle cx="543.6" cy="727.9" r="2.8" fill="#7a4e4e"/>
<circle cx="548.8" cy="722.7" r="2.8" fill="#7a4e4e"/>
<circle cx="553.9" cy="716.5" r="2.8" fill="#7a4e4e"/>
<circle cx="559.1" cy="710.6" r="2.8" fill="#7a4e4e"/>
<circle cx="564.3" cy="706.2" r="2.8" fill="#7a4e4e"/>
<circle cx="569.4" cy="699" r="2.8" fill="#7a4e4e"/>
<circle cx="574.6" cy="692.5" r="2.8" fill="#7a4e4e"/>
<circle cx="579.8" cy="685.6" r="2.8" fill="#7a4e4e"/>
<circle cx="584.9" cy="676.3" r="2.8" fill="#7a4e4e"/>
<circle cx="590.1" cy="666.7" r="2.8" fill="#7a4e4e"/>
<circle cx="595.3" cy="657.7" r="2.8" fill="#7a4e4e"/>
<circle cx="600.4" cy="650.4" r="2.8" fill="#7a4e4e"/>
<circle cx="605.6" cy="636.5" r="2.8" fill="#7a4e4e"/>
<circle cx="610.7" cy="626.7" r="2.8" fill="#7a4e4e"/>
<circle cx="615.9" cy="618.9" r="2.8" fill="#7a4e4e"/>
<circle cx="621.1" cy="613.3" r="2.8" fill="#7a4e4e"/>
<circle cx="626.2" cy="612.5" r="2.8" fill="#7a4e4e"/>
<circle cx="475.1" cy="791.9" r="2.8" fill="#2468d8"/>
<circle cx="480.3" cy="791.9" r="2.8" fill="#2468d8"/>
<circle cx="486.3" cy="790.1" r="2.8" fill="#2468d8"/>
<circle cx="491.4" cy="787.5" r="2.8" fill="#2468d8"/>
<circle cx="496.6" cy="781.5" r="2.8" fill="#2468d8"/>
<circle cx="501.7" cy="777.1" r="2.8" fill="#2468d8"/>
<circle cx="506.9" cy="773.3" r="2.8" fill="#2468d8"/>
<circle cx="512.1" cy="766.8" r="2.8" fill="#2468d8"/>
<circle cx="517.2" cy="762.4" r="2.8" fill="#2468d8"/>
<circle cx="522.4" cy="755.7" r="2.8" fill="#2468d8"/>
<circle cx="527.6" cy="749.5" r="2.8" fill="#2468d8"/>
<circle cx="533" cy="736.6" r="2.8" fill="#2468d8"/>
<circle cx="538.1" cy="731.4" r="2.8" fill="#2468d8"/>
<circle cx="543.3" cy="727.3" r="2.8" fill="#2468d8"/>
<circle cx="548.5" cy="722.1" r="2.8" fill="#2468d8"/>
<circle cx="553.6" cy="715.9" r="2.8" fill="#2468d8"/>
<circle cx="558.8" cy="710" r="2.8" fill="#2468d8"/>
<circle cx="564" cy="705.6" r="2.8" fill="#2468d8"/>
<circle cx="569.1" cy="698.4" r="2.8" fill="#2468d8"/>
<circle cx="574.3" cy="691.9" r="2.8" fill="#2468d8"/>
<circle cx="579.5" cy="685" r="2.8" fill="#2468d8"/>
<circle cx="584.6" cy="675.7" r="2.8" fill="#2468d8"/>
<circle cx="589.8" cy="666.1" r="2.8" fill="#2468d8"/>
<circle cx="595" cy="657.1" r="2.8" fill="#2468d8"/>
<circle cx="600.1" cy="649.8" r="2.8" fill="#2468d8"/>
<circle cx="605.3" cy="635.9" r="2.8" fill="#2468d8"/>
<circle cx="610.4" cy="626.1" r="2.8" fill="#2468d8"/>
<circle cx="615.6" cy="618.3" r="2.8" fill="#2468d8"/>
<circle cx="620.8" cy="612.7" r="2.8" fill="#2468d8"/>
<circle cx="625.9" cy="611.9" r="2.8" fill="#2468d8"/>
<circle cx="475" cy="791.5" r="2.8" fill="#2e9e5e"/>
<circle cx="480.2" cy="791.5" r="2.8" fill="#2e9e5e"/>
<circle cx="486.2" cy="789.7" r="2.8" fill="#2e9e5e"/>
<circle cx="491.3" cy="787.1" r="2.8" fill="#2e9e5e"/>
<circle cx="496.5" cy="781.1" r="2.8" fill="#2e9e5e"/>
<circle cx="501.6" cy="776.7" r="2.8" fill="#2e9e5e"/>
<circle cx="506.8" cy="772.9" r="2.8" fill="#2e9e5e"/>
<circle cx="512" cy="766.4" r="2.8" fill="#2e9e5e"/>
<circle cx="517.1" cy="762" r="2.8" fill="#2e9e5e"/>
<circle cx="522.3" cy="755.3" r="2.8" fill="#2e9e5e"/>
<circle cx="527.5" cy="749.1" r="2.8" fill="#2e9e5e"/>
<circle cx="532.9" cy="736.2" r="2.8" fill="#2e9e5e"/>
<circle cx="538" cy="731" r="2.8" fill="#2e9e5e"/>
<circle cx="543.2" cy="726.9" r="2.8" fill="#2e9e5e"/>
<circle cx="548.4" cy="721.7" r="2.8" fill="#2e9e5e"/>
<circle cx="553.5" cy="715.5" r="2.8" fill="#2e9e5e"/>
<circle cx="558.7" cy="709.6" r="2.8" fill="#2e9e5e"/>
<circle cx="563.9" cy="705.2" r="2.8" fill="#2e9e5e"/>
<circle cx="569" cy="698" r="2.8" fill="#2e9e5e"/>
<circle cx="574.2" cy="691.5" r="2.8" fill="#2e9e5e"/>
<circle cx="579.4" cy="684.6" r="2.8" fill="#2e9e5e"/>
<circle cx="584.5" cy="675.3" r="2.8" fill="#2e9e5e"/>
<circle cx="589.7" cy="665.7" r="2.8" fill="#2e9e5e"/>
<circle cx="594.9" cy="656.7" r="2.8" fill="#2e9e5e"/>
<circle cx="600" cy="649.4" r="2.8" fill="#2e9e5e"/>
<circle cx="605.2" cy="635.5" r="2.8" fill="#2e9e5e"/>
<circle cx="610.3" cy="625.7" r="2.8" fill="#2e9e5e"/>
<circle cx="615.5" cy="617.9" r="2.8" fill="#2e9e5e"/>
<circle cx="620.7" cy="612.3" r="2.8" fill="#2e9e5e"/>
<circle cx="625.8" cy="611.5" r="2.8" fill="#2e9e5e"/>
<circle cx="475" cy="791.1" r="2.8" fill="#a46ee0"/>
<circle cx="480.2" cy="791.1" r="2.8" fill="#a46ee0"/>
<circle cx="486.2" cy="789.3" r="2.8" fill="#a46ee0"/>
<circle cx="491.3" cy="786.7" r="2.8" fill="#a46ee0"/>
<circle cx="496.5" cy="780.7" r="2.8" fill="#a46ee0"/>
<circle cx="501.6" cy="776.3" r="2.8" fill="#a46ee0"/>
<circle cx="506.8" cy="772.5" r="2.8" fill="#a46ee0"/>
<circle cx="512" cy="766" r="2.8" fill="#a46ee0"/>
<circle cx="517.1" cy="761.6" r="2.8" fill="#a46ee0"/>
<circle cx="522.3" cy="754.9" r="2.8" fill="#a46ee0"/>
<circle cx="527.5" cy="748.7" r="2.8" fill="#a46ee0"/>
<circle cx="532.9" cy="735.8" r="2.8" fill="#a46ee0"/>
<circle cx="538" cy="730.6" r="2.8" fill="#a46ee0"/>
<circle cx="543.2" cy="726.5" r="2.8" fill="#a46ee0"/>
<circle cx="548.4" cy="721.3" r="2.8" fill="#a46ee0"/>
<circle cx="553.5" cy="715.1" r="2.8" fill="#a46ee0"/>
<circle cx="558.7" cy="709.2" r="2.8" fill="#a46ee0"/>
<circle cx="563.9" cy="704.8" r="2.8" fill="#a46ee0"/>
<circle cx="569" cy="697.6" r="2.8" fill="#a46ee0"/>
<circle cx="574.2" cy="691.1" r="2.8" fill="#a46ee0"/>
<circle cx="579.4" cy="684.2" r="2.8" fill="#a46ee0"/>
<circle cx="584.5" cy="674.9" r="2.8" fill="#a46ee0"/>
<circle cx="589.7" cy="665.3" r="2.8" fill="#a46ee0"/>
<circle cx="594.9" cy="656.3" r="2.8" fill="#a46ee0"/>
<circle cx="600" cy="649" r="2.8" fill="#a46ee0"/>
<circle cx="605.2" cy="635.1" r="2.8" fill="#a46ee0"/>
<circle cx="610.3" cy="625.3" r="2.8" fill="#a46ee0"/>
<circle cx="615.5" cy="617.5" r="2.8" fill="#a46ee0"/>
<circle cx="620.7" cy="611.9" r="2.8" fill="#a46ee0"/>
<circle cx="625.8" cy="611.1" r="2.8" fill="#a46ee0"/>
<circle cx="474.9" cy="790.8" r="2.8" fill="#c8960c"/>
<circle cx="480.1" cy="790.8" r="2.8" fill="#c8960c"/>
<circle cx="486.1" cy="789" r="2.8" fill="#c8960c"/>
<circle cx="491.2" cy="786.4" r="2.8" fill="#c8960c"/>
<circle cx="496.4" cy="780.4" r="2.8" fill="#c8960c"/>
<circle cx="501.5" cy="776" r="2.8" fill="#c8960c"/>
<circle cx="506.7" cy="772.2" r="2.8" fill="#c8960c"/>
<circle cx="511.9" cy="765.7" r="2.8" fill="#c8960c"/>
<circle cx="517" cy="761.3" r="2.8" fill="#c8960c"/>
<circle cx="522.2" cy="754.6" r="2.8" fill="#c8960c"/>
<circle cx="527.4" cy="748.4" r="2.8" fill="#c8960c"/>
<circle cx="532.8" cy="735.5" r="2.8" fill="#c8960c"/>
<circle cx="537.9" cy="730.3" r="2.8" fill="#c8960c"/>
<circle cx="543.1" cy="726.2" r="2.8" fill="#c8960c"/>
<circle cx="548.3" cy="721" r="2.8" fill="#c8960c"/>
<circle cx="553.4" cy="714.8" r="2.8" fill="#c8960c"/>
<circle cx="558.6" cy="708.9" r="2.8" fill="#c8960c"/>
<circle cx="563.8" cy="704.5" r="2.8" fill="#c8960c"/>
<circle cx="568.9" cy="697.3" r="2.8" fill="#c8960c"/>
<circle cx="574.1" cy="690.8" r="2.8" fill="#c8960c"/>
<circle cx="579.3" cy="683.9" r="2.8" fill="#c8960c"/>
<circle cx="584.4" cy="674.6" r="2.8" fill="#c8960c"/>
<circle cx="589.6" cy="665" r="2.8" fill="#c8960c"/>
<circle cx="594.8" cy="656" r="2.8" fill="#c8960c"/>
<circle cx="599.9" cy="648.7" r="2.8" fill="#c8960c"/>
<circle cx="605.1" cy="634.8" r="2.8" fill="#c8960c"/>
<circle cx="610.2" cy="625" r="2.8" fill="#c8960c"/>
<circle cx="615.4" cy="617.2" r="2.8" fill="#c8960c"/>
<circle cx="620.6" cy="611.6" r="2.8" fill="#c8960c"/>
<circle cx="625.7" cy="610.8" r="2.8" fill="#c8960c"/>
<circle cx="474.9" cy="790.5" r="2.8" fill="#12c4cc"/>
<circle cx="480.1" cy="790.5" r="2.8" fill="#12c4cc"/>
<circle cx="486.1" cy="788.7" r="2.8" fill="#12c4cc"/>
<circle cx="491.2" cy="786.1" r="2.8" fill="#12c4cc"/>
<circle cx="496.4" cy="780.1" r="2.8" fill="#12c4cc"/>
<circle cx="501.5" cy="775.7" r="2.8" fill="#12c4cc"/>
<circle cx="506.7" cy="771.9" r="2.8" fill="#12c4cc"/>
<circle cx="511.9" cy="765.4" r="2.8" fill="#12c4cc"/>
<circle cx="517" cy="761" r="2.8" fill="#12c4cc"/>
<circle cx="522.2" cy="754.3" r="2.8" fill="#12c4cc"/>
<circle cx="527.4" cy="748.1" r="2.8" fill="#12c4cc"/>
<circle cx="532.8" cy="735.2" r="2.8" fill="#12c4cc"/>
<circle cx="537.9" cy="730" r="2.8" fill="#12c4cc"/>
<circle cx="543.1" cy="725.9" r="2.8" fill="#12c4cc"/>
<circle cx="548.3" cy="720.7" r="2.8" fill="#12c4cc"/>
<circle cx="553.4" cy="714.5" r="2.8" fill="#12c4cc"/>
<circle cx="558.6" cy="708.6" r="2.8" fill="#12c4cc"/>
<circle cx="563.8" cy="704.2" r="2.8" fill="#12c4cc"/>
<circle cx="568.9" cy="697" r="2.8" fill="#12c4cc"/>
<circle cx="574.1" cy="690.5" r="2.8" fill="#12c4cc"/>
<circle cx="579.3" cy="683.6" r="2.8" fill="#12c4cc"/>
<circle cx="584.4" cy="674.3" r="2.8" fill="#12c4cc"/>
<circle cx="589.6" cy="664.7" r="2.8" fill="#12c4cc"/>
<circle cx="594.8" cy="655.7" r="2.8" fill="#12c4cc"/>
<circle cx="599.9" cy="648.4" r="2.8" fill="#12c4cc"/>
<circle cx="605.1" cy="634.5" r="2.8" fill="#12c4cc"/>
<circle cx="610.2" cy="624.7" r="2.8" fill="#12c4cc"/>
<circle cx="615.4" cy="616.9" r="2.8" fill="#12c4cc"/>
<circle cx="620.6" cy="611.3" r="2.8" fill="#12c4cc"/>
<circle cx="625.7" cy="610.5" r="2.8" fill="#12c4cc"/>
<circle cx="474.8" cy="790.2" r="2.8" fill="#8a9012"/>
<circle cx="480" cy="790.2" r="2.8" fill="#8a9012"/>
<circle cx="486" cy="788.4" r="2.8" fill="#8a9012"/>
<circle cx="491.1" cy="785.8" r="2.8" fill="#8a9012"/>
<circle cx="496.3" cy="779.8" r="2.8" fill="#8a9012"/>
<circle cx="501.4" cy="775.4" r="2.8" fill="#8a9012"/>
<circle cx="506.6" cy="771.6" r="2.8" fill="#8a9012"/>
<circle cx="511.8" cy="765.1" r="2.8" fill="#8a9012"/>
<circle cx="516.9" cy="760.7" r="2.8" fill="#8a9012"/>
<circle cx="522.1" cy="754" r="2.8" fill="#8a9012"/>
<circle cx="527.3" cy="747.8" r="2.8" fill="#8a9012"/>
<circle cx="532.7" cy="734.9" r="2.8" fill="#8a9012"/>
<circle cx="537.8" cy="729.7" r="2.8" fill="#8a9012"/>
<circle cx="543" cy="725.6" r="2.8" fill="#8a9012"/>
<circle cx="548.2" cy="720.4" r="2.8" fill="#8a9012"/>
<circle cx="553.3" cy="714.2" r="2.8" fill="#8a9012"/>
<circle cx="558.5" cy="708.3" r="2.8" fill="#8a9012"/>
<circle cx="563.7" cy="703.9" r="2.8" fill="#8a9012"/>
<circle cx="568.8" cy="696.7" r="2.8" fill="#8a9012"/>
<circle cx="574" cy="690.2" r="2.8" fill="#8a9012"/>
<circle cx="579.2" cy="683.3" r="2.8" fill="#8a9012"/>
<circle cx="584.3" cy="674" r="2.8" fill="#8a9012"/>
<circle cx="589.5" cy="664.4" r="2.8" fill="#8a9012"/>
<circle cx="594.7" cy="655.4" r="2.8" fill="#8a9012"/>
<circle cx="599.8" cy="648.1" r="2.8" fill="#8a9012"/>
<circle cx="605" cy="634.2" r="2.8" fill="#8a9012"/>
<circle cx="610.1" cy="624.4" r="2.8" fill="#8a9012"/>
<circle cx="615.3" cy="616.6" r="2.8" fill="#8a9012"/>
<circle cx="620.5" cy="611" r="2.8" fill="#8a9012"/>
<circle cx="625.6" cy="610.2" r="2.8" fill="#8a9012"/>
<polyline points="398,792.6 403.16,792.6 408.32,792.6 413.48,792.6 418.64,792.6 423.8,792.6 428.96,792.6 434.12,792.6 439.28,792.6 444.44,792.6 449.6,792.6 454.76,792.6 459.92,792.6 465.08,792.6 470.24,792.6 474.7,789.7 479.9,789.7 485.9,787.9 491,785.3 496.2,779.3 501.3,774.9 506.5,771.1 511.7,764.6 516.8,760.2 522,753.5 527.2,747.3 532.6,734.4 537.7,729.2 542.9,725.1 548.1,719.9 553.2,713.7 558.4,707.8 563.6,703.4 568.7,696.2 573.9,689.7 579.1,682.8 584.2,673.5 589.4,663.9 594.6,654.9 599.7,647.6 604.9,633.7 610,623.9 615.2,616.1 620.4,610.5 625.5,609.7 630.7,607.9 635.9,607.4 641.06,607.4 646.22,607.4 651.38,607.4 656.54,607.4 661.7,607.4 666.86,607.4" fill="none" stroke="#ff6a10" stroke-width="1.4" stroke-linejoin="round" opacity="1.0"/>
<circle cx="398" cy="792.6" r="2.9" fill="#ff6a10"/>
<circle cx="403.16" cy="792.6" r="2.9" fill="#ff6a10"/>
<circle cx="408.32" cy="792.6" r="2.9" fill="#ff6a10"/>
<circle cx="413.48" cy="792.6" r="2.9" fill="#ff6a10"/>
<circle cx="418.64" cy="792.6" r="2.9" fill="#ff6a10"/>
<circle cx="423.8" cy="792.6" r="2.9" fill="#ff6a10"/>
<circle cx="428.96" cy="792.6" r="2.9" fill="#ff6a10"/>
<circle cx="434.12" cy="792.6" r="2.9" fill="#ff6a10"/>
<circle cx="439.28" cy="792.6" r="2.9" fill="#ff6a10"/>
<circle cx="444.44" cy="792.6" r="2.9" fill="#ff6a10"/>
<circle cx="449.6" cy="792.6" r="2.9" fill="#ff6a10"/>
<circle cx="454.76" cy="792.6" r="2.9" fill="#ff6a10"/>
<circle cx="459.92" cy="792.6" r="2.9" fill="#ff6a10"/>
<circle cx="465.08" cy="792.6" r="2.9" fill="#ff6a10"/>
<circle cx="470.24" cy="792.6" r="2.9" fill="#ff6a10"/>
<circle cx="474.7" cy="789.7" r="2.9" fill="#ff6a10"/>
<circle cx="479.9" cy="789.7" r="2.9" fill="#ff6a10"/>
<circle cx="485.9" cy="787.9" r="2.9" fill="#ff6a10"/>
<circle cx="491" cy="785.3" r="2.9" fill="#ff6a10"/>
<circle cx="496.2" cy="779.3" r="2.9" fill="#ff6a10"/>
<circle cx="501.3" cy="774.9" r="2.9" fill="#ff6a10"/>
<circle cx="506.5" cy="771.1" r="2.9" fill="#ff6a10"/>
<circle cx="511.7" cy="764.6" r="2.9" fill="#ff6a10"/>
<circle cx="516.8" cy="760.2" r="2.9" fill="#ff6a10"/>
<circle cx="522" cy="753.5" r="2.9" fill="#ff6a10"/>
<circle cx="527.2" cy="747.3" r="2.9" fill="#ff6a10"/>
<circle cx="532.6" cy="734.4" r="2.9" fill="#ff6a10"/>
<circle cx="537.7" cy="729.2" r="2.9" fill="#ff6a10"/>
<circle cx="542.9" cy="725.1" r="2.9" fill="#ff6a10"/>
<circle cx="548.1" cy="719.9" r="2.9" fill="#ff6a10"/>
<circle cx="553.2" cy="713.7" r="2.9" fill="#ff6a10"/>
<circle cx="558.4" cy="707.8" r="2.9" fill="#ff6a10"/>
<circle cx="563.6" cy="703.4" r="2.9" fill="#ff6a10"/>
<circle cx="568.7" cy="696.2" r="2.9" fill="#ff6a10"/>
<circle cx="573.9" cy="689.7" r="2.9" fill="#ff6a10"/>
<circle cx="579.1" cy="682.8" r="2.9" fill="#ff6a10"/>
<circle cx="584.2" cy="673.5" r="2.9" fill="#ff6a10"/>
<circle cx="589.4" cy="663.9" r="2.9" fill="#ff6a10"/>
<circle cx="594.6" cy="654.9" r="2.9" fill="#ff6a10"/>
<circle cx="599.7" cy="647.6" r="2.9" fill="#ff6a10"/>
<circle cx="604.9" cy="633.7" r="2.9" fill="#ff6a10"/>
<circle cx="610" cy="623.9" r="2.9" fill="#ff6a10"/>
<circle cx="615.2" cy="616.1" r="2.9" fill="#ff6a10"/>
<circle cx="620.4" cy="610.5" r="2.9" fill="#ff6a10"/>
<circle cx="625.5" cy="609.7" r="2.9" fill="#ff6a10"/>
<circle cx="630.7" cy="607.9" r="2.9" fill="#ff6a10"/>
<circle cx="635.9" cy="607.4" r="2.9" fill="#ff6a10"/>
<circle cx="641.06" cy="607.4" r="2.9" fill="#ff6a10"/>
<circle cx="646.22" cy="607.4" r="2.9" fill="#ff6a10"/>
<circle cx="651.38" cy="607.4" r="2.9" fill="#ff6a10"/>
<circle cx="656.54" cy="607.4" r="2.9" fill="#ff6a10"/>
<circle cx="661.7" cy="607.4" r="2.9" fill="#ff6a10"/>
<circle cx="666.86" cy="607.4" r="2.9" fill="#ff6a10"/>
<rect x="398" y="579.9" width="275.4" height="221.6" fill="none" stroke="#222" stroke-width="1.3"/>
<line x1="394" y1="792.6" x2="398" y2="792.6" stroke="#222" stroke-width="1.2"/>
<text x="391" y="797.36" font-size="14" text-anchor="end" fill="#111">0.0</text>
<line x1="394" y1="755.62" x2="398" y2="755.62" stroke="#222" stroke-width="1.2"/>
<text x="391" y="760.38" font-size="14" text-anchor="end" fill="#111">0.2</text>
<line x1="394" y1="718.64" x2="398" y2="718.64" stroke="#222" stroke-width="1.2"/>
<text x="391" y="723.4" font-size="14" text-anchor="end" fill="#111">0.4</text>
<line x1="394" y1="681.66" x2="398" y2="681.66" stroke="#222" stroke-width="1.2"/>
<text x="391" y="686.42" font-size="14" text-anchor="end" fill="#111">0.6</text>
<line x1="394" y1="644.68" x2="398" y2="644.68" stroke="#222" stroke-width="1.2"/>
<text x="391" y="649.44" font-size="14" text-anchor="end" fill="#111">0.8</text>
<line x1="394" y1="607.7" x2="398" y2="607.7" stroke="#222" stroke-width="1.2"/>
<text x="391" y="612.46" font-size="14" text-anchor="end" fill="#111">1.0</text>
<line x1="395.8" y1="774.11" x2="398" y2="774.11" stroke="#222" stroke-width="1.2"/>
<line x1="395.8" y1="737.13" x2="398" y2="737.13" stroke="#222" stroke-width="1.2"/>
<line x1="395.8" y1="700.15" x2="398" y2="700.15" stroke="#222" stroke-width="1.2"/>
<line x1="395.8" y1="663.17" x2="398" y2="663.17" stroke="#222" stroke-width="1.2"/>
<line x1="395.8" y1="626.19" x2="398" y2="626.19" stroke="#222" stroke-width="1.2"/>
<line x1="395.8" y1="589.21" x2="398" y2="589.21" stroke="#222" stroke-width="1.2"/>
<line x1="398" y1="801.5" x2="398" y2="805.5" stroke="#222" stroke-width="1.2"/>
<text x="398" y="820" font-size="14" text-anchor="middle" fill="#111">0</text>
<line x1="463.6" y1="801.5" x2="463.6" y2="805.5" stroke="#222" stroke-width="1.2"/>
<text x="463.6" y="820" font-size="14" text-anchor="middle" fill="#111">100</text>
<line x1="529.2" y1="801.5" x2="529.2" y2="805.5" stroke="#222" stroke-width="1.2"/>
<text x="529.2" y="820" font-size="14" text-anchor="middle" fill="#111">200</text>
<line x1="594.8" y1="801.5" x2="594.8" y2="805.5" stroke="#222" stroke-width="1.2"/>
<text x="594.8" y="820" font-size="14" text-anchor="middle" fill="#111">300</text>
<line x1="660.4" y1="801.5" x2="660.4" y2="805.5" stroke="#222" stroke-width="1.2"/>
<text x="660.4" y="820" font-size="14" text-anchor="middle" fill="#111">400</text>
<line x1="430.8" y1="801.5" x2="430.8" y2="803.7" stroke="#222" stroke-width="1.2"/>
<line x1="496.4" y1="801.5" x2="496.4" y2="803.7" stroke="#222" stroke-width="1.2"/>
<line x1="562" y1="801.5" x2="562" y2="803.7" stroke="#222" stroke-width="1.2"/>
<line x1="627.6" y1="801.5" x2="627.6" y2="803.7" stroke="#222" stroke-width="1.2"/>
<text x="605.4" y="657.5" font-size="11.5" text-anchor="start" fill="#111">C<tspan font-size="7.59" dy="3.11">3</tspan><tspan dy="-3.11">H</tspan><tspan font-size="7.59" dy="3.11">6</tspan></text>
<text x="633.3" y="657.5" font-size="11.5" text-anchor="start" fill="#111">C<tspan font-size="7.59" dy="3.11">3</tspan><tspan dy="-3.11">H</tspan><tspan font-size="7.59" dy="3.11">4</tspan></text>
<line x1="605.4" y1="667.8" x2="658.3" y2="667.8" stroke="#555555" stroke-width="1.3"/>
<circle cx="618.3" cy="667.8" r="2.2" fill="#fff" stroke="#555555" stroke-width="0.8"/>
<circle cx="645.4" cy="667.8" r="2.8" fill="#555555"/>
<text x="661.2" y="672.3" font-size="13" text-anchor="start" fill="#111">1</text>
<line x1="605.4" y1="681.9" x2="658.3" y2="681.9" stroke="#ee4040" stroke-width="1.3"/>
<circle cx="618.3" cy="681.9" r="2.2" fill="#fff" stroke="#ee4040" stroke-width="0.8"/>
<circle cx="645.4" cy="681.9" r="2.8" fill="#ee4040"/>
<text x="661.2" y="686.4" font-size="13" text-anchor="start" fill="#111">2</text>
<line x1="605.4" y1="696" x2="658.3" y2="696" stroke="#2468d8" stroke-width="1.3"/>
<circle cx="618.3" cy="696" r="2.2" fill="#fff" stroke="#2468d8" stroke-width="0.8"/>
<circle cx="645.4" cy="696" r="2.8" fill="#2468d8"/>
<text x="661.2" y="700.5" font-size="13" text-anchor="start" fill="#111">3</text>
<line x1="605.4" y1="710.1" x2="658.3" y2="710.1" stroke="#2e9e5e" stroke-width="1.3"/>
<circle cx="618.3" cy="710.1" r="2.2" fill="#fff" stroke="#2e9e5e" stroke-width="0.8"/>
<circle cx="645.4" cy="710.1" r="2.8" fill="#2e9e5e"/>
<text x="661.2" y="714.6" font-size="13" text-anchor="start" fill="#111">4</text>
<line x1="605.4" y1="724.2" x2="658.3" y2="724.2" stroke="#a46ee0" stroke-width="1.3"/>
<circle cx="618.3" cy="724.2" r="2.2" fill="#fff" stroke="#a46ee0" stroke-width="0.8"/>
<circle cx="645.4" cy="724.2" r="2.8" fill="#a46ee0"/>
<text x="661.2" y="728.7" font-size="13" text-anchor="start" fill="#111">5</text>
<line x1="605.4" y1="738.3" x2="658.3" y2="738.3" stroke="#c8960c" stroke-width="1.3"/>
<circle cx="618.3" cy="738.3" r="2.2" fill="#fff" stroke="#c8960c" stroke-width="0.8"/>
<circle cx="645.4" cy="738.3" r="2.8" fill="#c8960c"/>
<text x="661.2" y="742.8" font-size="13" text-anchor="start" fill="#111">6</text>
<line x1="605.4" y1="752.4" x2="658.3" y2="752.4" stroke="#12c4cc" stroke-width="1.3"/>
<circle cx="618.3" cy="752.4" r="2.2" fill="#fff" stroke="#12c4cc" stroke-width="0.8"/>
<circle cx="645.4" cy="752.4" r="2.8" fill="#12c4cc"/>
<text x="661.2" y="756.9" font-size="13" text-anchor="start" fill="#111">7</text>
<line x1="605.4" y1="766.5" x2="658.3" y2="766.5" stroke="#7a4e4e" stroke-width="1.3"/>
<circle cx="618.3" cy="766.5" r="2.2" fill="#fff" stroke="#7a4e4e" stroke-width="0.8"/>
<circle cx="645.4" cy="766.5" r="2.8" fill="#7a4e4e"/>
<text x="661.2" y="771" font-size="13" text-anchor="start" fill="#111">8</text>
<line x1="605.4" y1="780.6" x2="658.3" y2="780.6" stroke="#8a9012" stroke-width="1.3"/>
<circle cx="618.3" cy="780.6" r="2.2" fill="#fff" stroke="#8a9012" stroke-width="0.8"/>
<circle cx="645.4" cy="780.6" r="2.8" fill="#8a9012"/>
<text x="661.2" y="785.1" font-size="13" text-anchor="start" fill="#111">9</text>
<line x1="605.4" y1="794.7" x2="658.3" y2="794.7" stroke="#ff6a10" stroke-width="1.3"/>
<circle cx="618.3" cy="794.7" r="2.2" fill="#fff" stroke="#ff6a10" stroke-width="0.8"/>
<circle cx="645.4" cy="794.7" r="2.8" fill="#ff6a10"/>
<text x="661.2" y="799.2" font-size="13" text-anchor="start" fill="#111">10</text>
<text x="403.7" y="591.6" font-size="11.6" text-anchor="start" fill="#111">C<tspan font-size="7.66" dy="3.13">3</tspan><tspan dy="-3.13">H</tspan><tspan font-size="7.66" dy="3.13">4</tspan><tspan dy="-3.13">: C</tspan><tspan font-size="7.66" dy="3.13">3</tspan><tspan dy="-3.13">H</tspan><tspan font-size="7.66" dy="3.13">6</tspan><tspan dy="-3.13">=1: 99</tspan></text>
<text x="438.6" y="709.5" font-size="12" text-anchor="start" fill="#111">C<tspan font-size="7.2" dy="3.24">3</tspan><tspan dy="-3.24">H</tspan><tspan font-size="7.2" dy="3.24">6</tspan></text>
<text x="519.4" y="711" font-size="12" text-anchor="start" fill="#111">C<tspan font-size="7.2" dy="3.24">3</tspan><tspan dy="-3.24">H</tspan><tspan font-size="7.2" dy="3.24">4</tspan></text>
<text x="536.4" y="847.8" font-size="18.5" text-anchor="middle" fill="#111">Time (min/g)</text>
<text x="362.5" y="691.3" font-size="20" text-anchor="middle" fill="#111" transform="rotate(-90 362.5 691.3)">C/C<tspan font-size="10" dy="6.2">0</tspan></text>
<text x="348" y="589.5" font-size="37" text-anchor="start" fill="#111">f</text>
</svg></body></html>
